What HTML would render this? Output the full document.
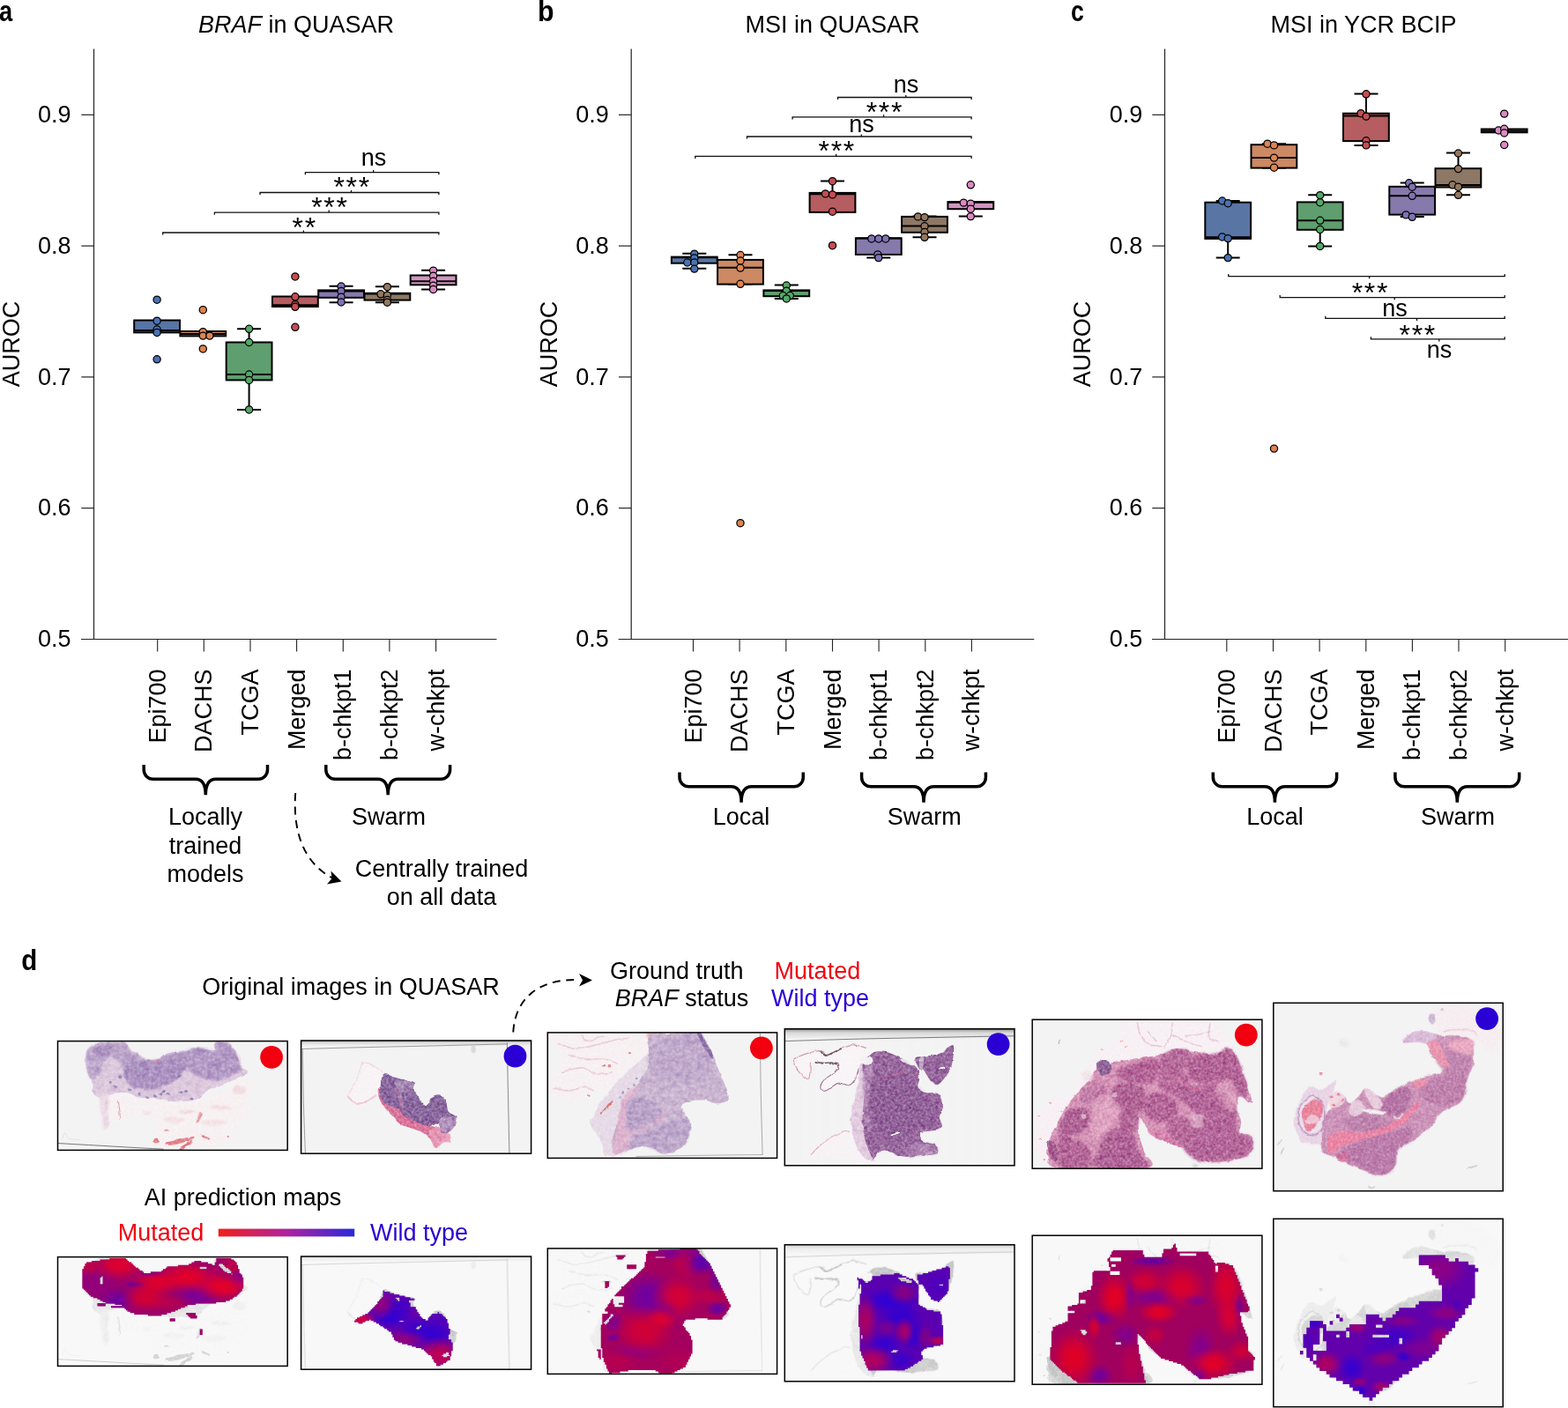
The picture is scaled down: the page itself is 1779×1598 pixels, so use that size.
<!DOCTYPE html>
<html lang="en"><head><meta charset="utf-8"><title>Figure</title>
<style>
html,body{margin:0;padding:0;background:#fff;}
body{width:1779px;height:1598px;overflow:hidden;font-family:"Liberation Sans", sans-serif;}
svg{display:block}
</style></head><body>
<svg width="1779" height="1598" viewBox="0 0 1779 1598" font-family='"Liberation Sans", sans-serif'>
<defs><linearGradient id="gbar" x1="0" x2="1" y1="0" y2="0"><stop offset="0" stop-color="#f2201a"/><stop offset="0.5" stop-color="#b022a0"/><stop offset="1" stop-color="#2a2ad8"/></linearGradient>
<filter id="b1" x="-30%" y="-30%" width="160%" height="160%"><feGaussianBlur stdDeviation="0.5"/></filter>
<filter id="b2" x="-30%" y="-30%" width="160%" height="160%"><feGaussianBlur stdDeviation="1.0"/></filter>
<filter id="b3" x="-30%" y="-30%" width="160%" height="160%"><feGaussianBlur stdDeviation="1.5"/></filter>
<filter id="b4" x="-30%" y="-30%" width="160%" height="160%"><feGaussianBlur stdDeviation="2.2"/></filter>
<filter id="b6" x="-30%" y="-30%" width="160%" height="160%"><feGaussianBlur stdDeviation="3.5"/></filter>
<filter id="b8" x="-30%" y="-30%" width="160%" height="160%"><feGaussianBlur stdDeviation="5"/></filter>
<filter id="b12" x="-30%" y="-30%" width="160%" height="160%"><feGaussianBlur stdDeviation="8"/></filter>
<filter id="rough" x="-5%" y="-5%" width="110%" height="110%" color-interpolation-filters="sRGB">
<feTurbulence type="fractalNoise" baseFrequency="0.09" numOctaves="3" seed="7" result="t"/>
<feDisplacementMap in="SourceGraphic" in2="t" scale="4" xChannelSelector="R" yChannelSelector="G" result="d"/>
<feTurbulence type="fractalNoise" baseFrequency="0.3" numOctaves="3" seed="11" result="n"/>
<feColorMatrix in="n" type="matrix" values="0 0 0 0 1  0 0 0 0 1  0 0 0 0 1  0.6 0 0 0 -0.2" result="w"/>
<feComposite in="w" in2="d" operator="in" result="wi"/>
<feTurbulence type="fractalNoise" baseFrequency="0.135" numOctaves="2" seed="16" result="n2"/>
<feColorMatrix in="n2" type="matrix" values="0 0 0 0 0.40  0 0 0 0 0.22  0 0 0 0 0.55  0 0.8 0 0 -0.3" result="k"/>
<feColorMatrix in="d" type="matrix" values="0 0 0 0 0  0 0 0 0 0  0 0 0 0 0  -3.2 -0.23 0 3.3 0" result="m"/>
<feComposite in="k" in2="m" operator="in" result="ki"/>
<feMerge><feMergeNode in="d"/><feMergeNode in="ki"/><feMergeNode in="wi"/></feMerge>
<feGaussianBlur stdDeviation="0.55"/>
</filter>
<filter id="rough2" x="-5%" y="-5%" width="110%" height="110%" color-interpolation-filters="sRGB">
<feTurbulence type="fractalNoise" baseFrequency="0.12" numOctaves="3" seed="3" result="t"/>
<feDisplacementMap in="SourceGraphic" in2="t" scale="3.5" xChannelSelector="R" yChannelSelector="G" result="d"/>
<feTurbulence type="fractalNoise" baseFrequency="0.35" numOctaves="3" seed="7" result="n"/>
<feColorMatrix in="n" type="matrix" values="0 0 0 0 1  0 0 0 0 1  0 0 0 0 1  0.7 0 0 0 -0.22" result="w"/>
<feComposite in="w" in2="d" operator="in" result="wi"/>
<feTurbulence type="fractalNoise" baseFrequency="0.158" numOctaves="2" seed="12" result="n2"/>
<feColorMatrix in="n2" type="matrix" values="0 0 0 0 0.36  0 0 0 0 0.12  0 0 0 0 0.42  0 1.1 0 0 -0.4" result="k"/>
<feColorMatrix in="d" type="matrix" values="0 0 0 0 0  0 0 0 0 0  0 0 0 0 0  -3.2 -0.23 0 3.3 0" result="m"/>
<feComposite in="k" in2="m" operator="in" result="ki"/>
<feMerge><feMergeNode in="d"/><feMergeNode in="ki"/><feMergeNode in="wi"/></feMerge>
<feGaussianBlur stdDeviation="0.55"/>
</filter>
<filter id="rough3" x="-5%" y="-5%" width="110%" height="110%" color-interpolation-filters="sRGB">
<feTurbulence type="fractalNoise" baseFrequency="0.12" numOctaves="3" seed="5" result="t"/>
<feDisplacementMap in="SourceGraphic" in2="t" scale="3.5" xChannelSelector="R" yChannelSelector="G" result="d"/>
<feTurbulence type="fractalNoise" baseFrequency="0.35" numOctaves="3" seed="9" result="n"/>
<feColorMatrix in="n" type="matrix" values="0 0 0 0 1  0 0 0 0 1  0 0 0 0 1  0.7 0 0 0 -0.22" result="w"/>
<feComposite in="w" in2="d" operator="in" result="wi"/>
<feTurbulence type="fractalNoise" baseFrequency="0.158" numOctaves="2" seed="14" result="n2"/>
<feColorMatrix in="n2" type="matrix" values="0 0 0 0 0.50  0 0 0 0 0.10  0 0 0 0 0.38  0 1.1 0 0 -0.4" result="k"/>
<feColorMatrix in="d" type="matrix" values="0 0 0 0 0  0 0 0 0 0  0 0 0 0 0  -3.2 -0.23 0 3.3 0" result="m"/>
<feComposite in="k" in2="m" operator="in" result="ki"/>
<feMerge><feMergeNode in="d"/><feMergeNode in="ki"/><feMergeNode in="wi"/></feMerge>
<feGaussianBlur stdDeviation="0.55"/>
</filter>
<filter id="rough4" x="-5%" y="-5%" width="110%" height="110%" color-interpolation-filters="sRGB">
<feTurbulence type="fractalNoise" baseFrequency="0.12" numOctaves="3" seed="9" result="t"/>
<feDisplacementMap in="SourceGraphic" in2="t" scale="3.5" xChannelSelector="R" yChannelSelector="G" result="d"/>
<feTurbulence type="fractalNoise" baseFrequency="0.35" numOctaves="3" seed="13" result="n"/>
<feColorMatrix in="n" type="matrix" values="0 0 0 0 1  0 0 0 0 1  0 0 0 0 1  0.6 0 0 0 -0.2" result="w"/>
<feComposite in="w" in2="d" operator="in" result="wi"/>
<feTurbulence type="fractalNoise" baseFrequency="0.158" numOctaves="2" seed="18" result="n2"/>
<feColorMatrix in="n2" type="matrix" values="0 0 0 0 0.55  0 0 0 0 0.20  0 0 0 0 0.45  0 0.8 0 0 -0.3" result="k"/>
<feColorMatrix in="d" type="matrix" values="0 0 0 0 0  0 0 0 0 0  0 0 0 0 0  -3.2 -0.23 0 3.3 0" result="m"/>
<feComposite in="k" in2="m" operator="in" result="ki"/>
<feMerge><feMergeNode in="d"/><feMergeNode in="ki"/><feMergeNode in="wi"/></feMerge>
<feGaussianBlur stdDeviation="0.55"/>
</filter>
<filter id="gray" x="0" y="0" width="100%" height="100%">
<feColorMatrix type="saturate" values="0"/>
<feComponentTransfer><feFuncR type="linear" slope="0.75" intercept="0.27"/><feFuncG type="linear" slope="0.75" intercept="0.27"/><feFuncB type="linear" slope="0.75" intercept="0.27"/></feComponentTransfer>
</filter>
<clipPath id="pm0"><path d="M58.90,1.35h18.60v1.95h-18.60zM179.80,1.35h17.05v1.95h-17.05zM48.05,2.90h31.00v1.95h-31.00zM179.80,2.90h20.15v1.95h-20.15zM38.75,4.45h41.85v1.95h-41.85zM155.00,4.45h7.75v1.95h-7.75zM179.80,4.45h21.70v1.95h-21.70zM32.55,6.00h51.15v1.95h-51.15zM151.90,6.00h18.60v1.95h-18.60zM178.25,6.00h24.80v1.95h-24.80zM31.00,7.55h54.25v1.95h-54.25zM148.80,7.55h26.35v1.95h-26.35zM178.25,7.55h4.65v1.95h-4.65zM187.55,7.55h15.50v1.95h-15.50zM31.00,9.10h55.80v1.95h-55.80zM136.40,9.10h46.50v1.95h-46.50zM189.10,9.10h15.50v1.95h-15.50zM29.45,10.65h58.90v1.95h-58.90zM124.00,10.65h37.20v1.95h-37.20zM168.95,10.65h15.50v1.95h-15.50zM190.65,10.65h13.95v1.95h-13.95zM29.45,12.20h62.00v1.95h-62.00zM122.45,12.20h38.75v1.95h-38.75zM168.95,12.20h17.05v1.95h-17.05zM193.75,12.20h10.85v1.95h-10.85zM27.90,13.75h65.10v1.95h-65.10zM119.35,13.75h68.20v1.95h-68.20zM195.30,13.75h10.85v1.95h-10.85zM27.90,15.30h68.20v1.95h-68.20zM117.80,15.30h71.30v1.95h-71.30zM196.85,15.30h9.30v1.95h-9.30zM27.90,16.85h69.75v1.95h-69.75zM105.40,16.85h86.80v1.95h-86.80zM196.85,16.85h9.30v1.95h-9.30zM27.90,18.40h168.95v1.95h-168.95zM198.40,18.40h9.30v1.95h-9.30zM27.90,19.95h181.35v1.95h-181.35zM27.90,21.50h21.70v1.95h-21.70zM51.15,21.50h158.10v1.95h-158.10zM27.90,23.05h20.15v1.95h-20.15zM51.15,23.05h159.65v1.95h-159.65zM27.90,24.60h20.15v1.95h-20.15zM51.15,24.60h159.65v1.95h-159.65zM27.90,26.15h20.15v1.95h-20.15zM51.15,26.15h159.65v1.95h-159.65zM27.90,27.70h20.15v1.95h-20.15zM51.15,27.70h159.65v1.95h-159.65zM27.90,29.25h20.15v1.95h-20.15zM51.15,29.25h159.65v1.95h-159.65zM27.90,30.80h182.90v1.95h-182.90zM27.90,32.35h182.90v1.95h-182.90zM27.90,33.90h182.90v1.95h-182.90zM29.45,35.45h179.80v1.95h-179.80zM31.00,37.00h178.25v1.95h-178.25zM32.55,38.55h175.15v1.95h-175.15zM34.10,40.10h172.05v1.95h-172.05zM35.65,41.65h168.95v1.95h-168.95zM37.20,43.20h165.85v1.95h-165.85zM40.30,44.75h159.65v1.95h-159.65zM44.95,46.30h153.45v1.95h-153.45zM48.05,47.85h147.25v1.95h-147.25zM51.15,49.40h139.50v1.95h-139.50zM54.25,50.95h125.55v1.95h-125.55zM44.95,52.50h9.30v1.95h-9.30zM65.10,52.50h91.45v1.95h-91.45zM44.95,54.05h9.30v1.95h-9.30zM72.85,54.05h74.40v1.95h-74.40zM60.45,55.60h83.70v1.95h-83.70zM75.95,57.15h63.55v1.95h-63.55zM77.50,58.70h58.90v1.95h-58.90zM79.05,60.25h54.25v1.95h-54.25zM82.15,61.80h46.50v1.95h-46.50zM86.80,63.35h37.20v1.95h-37.20zM145.70,63.35h10.85v1.95h-10.85zM102.30,64.90h15.50v1.95h-15.50zM147.25,64.90h9.30v1.95h-9.30zM148.80,66.45h9.30v1.95h-9.30zM150.35,68.00h7.75v1.95h-7.75zM127.10,69.55h6.20v1.95h-6.20zM127.10,71.10h6.20v1.95h-6.20zM161.20,81.95h3.10v1.95h-3.10zM161.20,83.50h3.10v1.95h-3.10zM161.20,85.05h3.10v1.95h-3.10zM161.20,86.60h3.10v1.95h-3.10z"/></clipPath>
<radialGradient id="rg6a00a4"><stop offset="0" stop-color="#6a00a4" stop-opacity="1"/><stop offset="0.35" stop-color="#6a00a4" stop-opacity="0.85"/><stop offset="0.7" stop-color="#6a00a4" stop-opacity="0.35"/><stop offset="1" stop-color="#6a00a4" stop-opacity="0"/></radialGradient>
<radialGradient id="rg5a00b0"><stop offset="0" stop-color="#5a00b0" stop-opacity="1"/><stop offset="0.35" stop-color="#5a00b0" stop-opacity="0.85"/><stop offset="0.7" stop-color="#5a00b0" stop-opacity="0.35"/><stop offset="1" stop-color="#5a00b0" stop-opacity="0"/></radialGradient>
<radialGradient id="rg7400a0"><stop offset="0" stop-color="#7400a0" stop-opacity="1"/><stop offset="0.35" stop-color="#7400a0" stop-opacity="0.85"/><stop offset="0.7" stop-color="#7400a0" stop-opacity="0.35"/><stop offset="1" stop-color="#7400a0" stop-opacity="0"/></radialGradient>
<radialGradient id="rg7a0098"><stop offset="0" stop-color="#7a0098" stop-opacity="1"/><stop offset="0.35" stop-color="#7a0098" stop-opacity="0.85"/><stop offset="0.7" stop-color="#7a0098" stop-opacity="0.35"/><stop offset="1" stop-color="#7a0098" stop-opacity="0"/></radialGradient>
<radialGradient id="rg8a0088"><stop offset="0" stop-color="#8a0088" stop-opacity="1"/><stop offset="0.35" stop-color="#8a0088" stop-opacity="0.85"/><stop offset="0.7" stop-color="#8a0088" stop-opacity="0.35"/><stop offset="1" stop-color="#8a0088" stop-opacity="0"/></radialGradient>
<radialGradient id="rg7a00a0"><stop offset="0" stop-color="#7a00a0" stop-opacity="1"/><stop offset="0.35" stop-color="#7a00a0" stop-opacity="0.85"/><stop offset="0.7" stop-color="#7a00a0" stop-opacity="0.35"/><stop offset="1" stop-color="#7a00a0" stop-opacity="0"/></radialGradient>
<radialGradient id="rg5a00a8"><stop offset="0" stop-color="#5a00a8" stop-opacity="1"/><stop offset="0.35" stop-color="#5a00a8" stop-opacity="0.85"/><stop offset="0.7" stop-color="#5a00a8" stop-opacity="0.35"/><stop offset="1" stop-color="#5a00a8" stop-opacity="0"/></radialGradient>
<radialGradient id="rgf2001c"><stop offset="0" stop-color="#f2001c" stop-opacity="1"/><stop offset="0.35" stop-color="#f2001c" stop-opacity="0.85"/><stop offset="0.7" stop-color="#f2001c" stop-opacity="0.35"/><stop offset="1" stop-color="#f2001c" stop-opacity="0"/></radialGradient>
<radialGradient id="rgf0001c"><stop offset="0" stop-color="#f0001c" stop-opacity="1"/><stop offset="0.35" stop-color="#f0001c" stop-opacity="0.85"/><stop offset="0.7" stop-color="#f0001c" stop-opacity="0.35"/><stop offset="1" stop-color="#f0001c" stop-opacity="0"/></radialGradient>
<radialGradient id="rgee001e"><stop offset="0" stop-color="#ee001e" stop-opacity="1"/><stop offset="0.35" stop-color="#ee001e" stop-opacity="0.85"/><stop offset="0.7" stop-color="#ee001e" stop-opacity="0.35"/><stop offset="1" stop-color="#ee001e" stop-opacity="0"/></radialGradient>
<radialGradient id="rge8001e"><stop offset="0" stop-color="#e8001e" stop-opacity="1"/><stop offset="0.35" stop-color="#e8001e" stop-opacity="0.85"/><stop offset="0.7" stop-color="#e8001e" stop-opacity="0.35"/><stop offset="1" stop-color="#e8001e" stop-opacity="0"/></radialGradient>
<radialGradient id="rge00028"><stop offset="0" stop-color="#e00028" stop-opacity="1"/><stop offset="0.35" stop-color="#e00028" stop-opacity="0.85"/><stop offset="0.7" stop-color="#e00028" stop-opacity="0.35"/><stop offset="1" stop-color="#e00028" stop-opacity="0"/></radialGradient>
<radialGradient id="rgd80030"><stop offset="0" stop-color="#d80030" stop-opacity="1"/><stop offset="0.35" stop-color="#d80030" stop-opacity="0.85"/><stop offset="0.7" stop-color="#d80030" stop-opacity="0.35"/><stop offset="1" stop-color="#d80030" stop-opacity="0"/></radialGradient>
<radialGradient id="rgd00038"><stop offset="0" stop-color="#d00038" stop-opacity="1"/><stop offset="0.35" stop-color="#d00038" stop-opacity="0.85"/><stop offset="0.7" stop-color="#d00038" stop-opacity="0.35"/><stop offset="1" stop-color="#d00038" stop-opacity="0"/></radialGradient>
<linearGradient id="slide2" x1="0" x2="0" y1="0" y2="1"><stop offset="0" stop-color="#4a4a4a"/><stop offset="0.2" stop-color="#b4b4b4"/><stop offset="0.5" stop-color="#dcdcdc"/><stop offset="1" stop-color="#f0f0f0"/></linearGradient>
<clipPath id="pm1"><path d="M93.00,38.55h1.55v1.95h-1.55zM93.00,40.10h7.75v1.95h-7.75zM93.00,41.65h12.40v1.95h-12.40zM93.00,43.20h18.60v1.95h-18.60zM93.00,44.75h24.80v1.95h-24.80zM91.45,46.30h15.50v1.95h-15.50zM111.60,46.30h12.40v1.95h-12.40zM89.90,47.85h18.60v1.95h-18.60zM111.60,47.85h17.05v1.95h-17.05zM88.35,49.40h21.70v1.95h-21.70zM111.60,49.40h10.85v1.95h-10.85zM86.80,50.95h35.65v1.95h-35.65zM86.80,52.50h37.20v1.95h-37.20zM85.25,54.05h38.75v1.95h-38.75zM83.70,55.60h40.30v1.95h-40.30zM82.15,57.15h48.05v1.95h-48.05zM80.60,58.70h49.60v1.95h-49.60zM79.05,60.25h52.70v1.95h-52.70zM77.50,61.80h54.25v1.95h-54.25zM75.95,63.35h57.35v1.95h-57.35zM155.00,63.35h1.55v1.95h-1.55zM72.85,64.90h62.00v1.95h-62.00zM148.80,64.90h10.85v1.95h-10.85zM69.75,66.45h65.10v1.95h-65.10zM147.25,66.45h13.95v1.95h-13.95zM66.65,68.00h69.75v1.95h-69.75zM145.70,68.00h17.05v1.95h-17.05zM63.55,69.55h74.40v1.95h-74.40zM144.15,69.55h20.15v1.95h-20.15zM62.00,71.10h15.50v1.95h-15.50zM79.05,71.10h62.00v1.95h-62.00zM144.15,71.10h21.70v1.95h-21.70zM60.45,72.65h12.40v1.95h-12.40zM82.15,72.65h29.45v1.95h-29.45zM116.25,72.65h49.60v1.95h-49.60zM65.10,74.20h4.65v1.95h-4.65zM85.25,74.20h80.60v1.95h-80.60zM88.35,75.75h79.05v1.95h-79.05zM89.90,77.30h44.95v1.95h-44.95zM136.40,77.30h31.00v1.95h-31.00zM93.00,78.85h38.75v1.95h-38.75zM136.40,78.85h31.00v1.95h-31.00zM94.55,80.40h35.65v1.95h-35.65zM134.85,80.40h32.55v1.95h-32.55zM97.65,81.95h34.10v1.95h-34.10zM133.30,81.95h35.65v1.95h-35.65zM99.20,83.50h69.75v1.95h-69.75zM102.30,85.05h66.65v1.95h-66.65zM102.30,86.60h66.65v1.95h-66.65zM103.85,88.15h63.55v1.95h-63.55zM103.85,89.70h63.55v1.95h-63.55zM105.40,91.25h62.00v1.95h-62.00zM105.40,92.80h62.00v1.95h-62.00zM106.95,94.35h63.55v1.95h-63.55zM110.05,95.90h60.45v1.95h-60.45zM114.70,97.45h57.35v1.95h-57.35zM120.90,99.00h51.15v1.95h-51.15zM125.55,100.55h46.50v1.95h-46.50zM130.20,102.10h41.85v1.95h-41.85zM136.40,103.65h35.65v1.95h-35.65zM139.50,105.20h32.55v1.95h-32.55zM141.05,106.75h29.45v1.95h-29.45zM142.60,108.30h21.70v1.95h-21.70zM167.40,108.30h3.10v1.95h-3.10zM144.15,109.85h17.05v1.95h-17.05zM167.40,109.85h3.10v1.95h-3.10zM147.25,111.40h12.40v1.95h-12.40zM168.95,111.40h1.55v1.95h-1.55zM148.80,112.95h12.40v1.95h-12.40zM165.85,112.95h3.10v1.95h-3.10zM148.80,114.50h20.15v1.95h-20.15zM150.35,116.05h18.60v1.95h-18.60zM150.35,117.60h15.50v1.95h-15.50zM151.90,119.15h12.40v1.95h-12.40zM153.45,120.70h7.75v1.95h-7.75zM153.45,122.25h4.65v1.95h-4.65z"/></clipPath>
<radialGradient id="rg2c00d8"><stop offset="0" stop-color="#2c00d8" stop-opacity="1"/><stop offset="0.35" stop-color="#2c00d8" stop-opacity="0.85"/><stop offset="0.7" stop-color="#2c00d8" stop-opacity="0.35"/><stop offset="1" stop-color="#2c00d8" stop-opacity="0"/></radialGradient>
<radialGradient id="rg3000d4"><stop offset="0" stop-color="#3000d4" stop-opacity="1"/><stop offset="0.35" stop-color="#3000d4" stop-opacity="0.85"/><stop offset="0.7" stop-color="#3000d4" stop-opacity="0.35"/><stop offset="1" stop-color="#3000d4" stop-opacity="0"/></radialGradient>
<radialGradient id="rg4000c8"><stop offset="0" stop-color="#4000c8" stop-opacity="1"/><stop offset="0.35" stop-color="#4000c8" stop-opacity="0.85"/><stop offset="0.7" stop-color="#4000c8" stop-opacity="0.35"/><stop offset="1" stop-color="#4000c8" stop-opacity="0"/></radialGradient>
<radialGradient id="rg4a00c0"><stop offset="0" stop-color="#4a00c0" stop-opacity="1"/><stop offset="0.35" stop-color="#4a00c0" stop-opacity="0.85"/><stop offset="0.7" stop-color="#4a00c0" stop-opacity="0.35"/><stop offset="1" stop-color="#4a00c0" stop-opacity="0"/></radialGradient>
<radialGradient id="rg3a00cc"><stop offset="0" stop-color="#3a00cc" stop-opacity="1"/><stop offset="0.35" stop-color="#3a00cc" stop-opacity="0.85"/><stop offset="0.7" stop-color="#3a00cc" stop-opacity="0.35"/><stop offset="1" stop-color="#3a00cc" stop-opacity="0"/></radialGradient>
<radialGradient id="rgd8003c"><stop offset="0" stop-color="#d8003c" stop-opacity="1"/><stop offset="0.35" stop-color="#d8003c" stop-opacity="0.85"/><stop offset="0.7" stop-color="#d8003c" stop-opacity="0.35"/><stop offset="1" stop-color="#d8003c" stop-opacity="0"/></radialGradient>
<radialGradient id="rgc8004a"><stop offset="0" stop-color="#c8004a" stop-opacity="1"/><stop offset="0.35" stop-color="#c8004a" stop-opacity="0.85"/><stop offset="0.7" stop-color="#c8004a" stop-opacity="0.35"/><stop offset="1" stop-color="#c8004a" stop-opacity="0"/></radialGradient>
<radialGradient id="rga8006a"><stop offset="0" stop-color="#a8006a" stop-opacity="1"/><stop offset="0.35" stop-color="#a8006a" stop-opacity="0.85"/><stop offset="0.7" stop-color="#a8006a" stop-opacity="0.35"/><stop offset="1" stop-color="#a8006a" stop-opacity="0"/></radialGradient>
<radialGradient id="rga00070"><stop offset="0" stop-color="#a00070" stop-opacity="1"/><stop offset="0.35" stop-color="#a00070" stop-opacity="0.85"/><stop offset="0.7" stop-color="#a00070" stop-opacity="0.35"/><stop offset="1" stop-color="#a00070" stop-opacity="0"/></radialGradient>
<clipPath id="pm2"><path d="M150.35,-0.20h18.60v1.95h-18.60zM125.55,1.35h44.95v1.95h-44.95zM113.15,2.90h58.90v1.95h-58.90zM113.15,4.45h58.90v1.95h-58.90zM111.60,6.00h62.00v1.95h-62.00zM77.50,7.55h10.85v1.95h-10.85zM111.60,7.55h63.55v1.95h-63.55zM79.05,9.10h7.75v1.95h-7.75zM111.60,9.10h10.85v1.95h-10.85zM133.30,9.10h43.40v1.95h-43.40zM79.05,10.65h6.20v1.95h-6.20zM111.60,10.65h66.65v1.95h-66.65zM111.60,12.20h68.20v1.95h-68.20zM111.60,13.75h69.75v1.95h-69.75zM110.05,15.30h72.85v1.95h-72.85zM110.05,16.85h74.40v1.95h-74.40zM89.90,18.40h10.85v1.95h-10.85zM110.05,18.40h74.40v1.95h-74.40zM89.90,19.95h10.85v1.95h-10.85zM110.05,19.95h75.95v1.95h-75.95zM89.90,21.50h10.85v1.95h-10.85zM108.50,21.50h77.50v1.95h-77.50zM106.95,23.05h80.60v1.95h-80.60zM105.40,24.60h82.15v1.95h-82.15zM103.85,26.15h85.25v1.95h-85.25zM102.30,27.70h86.80v1.95h-86.80zM100.75,29.25h89.90v1.95h-89.90zM99.20,30.80h91.45v1.95h-91.45zM97.65,32.35h94.55v1.95h-94.55zM94.55,33.90h97.65v1.95h-97.65zM93.00,35.45h100.75v1.95h-100.75zM65.10,37.00h4.65v1.95h-4.65zM91.45,37.00h102.30v1.95h-102.30zM65.10,38.55h4.65v1.95h-4.65zM89.90,38.55h105.40v1.95h-105.40zM65.10,40.10h4.65v1.95h-4.65zM88.35,40.10h106.95v1.95h-106.95zM65.10,41.65h4.65v1.95h-4.65zM86.80,41.65h110.05v1.95h-110.05zM65.10,43.20h3.10v1.95h-3.10zM83.70,43.20h113.15v1.95h-113.15zM83.70,44.75h114.70v1.95h-114.70zM82.15,46.30h116.25v1.95h-116.25zM80.60,47.85h119.35v1.95h-119.35zM79.05,49.40h120.90v1.95h-120.90zM77.50,50.95h124.00v1.95h-124.00zM75.95,52.50h125.55v1.95h-125.55zM86.80,54.05h116.25v1.95h-116.25zM86.80,55.60h116.25v1.95h-116.25zM72.85,57.15h1.55v1.95h-1.55zM86.80,57.15h117.80v1.95h-117.80zM71.30,58.70h3.10v1.95h-3.10zM86.80,58.70h117.80v1.95h-117.80zM71.30,60.25h3.10v1.95h-3.10zM86.80,60.25h119.35v1.95h-119.35zM69.75,61.80h4.65v1.95h-4.65zM80.60,61.80h125.55v1.95h-125.55zM68.20,63.35h7.75v1.95h-7.75zM85.25,63.35h122.45v1.95h-122.45zM68.20,64.90h7.75v1.95h-7.75zM85.25,64.90h122.45v1.95h-122.45zM66.65,66.45h139.50v1.95h-139.50zM65.10,68.00h141.05v1.95h-141.05zM65.10,69.55h139.50v1.95h-139.50zM68.20,71.10h134.85v1.95h-134.85zM68.20,72.65h134.85v1.95h-134.85zM62.00,74.20h9.30v1.95h-9.30zM74.40,74.20h127.10v1.95h-127.10zM62.00,75.75h9.30v1.95h-9.30zM74.40,75.75h125.55v1.95h-125.55zM62.00,77.30h7.75v1.95h-7.75zM72.85,77.30h125.55v1.95h-125.55zM62.00,78.85h6.20v1.95h-6.20zM71.30,78.85h96.10v1.95h-96.10zM181.35,78.85h17.05v1.95h-17.05zM62.00,80.40h4.65v1.95h-4.65zM69.75,80.40h86.80v1.95h-86.80zM62.00,81.95h3.10v1.95h-3.10zM69.75,81.95h85.25v1.95h-85.25zM62.00,83.50h1.55v1.95h-1.55zM68.20,83.50h86.80v1.95h-86.80zM62.00,85.05h3.10v1.95h-3.10zM66.65,85.05h86.80v1.95h-86.80zM60.45,86.60h93.00v1.95h-93.00zM60.45,88.15h94.55v1.95h-94.55zM60.45,89.70h96.10v1.95h-96.10zM60.45,91.25h96.10v1.95h-96.10zM60.45,92.80h97.65v1.95h-97.65zM60.45,94.35h99.20v1.95h-99.20zM60.45,95.90h100.75v1.95h-100.75zM60.45,97.45h100.75v1.95h-100.75zM60.45,99.00h102.30v1.95h-102.30zM60.45,100.55h102.30v1.95h-102.30zM60.45,102.10h102.30v1.95h-102.30zM60.45,103.65h103.85v1.95h-103.85zM60.45,105.20h103.85v1.95h-103.85zM60.45,106.75h103.85v1.95h-103.85zM60.45,108.30h103.85v1.95h-103.85zM60.45,109.85h103.85v1.95h-103.85zM60.45,111.40h103.85v1.95h-103.85zM62.00,112.95h102.30v1.95h-102.30zM55.80,114.50h4.65v1.95h-4.65zM62.00,114.50h102.30v1.95h-102.30zM57.35,116.05h3.10v1.95h-3.10zM62.00,116.05h102.30v1.95h-102.30zM57.35,117.60h3.10v1.95h-3.10zM62.00,117.60h102.30v1.95h-102.30zM57.35,119.15h3.10v1.95h-3.10zM62.00,119.15h100.75v1.95h-100.75zM57.35,120.70h3.10v1.95h-3.10zM62.00,120.70h100.75v1.95h-100.75zM57.35,122.25h3.10v1.95h-3.10zM62.00,122.25h99.20v1.95h-99.20zM58.90,123.80h1.55v1.95h-1.55zM63.55,123.80h97.65v1.95h-97.65zM63.55,125.35h96.10v1.95h-96.10zM63.55,126.90h96.10v1.95h-96.10zM65.10,128.45h93.00v1.95h-93.00zM65.10,130.00h93.00v1.95h-93.00zM66.65,131.55h89.90v1.95h-89.90zM66.65,133.10h89.90v1.95h-89.90zM66.65,134.65h86.80v1.95h-86.80zM68.20,136.20h82.15v1.95h-82.15zM68.20,137.75h23.25v1.95h-23.25zM122.45,137.75h24.80v1.95h-24.80zM69.75,139.30h12.40v1.95h-12.40zM125.55,139.30h18.60v1.95h-18.60zM69.75,140.85h3.10v1.95h-3.10zM127.10,140.85h13.95v1.95h-13.95z"/></clipPath>
<radialGradient id="rg6a00a8"><stop offset="0" stop-color="#6a00a8" stop-opacity="1"/><stop offset="0.35" stop-color="#6a00a8" stop-opacity="0.85"/><stop offset="0.7" stop-color="#6a00a8" stop-opacity="0.35"/><stop offset="1" stop-color="#6a00a8" stop-opacity="0"/></radialGradient>
<radialGradient id="rg5400b8"><stop offset="0" stop-color="#5400b8" stop-opacity="1"/><stop offset="0.35" stop-color="#5400b8" stop-opacity="0.85"/><stop offset="0.7" stop-color="#5400b8" stop-opacity="0.35"/><stop offset="1" stop-color="#5400b8" stop-opacity="0"/></radialGradient>
<radialGradient id="rg6000a8"><stop offset="0" stop-color="#6000a8" stop-opacity="1"/><stop offset="0.35" stop-color="#6000a8" stop-opacity="0.85"/><stop offset="0.7" stop-color="#6000a8" stop-opacity="0.35"/><stop offset="1" stop-color="#6000a8" stop-opacity="0"/></radialGradient>
<radialGradient id="rg800090"><stop offset="0" stop-color="#800090" stop-opacity="1"/><stop offset="0.35" stop-color="#800090" stop-opacity="0.85"/><stop offset="0.7" stop-color="#800090" stop-opacity="0.35"/><stop offset="1" stop-color="#800090" stop-opacity="0"/></radialGradient>
<radialGradient id="rge0002c"><stop offset="0" stop-color="#e0002c" stop-opacity="1"/><stop offset="0.35" stop-color="#e0002c" stop-opacity="0.85"/><stop offset="0.7" stop-color="#e0002c" stop-opacity="0.35"/><stop offset="1" stop-color="#e0002c" stop-opacity="0"/></radialGradient>
<radialGradient id="rgdc002c"><stop offset="0" stop-color="#dc002c" stop-opacity="1"/><stop offset="0.35" stop-color="#dc002c" stop-opacity="0.85"/><stop offset="0.7" stop-color="#dc002c" stop-opacity="0.35"/><stop offset="1" stop-color="#dc002c" stop-opacity="0"/></radialGradient>
<radialGradient id="rge4002a"><stop offset="0" stop-color="#e4002a" stop-opacity="1"/><stop offset="0.35" stop-color="#e4002a" stop-opacity="0.85"/><stop offset="0.7" stop-color="#e4002a" stop-opacity="0.35"/><stop offset="1" stop-color="#e4002a" stop-opacity="0"/></radialGradient>
<radialGradient id="rgc80040"><stop offset="0" stop-color="#c80040" stop-opacity="1"/><stop offset="0.35" stop-color="#c80040" stop-opacity="0.85"/><stop offset="0.7" stop-color="#c80040" stop-opacity="0.35"/><stop offset="1" stop-color="#c80040" stop-opacity="0"/></radialGradient>
<radialGradient id="rgcc003c"><stop offset="0" stop-color="#cc003c" stop-opacity="1"/><stop offset="0.35" stop-color="#cc003c" stop-opacity="0.85"/><stop offset="0.7" stop-color="#cc003c" stop-opacity="0.35"/><stop offset="1" stop-color="#cc003c" stop-opacity="0"/></radialGradient>
<radialGradient id="rgc00048"><stop offset="0" stop-color="#c00048" stop-opacity="1"/><stop offset="0.35" stop-color="#c00048" stop-opacity="0.85"/><stop offset="0.7" stop-color="#c00048" stop-opacity="0.35"/><stop offset="1" stop-color="#c00048" stop-opacity="0"/></radialGradient>
<linearGradient id="slide4" x1="0" x2="0" y1="0" y2="1"><stop offset="0" stop-color="#3a3a3a"/><stop offset="0.14" stop-color="#a4a4a4"/><stop offset="0.4" stop-color="#d6d6d6"/><stop offset="1" stop-color="#f0f0f0"/></linearGradient>
<clipPath id="pm3"><path d="M182.90,24.60h3.10v1.95h-3.10zM178.25,26.15h9.30v1.95h-9.30zM172.05,27.70h15.50v1.95h-15.50zM167.40,29.25h20.15v1.95h-20.15zM162.75,30.80h24.80v1.95h-24.80zM124.00,32.35h6.20v1.95h-6.20zM156.55,32.35h31.00v1.95h-31.00zM108.50,33.90h24.80v1.95h-24.80zM150.35,33.90h37.20v1.95h-37.20zM99.20,35.45h38.75v1.95h-38.75zM150.35,35.45h37.20v1.95h-37.20zM82.15,37.00h1.55v1.95h-1.55zM99.20,37.00h29.45v1.95h-29.45zM137.95,37.00h3.10v1.95h-3.10zM150.35,37.00h37.20v1.95h-37.20zM82.15,38.55h6.20v1.95h-6.20zM99.20,38.55h31.00v1.95h-31.00zM141.05,38.55h4.65v1.95h-4.65zM150.35,38.55h35.65v1.95h-35.65zM83.70,40.10h6.20v1.95h-6.20zM97.65,40.10h34.10v1.95h-34.10zM144.15,40.10h3.10v1.95h-3.10zM151.90,40.10h34.10v1.95h-34.10zM83.70,41.65h7.75v1.95h-7.75zM94.55,41.65h43.40v1.95h-43.40zM144.15,41.65h4.65v1.95h-4.65zM151.90,41.65h34.10v1.95h-34.10zM83.70,43.20h66.65v1.95h-66.65zM151.90,43.20h34.10v1.95h-34.10zM83.70,44.75h1.55v1.95h-1.55zM86.80,44.75h65.10v1.95h-65.10zM156.55,44.75h18.60v1.95h-18.60zM179.80,44.75h6.20v1.95h-6.20zM83.70,46.30h1.55v1.95h-1.55zM86.80,46.30h65.10v1.95h-65.10zM158.10,46.30h27.90v1.95h-27.90zM83.70,47.85h1.55v1.95h-1.55zM86.80,47.85h65.10v1.95h-65.10zM158.10,47.85h27.90v1.95h-27.90zM86.80,49.40h65.10v1.95h-65.10zM159.65,49.40h26.35v1.95h-26.35zM86.80,50.95h65.10v1.95h-65.10zM159.65,50.95h26.35v1.95h-26.35zM86.80,52.50h65.10v1.95h-65.10zM161.20,52.50h23.25v1.95h-23.25zM86.80,54.05h65.10v1.95h-65.10zM162.75,54.05h21.70v1.95h-21.70zM85.25,55.60h66.65v1.95h-66.65zM162.75,55.60h20.15v1.95h-20.15zM85.25,57.15h66.65v1.95h-66.65zM164.30,57.15h17.05v1.95h-17.05zM85.25,58.70h66.65v1.95h-66.65zM165.85,58.70h13.95v1.95h-13.95zM85.25,60.25h66.65v1.95h-66.65zM165.85,60.25h12.40v1.95h-12.40zM85.25,61.80h66.65v1.95h-66.65zM168.95,61.80h7.75v1.95h-7.75zM85.25,63.35h66.65v1.95h-66.65zM173.60,63.35h1.55v1.95h-1.55zM85.25,64.90h66.65v1.95h-66.65zM85.25,66.45h66.65v1.95h-66.65zM83.70,68.00h69.75v1.95h-69.75zM83.70,69.55h72.85v1.95h-72.85zM83.70,71.10h75.95v1.95h-75.95zM83.70,72.65h77.50v1.95h-77.50zM83.70,74.20h85.25v1.95h-85.25zM83.70,75.75h93.00v1.95h-93.00zM83.70,77.30h93.00v1.95h-93.00zM83.70,78.85h94.55v1.95h-94.55zM83.70,80.40h94.55v1.95h-94.55zM83.70,81.95h94.55v1.95h-94.55zM83.70,83.50h94.55v1.95h-94.55zM83.70,85.05h94.55v1.95h-94.55zM83.70,86.60h94.55v1.95h-94.55zM83.70,88.15h94.55v1.95h-94.55zM83.70,89.70h94.55v1.95h-94.55zM83.70,91.25h96.10v1.95h-96.10zM85.25,92.80h94.55v1.95h-94.55zM85.25,94.35h94.55v1.95h-94.55zM85.25,95.90h94.55v1.95h-94.55zM85.25,97.45h94.55v1.95h-94.55zM85.25,99.00h94.55v1.95h-94.55zM85.25,100.55h94.55v1.95h-94.55zM85.25,102.10h1.55v1.95h-1.55zM88.35,102.10h91.45v1.95h-91.45zM85.25,103.65h1.55v1.95h-1.55zM88.35,103.65h91.45v1.95h-91.45zM85.25,105.20h1.55v1.95h-1.55zM88.35,105.20h91.45v1.95h-91.45zM85.25,106.75h94.55v1.95h-94.55zM85.25,108.30h94.55v1.95h-94.55zM85.25,109.85h94.55v1.95h-94.55zM85.25,111.40h94.55v1.95h-94.55zM85.25,112.95h91.45v1.95h-91.45zM85.25,114.50h83.70v1.95h-83.70zM85.25,116.05h75.95v1.95h-75.95zM85.25,117.60h72.85v1.95h-72.85zM85.25,119.15h37.20v1.95h-37.20zM128.65,119.15h27.90v1.95h-27.90zM86.80,120.70h34.10v1.95h-34.10zM127.10,120.70h27.90v1.95h-27.90zM86.80,122.25h68.20v1.95h-68.20zM86.80,123.80h68.20v1.95h-68.20zM88.35,125.35h68.20v1.95h-68.20zM88.35,126.90h68.20v1.95h-68.20zM89.90,128.45h66.65v1.95h-66.65zM89.90,130.00h65.10v1.95h-65.10zM91.45,131.55h60.45v1.95h-60.45zM91.45,133.10h58.90v1.95h-58.90zM91.45,134.65h55.80v1.95h-55.80zM93.00,136.20h52.70v1.95h-52.70zM93.00,137.75h49.60v1.95h-49.60zM94.55,139.30h44.95v1.95h-44.95zM94.55,140.85h41.85v1.95h-41.85z"/></clipPath>
<radialGradient id="rg3400d0"><stop offset="0" stop-color="#3400d0" stop-opacity="1"/><stop offset="0.35" stop-color="#3400d0" stop-opacity="0.85"/><stop offset="0.7" stop-color="#3400d0" stop-opacity="0.35"/><stop offset="1" stop-color="#3400d0" stop-opacity="0"/></radialGradient>
<radialGradient id="rg4800c4"><stop offset="0" stop-color="#4800c4" stop-opacity="1"/><stop offset="0.35" stop-color="#4800c4" stop-opacity="0.85"/><stop offset="0.7" stop-color="#4800c4" stop-opacity="0.35"/><stop offset="1" stop-color="#4800c4" stop-opacity="0"/></radialGradient>
<radialGradient id="rgb4005a"><stop offset="0" stop-color="#b4005a" stop-opacity="1"/><stop offset="0.35" stop-color="#b4005a" stop-opacity="0.85"/><stop offset="0.7" stop-color="#b4005a" stop-opacity="0.35"/><stop offset="1" stop-color="#b4005a" stop-opacity="0"/></radialGradient>
<radialGradient id="rgbc0054"><stop offset="0" stop-color="#bc0054" stop-opacity="1"/><stop offset="0.35" stop-color="#bc0054" stop-opacity="0.85"/><stop offset="0.7" stop-color="#bc0054" stop-opacity="0.35"/><stop offset="1" stop-color="#bc0054" stop-opacity="0"/></radialGradient>
<radialGradient id="rgb80058"><stop offset="0" stop-color="#b80058" stop-opacity="1"/><stop offset="0.35" stop-color="#b80058" stop-opacity="0.85"/><stop offset="0.7" stop-color="#b80058" stop-opacity="0.35"/><stop offset="1" stop-color="#b80058" stop-opacity="0"/></radialGradient>
<radialGradient id="rgc4004c"><stop offset="0" stop-color="#c4004c" stop-opacity="1"/><stop offset="0.35" stop-color="#c4004c" stop-opacity="0.85"/><stop offset="0.7" stop-color="#c4004c" stop-opacity="0.35"/><stop offset="1" stop-color="#c4004c" stop-opacity="0"/></radialGradient>
<radialGradient id="rga00068"><stop offset="0" stop-color="#a00068" stop-opacity="1"/><stop offset="0.35" stop-color="#a00068" stop-opacity="0.85"/><stop offset="0.7" stop-color="#a00068" stop-opacity="0.35"/><stop offset="1" stop-color="#a00068" stop-opacity="0"/></radialGradient>
<radialGradient id="rg980070"><stop offset="0" stop-color="#980070" stop-opacity="1"/><stop offset="0.35" stop-color="#980070" stop-opacity="0.85"/><stop offset="0.7" stop-color="#980070" stop-opacity="0.35"/><stop offset="1" stop-color="#980070" stop-opacity="0"/></radialGradient>
<clipPath id="pm4"><path d="M161.20,9.10h1.55v1.95h-1.55zM159.65,10.65h3.10v1.95h-3.10zM159.65,12.20h3.10v1.95h-3.10zM158.10,13.75h6.20v1.95h-6.20zM148.80,15.30h15.50v1.95h-15.50zM91.45,16.85h34.10v1.95h-34.10zM148.80,16.85h15.50v1.95h-15.50zM89.90,18.40h35.65v1.95h-35.65zM148.80,18.40h51.15v1.95h-51.15zM89.90,19.95h35.65v1.95h-35.65zM147.25,19.95h20.15v1.95h-20.15zM186.00,19.95h13.95v1.95h-13.95zM88.35,21.50h38.75v1.95h-38.75zM147.25,21.50h20.15v1.95h-20.15zM186.00,21.50h15.50v1.95h-15.50zM88.35,23.05h38.75v1.95h-38.75zM147.25,23.05h55.80v1.95h-55.80zM86.80,24.60h1.55v1.95h-1.55zM100.75,24.60h102.30v1.95h-102.30zM85.25,26.15h3.10v1.95h-3.10zM100.75,26.15h103.85v1.95h-103.85zM85.25,27.70h3.10v1.95h-3.10zM100.75,27.70h105.40v1.95h-105.40zM86.80,29.25h119.35v1.95h-119.35zM86.80,30.80h120.90v1.95h-120.90zM209.25,30.80h9.30v1.95h-9.30zM86.80,32.35h3.10v1.95h-3.10zM94.55,32.35h128.65v1.95h-128.65zM86.80,33.90h3.10v1.95h-3.10zM94.55,33.90h113.15v1.95h-113.15zM210.80,33.90h17.05v1.95h-17.05zM88.35,35.45h119.35v1.95h-119.35zM210.80,35.45h17.05v1.95h-17.05zM88.35,37.00h119.35v1.95h-119.35zM210.80,37.00h18.60v1.95h-18.60zM88.35,38.55h119.35v1.95h-119.35zM210.80,38.55h18.60v1.95h-18.60zM69.75,40.10h18.60v1.95h-18.60zM99.20,40.10h108.50v1.95h-108.50zM210.80,40.10h18.60v1.95h-18.60zM68.20,41.65h20.15v1.95h-20.15zM99.20,41.65h131.75v1.95h-131.75zM68.20,43.20h20.15v1.95h-20.15zM99.20,43.20h131.75v1.95h-131.75zM68.20,44.75h164.30v1.95h-164.30zM68.20,46.30h164.30v1.95h-164.30zM68.20,47.85h164.30v1.95h-164.30zM68.20,49.40h165.85v1.95h-165.85zM68.20,50.95h165.85v1.95h-165.85zM68.20,52.50h167.40v1.95h-167.40zM68.20,54.05h167.40v1.95h-167.40zM68.20,55.60h167.40v1.95h-167.40zM66.65,57.15h170.50v1.95h-170.50zM66.65,58.70h170.50v1.95h-170.50zM66.65,60.25h170.50v1.95h-170.50zM62.00,61.80h176.70v1.95h-176.70zM57.35,63.35h181.35v1.95h-181.35zM52.70,64.90h187.55v1.95h-187.55zM52.70,66.45h187.55v1.95h-187.55zM52.70,68.00h187.55v1.95h-187.55zM52.70,69.55h189.10v1.95h-189.10zM52.70,71.10h189.10v1.95h-189.10zM52.70,72.65h1.55v1.95h-1.55zM60.45,72.65h182.90v1.95h-182.90zM52.70,74.20h1.55v1.95h-1.55zM60.45,74.20h182.90v1.95h-182.90zM52.70,75.75h1.55v1.95h-1.55zM60.45,75.75h182.90v1.95h-182.90zM51.15,77.30h193.75v1.95h-193.75zM44.95,78.85h199.95v1.95h-199.95zM40.30,80.40h206.15v1.95h-206.15zM40.30,81.95h206.15v1.95h-206.15zM40.30,83.50h206.15v1.95h-206.15zM48.05,85.05h196.85v1.95h-196.85zM48.05,86.60h187.55v1.95h-187.55zM40.30,88.15h195.30v1.95h-195.30zM40.30,89.70h195.30v1.95h-195.30zM40.30,91.25h196.85v1.95h-196.85zM40.30,92.80h196.85v1.95h-196.85zM40.30,94.35h196.85v1.95h-196.85zM40.30,95.90h196.85v1.95h-196.85zM37.20,97.45h199.95v1.95h-199.95zM34.10,99.00h204.60v1.95h-204.60zM29.45,100.55h209.25v1.95h-209.25zM26.35,102.10h212.35v1.95h-212.35zM23.25,103.65h217.00v1.95h-217.00zM23.25,105.20h217.00v1.95h-217.00zM23.25,106.75h31.00v1.95h-31.00zM60.45,106.75h181.35v1.95h-181.35zM21.70,108.30h34.10v1.95h-34.10zM62.00,108.30h179.80v1.95h-179.80zM21.70,109.85h34.10v1.95h-34.10zM62.00,109.85h179.80v1.95h-179.80zM21.70,111.40h35.65v1.95h-35.65zM60.45,111.40h58.90v1.95h-58.90zM120.90,111.40h122.45v1.95h-122.45zM21.70,112.95h97.65v1.95h-97.65zM122.45,112.95h120.90v1.95h-120.90zM21.70,114.50h97.65v1.95h-97.65zM124.00,114.50h120.90v1.95h-120.90zM21.70,116.05h97.65v1.95h-97.65zM125.55,116.05h119.35v1.95h-119.35zM21.70,117.60h97.65v1.95h-97.65zM127.10,117.60h117.80v1.95h-117.80zM21.70,119.15h97.65v1.95h-97.65zM128.65,119.15h116.25v1.95h-116.25zM21.70,120.70h72.85v1.95h-72.85zM100.75,120.70h18.60v1.95h-18.60zM128.65,120.70h116.25v1.95h-116.25zM21.70,122.25h72.85v1.95h-72.85zM100.75,122.25h18.60v1.95h-18.60zM130.20,122.25h114.70v1.95h-114.70zM21.70,123.80h99.20v1.95h-99.20zM131.75,123.80h113.15v1.95h-113.15zM21.70,125.35h99.20v1.95h-99.20zM133.30,125.35h111.60v1.95h-111.60zM20.15,126.90h100.75v1.95h-100.75zM134.85,126.90h110.05v1.95h-110.05zM20.15,128.45h100.75v1.95h-100.75zM136.40,128.45h108.50v1.95h-108.50zM20.15,130.00h100.75v1.95h-100.75zM137.95,130.00h106.95v1.95h-106.95zM20.15,131.55h100.75v1.95h-100.75zM139.50,131.55h106.95v1.95h-106.95zM20.15,133.10h100.75v1.95h-100.75zM141.05,133.10h106.95v1.95h-106.95zM20.15,134.65h102.30v1.95h-102.30zM142.60,134.65h106.95v1.95h-106.95zM20.15,136.20h102.30v1.95h-102.30zM144.15,136.20h106.95v1.95h-106.95zM20.15,137.75h102.30v1.95h-102.30zM145.70,137.75h106.95v1.95h-106.95zM20.15,139.30h102.30v1.95h-102.30zM150.35,139.30h102.30v1.95h-102.30zM21.70,140.85h100.75v1.95h-100.75zM155.00,140.85h96.10v1.95h-96.10zM23.25,142.40h100.75v1.95h-100.75zM159.65,142.40h91.45v1.95h-91.45zM24.80,143.95h99.20v1.95h-99.20zM164.30,143.95h86.80v1.95h-86.80zM26.35,145.50h97.65v1.95h-97.65zM168.95,145.50h82.15v1.95h-82.15zM27.90,147.05h96.10v1.95h-96.10zM172.05,147.05h79.05v1.95h-79.05zM29.45,148.60h96.10v1.95h-96.10zM173.60,148.60h77.50v1.95h-77.50zM31.00,150.15h94.55v1.95h-94.55zM175.15,150.15h75.95v1.95h-75.95zM32.55,151.70h93.00v1.95h-93.00zM176.70,151.70h74.40v1.95h-74.40zM34.10,153.25h91.45v1.95h-91.45zM179.80,153.25h62.00v1.95h-62.00zM37.20,154.80h88.35v1.95h-88.35zM181.35,154.80h51.15v1.95h-51.15zM38.75,156.35h88.35v1.95h-88.35zM182.90,156.35h40.30v1.95h-40.30zM40.30,157.90h86.80v1.95h-86.80zM186.00,157.90h31.00v1.95h-31.00zM43.40,159.45h83.70v1.95h-83.70zM187.55,159.45h23.25v1.95h-23.25zM44.95,161.00h82.15v1.95h-82.15zM189.10,161.00h13.95v1.95h-13.95zM46.50,162.55h80.60v1.95h-80.60zM49.60,164.10h79.05v1.95h-79.05zM51.15,165.65h77.50v1.95h-77.50z"/></clipPath>
<radialGradient id="rg7a009a"><stop offset="0" stop-color="#7a009a" stop-opacity="1"/><stop offset="0.35" stop-color="#7a009a" stop-opacity="0.85"/><stop offset="0.7" stop-color="#7a009a" stop-opacity="0.35"/><stop offset="1" stop-color="#7a009a" stop-opacity="0"/></radialGradient>
<radialGradient id="rgf00018"><stop offset="0" stop-color="#f00018" stop-opacity="1"/><stop offset="0.35" stop-color="#f00018" stop-opacity="0.85"/><stop offset="0.7" stop-color="#f00018" stop-opacity="0.35"/><stop offset="1" stop-color="#f00018" stop-opacity="0"/></radialGradient>
<radialGradient id="rgee001a"><stop offset="0" stop-color="#ee001a" stop-opacity="1"/><stop offset="0.35" stop-color="#ee001a" stop-opacity="0.85"/><stop offset="0.7" stop-color="#ee001a" stop-opacity="0.35"/><stop offset="1" stop-color="#ee001a" stop-opacity="0"/></radialGradient>
<radialGradient id="rge80020"><stop offset="0" stop-color="#e80020" stop-opacity="1"/><stop offset="0.35" stop-color="#e80020" stop-opacity="0.85"/><stop offset="0.7" stop-color="#e80020" stop-opacity="0.35"/><stop offset="1" stop-color="#e80020" stop-opacity="0"/></radialGradient>
<radialGradient id="rgf0001a"><stop offset="0" stop-color="#f0001a" stop-opacity="1"/><stop offset="0.35" stop-color="#f0001a" stop-opacity="0.85"/><stop offset="0.7" stop-color="#f0001a" stop-opacity="0.35"/><stop offset="1" stop-color="#f0001a" stop-opacity="0"/></radialGradient>
<clipPath id="pm5"><path d="M165.00,41.05h30.00v4.15h-30.00zM165.00,44.80h33.75v4.15h-33.75zM206.25,44.80h3.75v4.15h-3.75zM165.00,48.55h56.25v4.15h-56.25zM176.25,52.30h52.50v4.15h-52.50zM180.00,56.05h52.50v4.15h-52.50zM180.00,59.80h48.75v4.15h-48.75zM183.75,63.55h45.00v4.15h-45.00zM187.50,67.30h41.25v4.15h-41.25zM187.50,71.05h41.25v4.15h-41.25zM191.25,74.80h37.50v4.15h-37.50zM191.25,78.55h37.50v4.15h-37.50zM191.25,82.30h37.50v4.15h-37.50zM191.25,86.05h37.50v4.15h-37.50zM191.25,89.80h33.75v4.15h-33.75zM165.00,93.55h60.00v4.15h-60.00zM161.25,97.30h60.00v4.15h-60.00zM142.50,101.05h75.00v4.15h-75.00zM138.75,104.80h78.75v4.15h-78.75zM71.25,108.55h3.75v4.15h-3.75zM105.00,108.55h15.00v4.15h-15.00zM135.00,108.55h78.75v4.15h-78.75zM75.00,112.30h3.75v4.15h-3.75zM105.00,112.30h18.75v4.15h-18.75zM127.50,112.30h82.50v4.15h-82.50zM41.25,116.05h15.00v4.15h-15.00zM63.75,116.05h3.75v4.15h-3.75zM105.00,116.05h101.25v4.15h-101.25zM41.25,119.80h18.75v4.15h-18.75zM86.25,119.80h30.00v4.15h-30.00zM123.75,119.80h82.50v4.15h-82.50zM37.50,123.55h15.00v4.15h-15.00zM56.25,123.55h3.75v4.15h-3.75zM82.50,123.55h120.00v4.15h-120.00zM37.50,127.30h15.00v4.15h-15.00zM56.25,127.30h26.25v4.15h-26.25zM86.25,127.30h112.50v4.15h-112.50zM33.75,131.05h18.75v4.15h-18.75zM56.25,131.05h15.00v4.15h-15.00zM75.00,131.05h7.50v4.15h-7.50zM86.25,131.05h26.25v4.15h-26.25zM131.25,131.05h63.75v4.15h-63.75zM33.75,134.80h18.75v4.15h-18.75zM56.25,134.80h86.25v4.15h-86.25zM146.25,134.80h45.00v4.15h-45.00zM33.75,138.55h18.75v4.15h-18.75zM60.00,138.55h82.50v4.15h-82.50zM146.25,138.55h45.00v4.15h-45.00zM33.75,142.30h11.25v4.15h-11.25zM60.00,142.30h127.50v4.15h-127.50zM37.50,146.05h7.50v4.15h-7.50zM60.00,146.05h127.50v4.15h-127.50zM30.00,149.80h3.75v4.15h-3.75zM37.50,149.80h146.25v4.15h-146.25zM37.50,153.55h7.50v4.15h-7.50zM48.75,153.55h131.25v4.15h-131.25zM41.25,157.30h3.75v4.15h-3.75zM48.75,157.30h127.50v4.15h-127.50zM45.00,161.05h123.75v4.15h-123.75zM48.75,164.80h116.25v4.15h-116.25zM52.50,168.55h105.00v4.15h-105.00zM60.00,172.30h93.75v4.15h-93.75zM63.75,176.05h82.50v4.15h-82.50zM71.25,179.80h71.25v4.15h-71.25zM78.75,183.55h56.25v4.15h-56.25zM86.25,187.30h45.00v4.15h-45.00zM90.00,191.05h33.75v4.15h-33.75zM97.50,194.80h22.50v4.15h-22.50zM101.25,198.55h15.00v4.15h-15.00zM108.75,202.30h3.75v4.15h-3.75z"/></clipPath>
<radialGradient id="rg4400c4"><stop offset="0" stop-color="#4400c4" stop-opacity="1"/><stop offset="0.35" stop-color="#4400c4" stop-opacity="0.85"/><stop offset="0.7" stop-color="#4400c4" stop-opacity="0.35"/><stop offset="1" stop-color="#4400c4" stop-opacity="0"/></radialGradient>
<radialGradient id="rgb00060"><stop offset="0" stop-color="#b00060" stop-opacity="1"/><stop offset="0.35" stop-color="#b00060" stop-opacity="0.85"/><stop offset="0.7" stop-color="#b00060" stop-opacity="0.35"/><stop offset="1" stop-color="#b00060" stop-opacity="0"/></radialGradient>
<radialGradient id="rg98007a"><stop offset="0" stop-color="#98007a" stop-opacity="1"/><stop offset="0.35" stop-color="#98007a" stop-opacity="0.85"/><stop offset="0.7" stop-color="#98007a" stop-opacity="0.35"/><stop offset="1" stop-color="#98007a" stop-opacity="0"/></radialGradient>
<radialGradient id="rga0006c"><stop offset="0" stop-color="#a0006c" stop-opacity="1"/><stop offset="0.35" stop-color="#a0006c" stop-opacity="0.85"/><stop offset="0.7" stop-color="#a0006c" stop-opacity="0.35"/><stop offset="1" stop-color="#a0006c" stop-opacity="0"/></radialGradient>
<radialGradient id="rg980074"><stop offset="0" stop-color="#980074" stop-opacity="1"/><stop offset="0.35" stop-color="#980074" stop-opacity="0.85"/><stop offset="0.7" stop-color="#980074" stop-opacity="0.35"/><stop offset="1" stop-color="#980074" stop-opacity="0"/></radialGradient>
<radialGradient id="rga80064"><stop offset="0" stop-color="#a80064" stop-opacity="1"/><stop offset="0.35" stop-color="#a80064" stop-opacity="0.85"/><stop offset="0.7" stop-color="#a80064" stop-opacity="0.35"/><stop offset="1" stop-color="#a80064" stop-opacity="0"/></radialGradient></defs>
<rect width="1779" height="1598" fill="#fff"/>
<g>
<text transform="translate(-1.0,24.3) scale(0.88,1.06)" font-size="31" font-weight="bold">a</text>
<text x="336.0" y="37.3" font-size="27.0" text-anchor="middle"><tspan font-style="italic">BRAF</tspan> in QUASAR</text>
<path d="M106.5,55.5 V725.5 M92.0,725.5 H563.5" stroke="#222" stroke-width="1.2" fill="none"/>
<path d="M92.3,576.7 H106.5" stroke="#222" stroke-width="1.2"/>
<path d="M92.3,427.9 H106.5" stroke="#222" stroke-width="1.2"/>
<path d="M92.3,279.1 H106.5" stroke="#222" stroke-width="1.2"/>
<path d="M92.3,130.3 H106.5" stroke="#222" stroke-width="1.2"/>
<text x="80.5" y="734.1" font-size="27.0" text-anchor="end" fill="#000">0.5</text>
<text x="80.5" y="585.3" font-size="27.0" text-anchor="end" fill="#000">0.6</text>
<text x="80.5" y="436.5" font-size="27.0" text-anchor="end" fill="#000">0.7</text>
<text x="80.5" y="287.7" font-size="27.0" text-anchor="end" fill="#000">0.8</text>
<text x="80.5" y="138.9" font-size="27.0" text-anchor="end" fill="#000">0.9</text>
<text transform="translate(22.3,390.5) rotate(-90)" font-size="27.0" text-anchor="middle">AUROC</text>
<path d="M178.7,725.5 V739.5" stroke="#222" stroke-width="1.1"/>
<text transform="translate(187.7,759.5) rotate(-90)" font-size="27.0" text-anchor="end">Epi700</text>
<path d="M231.3,725.5 V739.5" stroke="#222" stroke-width="1.1"/>
<text transform="translate(240.3,759.5) rotate(-90)" font-size="27.0" text-anchor="end">DACHS</text>
<path d="M284.0,725.5 V739.5" stroke="#222" stroke-width="1.1"/>
<text transform="translate(293.0,759.5) rotate(-90)" font-size="27.0" text-anchor="end">TCGA</text>
<path d="M336.6,725.5 V739.5" stroke="#222" stroke-width="1.1"/>
<text transform="translate(345.6,759.5) rotate(-90)" font-size="27.0" text-anchor="end">Merged</text>
<path d="M389.3,725.5 V739.5" stroke="#222" stroke-width="1.1"/>
<text transform="translate(398.3,759.5) rotate(-90)" font-size="27.0" text-anchor="end">b-chkpt1</text>
<path d="M441.9,725.5 V739.5" stroke="#222" stroke-width="1.1"/>
<text transform="translate(450.9,759.5) rotate(-90)" font-size="27.0" text-anchor="end">b-chkpt2</text>
<path d="M494.6,725.5 V739.5" stroke="#222" stroke-width="1.1"/>
<text transform="translate(503.6,759.5) rotate(-90)" font-size="27.0" text-anchor="end">w-chkpt</text>
<rect x="152.2" y="363.5" width="51.8" height="13.9" fill="#5875a4" stroke="#000" stroke-width="2"/>
<path d="M152.2,375.0 h51.8" stroke="#000" stroke-width="2"/>
<circle cx="178.1" cy="340.2" r="4.1" fill="#4c72b0" stroke="#000" stroke-width="1.25"/>
<circle cx="178.1" cy="364.2" r="4.1" fill="#4c72b0" stroke="#000" stroke-width="1.25"/>
<circle cx="178.1" cy="374.0" r="4.1" fill="#4c72b0" stroke="#000" stroke-width="1.25"/>
<circle cx="178.1" cy="377.4" r="4.1" fill="#4c72b0" stroke="#000" stroke-width="1.25"/>
<circle cx="178.1" cy="407.8" r="4.1" fill="#4c72b0" stroke="#000" stroke-width="1.25"/>
<rect x="204.4" y="376.0" width="51.8" height="5.4" fill="#cc8963" stroke="#000" stroke-width="2"/>
<path d="M204.4,379.1 h51.8" stroke="#000" stroke-width="2"/>
<circle cx="230.3" cy="351.7" r="4.1" fill="#dd8452" stroke="#000" stroke-width="1.25"/>
<circle cx="230.3" cy="376.7" r="4.1" fill="#dd8452" stroke="#000" stroke-width="1.25"/>
<circle cx="230.3" cy="381.1" r="4.1" fill="#dd8452" stroke="#000" stroke-width="1.25"/>
<circle cx="237.9" cy="381.1" r="4.1" fill="#dd8452" stroke="#000" stroke-width="1.25"/>
<circle cx="230.3" cy="395.9" r="4.1" fill="#dd8452" stroke="#000" stroke-width="1.25"/>
<path d="M282.6,373.3 V388.5 M282.6,431.4 V464.9 M269.1,373.3 h27 M269.1,464.9 h27" stroke="#000" stroke-width="2" fill="none"/>
<rect x="256.7" y="388.5" width="51.8" height="42.9" fill="#5f9e6e" stroke="#000" stroke-width="2"/>
<path d="M256.7,425.0 h51.8" stroke="#000" stroke-width="2"/>
<circle cx="282.6" cy="373.3" r="4.1" fill="#55a868" stroke="#000" stroke-width="1.25"/>
<circle cx="282.6" cy="388.5" r="4.1" fill="#55a868" stroke="#000" stroke-width="1.25"/>
<circle cx="282.6" cy="425.0" r="4.1" fill="#55a868" stroke="#000" stroke-width="1.25"/>
<circle cx="282.6" cy="431.4" r="4.1" fill="#55a868" stroke="#000" stroke-width="1.25"/>
<circle cx="282.6" cy="464.9" r="4.1" fill="#55a868" stroke="#000" stroke-width="1.25"/>
<rect x="309.0" y="336.5" width="51.8" height="11.5" fill="#b55d60" stroke="#000" stroke-width="2"/>
<path d="M309.0,346.3 h51.8" stroke="#000" stroke-width="2"/>
<circle cx="334.9" cy="313.9" r="4.1" fill="#c44e52" stroke="#000" stroke-width="1.25"/>
<circle cx="334.9" cy="336.8" r="4.1" fill="#c44e52" stroke="#000" stroke-width="1.25"/>
<circle cx="334.9" cy="345.6" r="4.1" fill="#c44e52" stroke="#000" stroke-width="1.25"/>
<circle cx="334.9" cy="348.3" r="4.1" fill="#c44e52" stroke="#000" stroke-width="1.25"/>
<circle cx="334.9" cy="371.3" r="4.1" fill="#c44e52" stroke="#000" stroke-width="1.25"/>
<path d="M387.1,324.7 V329.4 M387.1,337.8 V343.2 M373.6,324.7 h27 M373.6,343.2 h27" stroke="#000" stroke-width="2" fill="none"/>
<rect x="361.2" y="329.4" width="51.8" height="8.4" fill="#857aab" stroke="#000" stroke-width="2"/>
<path d="M361.2,330.4 h51.8" stroke="#000" stroke-width="2"/>
<circle cx="387.1" cy="325.0" r="4.1" fill="#8172b3" stroke="#000" stroke-width="1.25"/>
<circle cx="387.1" cy="330.4" r="4.1" fill="#8172b3" stroke="#000" stroke-width="1.25"/>
<circle cx="387.1" cy="337.2" r="4.1" fill="#8172b3" stroke="#000" stroke-width="1.25"/>
<circle cx="387.1" cy="342.9" r="4.1" fill="#8172b3" stroke="#000" stroke-width="1.25"/>
<path d="M439.4,325.3 V332.8 M439.4,340.5 V343.2 M425.9,325.3 h27 M425.9,343.2 h27" stroke="#000" stroke-width="2" fill="none"/>
<rect x="413.5" y="332.8" width="51.8" height="7.8" fill="#8d7866" stroke="#000" stroke-width="2"/>
<path d="M413.5,333.4 h51.8" stroke="#000" stroke-width="2"/>
<circle cx="439.4" cy="325.7" r="4.1" fill="#937860" stroke="#000" stroke-width="1.25"/>
<circle cx="432.0" cy="333.8" r="4.1" fill="#937860" stroke="#000" stroke-width="1.25"/>
<circle cx="439.4" cy="335.1" r="4.1" fill="#937860" stroke="#000" stroke-width="1.25"/>
<circle cx="439.4" cy="340.5" r="4.1" fill="#937860" stroke="#000" stroke-width="1.25"/>
<circle cx="439.4" cy="343.2" r="4.1" fill="#937860" stroke="#000" stroke-width="1.25"/>
<path d="M491.6,306.8 V312.5 M491.6,323.3 V328.4 M478.1,306.8 h27 M478.1,328.4 h27" stroke="#000" stroke-width="2" fill="none"/>
<rect x="465.7" y="312.5" width="51.8" height="10.8" fill="#d095bf" stroke="#000" stroke-width="2"/>
<path d="M465.7,319.3 h51.8" stroke="#000" stroke-width="2"/>
<circle cx="491.6" cy="307.1" r="4.1" fill="#da8bc3" stroke="#000" stroke-width="1.25"/>
<circle cx="491.6" cy="313.2" r="4.1" fill="#da8bc3" stroke="#000" stroke-width="1.25"/>
<circle cx="491.6" cy="319.3" r="4.1" fill="#da8bc3" stroke="#000" stroke-width="1.25"/>
<circle cx="491.6" cy="324.3" r="4.1" fill="#da8bc3" stroke="#000" stroke-width="1.25"/>
<circle cx="491.6" cy="328.4" r="4.1" fill="#da8bc3" stroke="#000" stroke-width="1.25"/>
<path d="M184.7,266.6 V264.0 H497.9 V266.6 M344.4,264.0 v-2.6" stroke="#111" stroke-width="1.3" fill="none"/>
<text x="345.7" y="268.8" font-size="32" letter-spacing="1.7" text-anchor="middle">**</text>
<path d="M243.4,243.7 V241.1 H497.9 V243.7 M373.2,241.1 v-2.6" stroke="#111" stroke-width="1.3" fill="none"/>
<text x="374.4" y="245.9" font-size="32" letter-spacing="1.7" text-anchor="middle">***</text>
<path d="M295.0,221.1 V218.5 H497.9 V221.1 M398.5,218.5 v-2.6" stroke="#111" stroke-width="1.3" fill="none"/>
<text x="399.7" y="223.3" font-size="32" letter-spacing="1.7" text-anchor="middle">***</text>
<path d="M346.4,198.2 V195.6 H497.9 V198.2 M423.7,195.6 v-2.6" stroke="#111" stroke-width="1.3" fill="none"/>
<text x="424.0" y="187.9" font-size="27.0" text-anchor="middle" fill="#000">ns</text>
<path d="M163.2,868.0 V873.8 C163.2,879.6 167.9,884.3 173.7,884.3 H221.8 C229.6,884.3 233.3,890.3 233.3,902.3 C233.3,890.3 237.1,884.3 244.8,884.3 H293.0 C298.8,884.3 303.5,879.6 303.5,873.8 V868.0" fill="none" stroke="#000" stroke-width="3.5" stroke-linejoin="miter"/>
<path d="M369.8,868.0 V873.8 C369.8,879.6 374.5,884.3 380.3,884.3 H428.7 C436.5,884.3 440.2,890.3 440.2,902.3 C440.2,890.3 443.9,884.3 451.7,884.3 H500.1 C505.9,884.3 510.6,879.6 510.6,873.8 V868.0" fill="none" stroke="#000" stroke-width="3.5" stroke-linejoin="miter"/>
<text x="440.9" y="936.3" font-size="27.0" text-anchor="middle" fill="#000">Swarm</text>
</g>
<g>
<text transform="translate(610.0,24.3) scale(0.98,1.06)" font-size="31" font-weight="bold">b</text>
<text x="944.5" y="37.3" font-size="27.0" text-anchor="middle">MSI in QUASAR</text>
<path d="M716.2,55.5 V725.5 M701.7,725.5 H1173.3" stroke="#222" stroke-width="1.2" fill="none"/>
<path d="M702.0,576.7 H716.2" stroke="#222" stroke-width="1.2"/>
<path d="M702.0,427.9 H716.2" stroke="#222" stroke-width="1.2"/>
<path d="M702.0,279.1 H716.2" stroke="#222" stroke-width="1.2"/>
<path d="M702.0,130.3 H716.2" stroke="#222" stroke-width="1.2"/>
<text x="690.9" y="734.1" font-size="27.0" text-anchor="end" fill="#000">0.5</text>
<text x="690.9" y="585.3" font-size="27.0" text-anchor="end" fill="#000">0.6</text>
<text x="690.9" y="436.5" font-size="27.0" text-anchor="end" fill="#000">0.7</text>
<text x="690.9" y="287.7" font-size="27.0" text-anchor="end" fill="#000">0.8</text>
<text x="690.9" y="138.9" font-size="27.0" text-anchor="end" fill="#000">0.9</text>
<text transform="translate(632.3,390.5) rotate(-90)" font-size="27.0" text-anchor="middle">AUROC</text>
<path d="M786.5,725.5 V739.5" stroke="#222" stroke-width="1.1"/>
<text transform="translate(795.5,759.5) rotate(-90)" font-size="27.0" text-anchor="end">Epi700</text>
<path d="M839.1,725.5 V739.5" stroke="#222" stroke-width="1.1"/>
<text transform="translate(848.1,759.5) rotate(-90)" font-size="27.0" text-anchor="end">DACHS</text>
<path d="M891.8,725.5 V739.5" stroke="#222" stroke-width="1.1"/>
<text transform="translate(900.8,759.5) rotate(-90)" font-size="27.0" text-anchor="end">TCGA</text>
<path d="M944.5,725.5 V739.5" stroke="#222" stroke-width="1.1"/>
<text transform="translate(953.5,759.5) rotate(-90)" font-size="27.0" text-anchor="end">Merged</text>
<path d="M997.1,725.5 V739.5" stroke="#222" stroke-width="1.1"/>
<text transform="translate(1006.1,759.5) rotate(-90)" font-size="27.0" text-anchor="end">b-chkpt1</text>
<path d="M1049.8,725.5 V739.5" stroke="#222" stroke-width="1.1"/>
<text transform="translate(1058.8,759.5) rotate(-90)" font-size="27.0" text-anchor="end">b-chkpt2</text>
<path d="M1102.4,725.5 V739.5" stroke="#222" stroke-width="1.1"/>
<text transform="translate(1111.4,759.5) rotate(-90)" font-size="27.0" text-anchor="end">w-chkpt</text>
<path d="M787.8,287.8 V291.6 M787.8,298.6 V304.7 M774.3,287.8 h27 M774.3,304.7 h27" stroke="#000" stroke-width="2" fill="none"/>
<rect x="761.9" y="291.6" width="51.8" height="7.1" fill="#5875a4" stroke="#000" stroke-width="2"/>
<path d="M761.9,292.2 h51.8" stroke="#000" stroke-width="2"/>
<circle cx="787.8" cy="288.2" r="4.1" fill="#4c72b0" stroke="#000" stroke-width="1.25"/>
<circle cx="787.8" cy="292.9" r="4.1" fill="#4c72b0" stroke="#000" stroke-width="1.25"/>
<circle cx="779.8" cy="298.0" r="4.1" fill="#4c72b0" stroke="#000" stroke-width="1.25"/>
<circle cx="787.8" cy="298.0" r="4.1" fill="#4c72b0" stroke="#000" stroke-width="1.25"/>
<circle cx="787.8" cy="305.1" r="4.1" fill="#4c72b0" stroke="#000" stroke-width="1.25"/>
<path d="M840.0,289.2 V294.9 M840.0,322.6 V322.6 M826.5,289.2 h27 M826.5,322.6 h27" stroke="#000" stroke-width="2" fill="none"/>
<rect x="814.1" y="294.9" width="51.8" height="27.7" fill="#cc8963" stroke="#000" stroke-width="2"/>
<path d="M814.1,303.7 h51.8" stroke="#000" stroke-width="2"/>
<circle cx="840.0" cy="289.5" r="4.1" fill="#dd8452" stroke="#000" stroke-width="1.25"/>
<circle cx="840.0" cy="295.9" r="4.1" fill="#dd8452" stroke="#000" stroke-width="1.25"/>
<circle cx="840.0" cy="304.1" r="4.1" fill="#dd8452" stroke="#000" stroke-width="1.25"/>
<circle cx="840.0" cy="322.3" r="4.1" fill="#dd8452" stroke="#000" stroke-width="1.25"/>
<circle cx="840.0" cy="593.7" r="4.1" fill="#dd8452" stroke="#000" stroke-width="1.25"/>
<path d="M892.3,323.6 V329.4 M892.3,336.1 V338.9 M878.8,323.6 h27 M878.8,338.9 h27" stroke="#000" stroke-width="2" fill="none"/>
<rect x="866.4" y="329.4" width="51.8" height="6.8" fill="#5f9e6e" stroke="#000" stroke-width="2"/>
<path d="M866.4,330.1 h51.8" stroke="#000" stroke-width="2"/>
<circle cx="892.3" cy="324.0" r="4.1" fill="#55a868" stroke="#000" stroke-width="1.25"/>
<circle cx="892.3" cy="330.1" r="4.1" fill="#55a868" stroke="#000" stroke-width="1.25"/>
<circle cx="888.3" cy="335.5" r="4.1" fill="#55a868" stroke="#000" stroke-width="1.25"/>
<circle cx="896.3" cy="335.5" r="4.1" fill="#55a868" stroke="#000" stroke-width="1.25"/>
<circle cx="892.3" cy="338.9" r="4.1" fill="#55a868" stroke="#000" stroke-width="1.25"/>
<path d="M944.5,205.4 V218.9 M944.5,240.9 V240.9 M931.0,205.4 h27 M931.0,240.9 h27" stroke="#000" stroke-width="2" fill="none"/>
<rect x="918.6" y="218.9" width="51.8" height="22.0" fill="#b55d60" stroke="#000" stroke-width="2"/>
<path d="M918.6,220.3 h51.8" stroke="#000" stroke-width="2"/>
<circle cx="944.5" cy="205.7" r="4.1" fill="#c44e52" stroke="#000" stroke-width="1.25"/>
<circle cx="936.5" cy="219.9" r="4.1" fill="#c44e52" stroke="#000" stroke-width="1.25"/>
<circle cx="944.5" cy="220.9" r="4.1" fill="#c44e52" stroke="#000" stroke-width="1.25"/>
<circle cx="944.5" cy="240.2" r="4.1" fill="#c44e52" stroke="#000" stroke-width="1.25"/>
<circle cx="944.5" cy="278.7" r="4.1" fill="#c44e52" stroke="#000" stroke-width="1.25"/>
<path d="M996.8,270.3 V270.3 M996.8,288.9 V292.6 M983.3,270.3 h27 M983.3,292.6 h27" stroke="#000" stroke-width="2" fill="none"/>
<rect x="970.9" y="270.3" width="51.8" height="18.6" fill="#857aab" stroke="#000" stroke-width="2"/>
<path d="M970.9,270.6 h51.8" stroke="#000" stroke-width="2"/>
<circle cx="988.8" cy="270.9" r="4.1" fill="#8172b3" stroke="#000" stroke-width="1.25"/>
<circle cx="996.8" cy="270.9" r="4.1" fill="#8172b3" stroke="#000" stroke-width="1.25"/>
<circle cx="1004.8" cy="270.9" r="4.1" fill="#8172b3" stroke="#000" stroke-width="1.25"/>
<circle cx="995.8" cy="288.9" r="4.1" fill="#8172b3" stroke="#000" stroke-width="1.25"/>
<circle cx="996.8" cy="292.6" r="4.1" fill="#8172b3" stroke="#000" stroke-width="1.25"/>
<path d="M1049.0,245.6 V245.9 M1049.0,263.9 V269.3 M1035.5,245.6 h27 M1035.5,269.3 h27" stroke="#000" stroke-width="2" fill="none"/>
<rect x="1023.1" y="245.9" width="51.8" height="17.9" fill="#8d7866" stroke="#000" stroke-width="2"/>
<path d="M1023.1,256.4 h51.8" stroke="#000" stroke-width="2"/>
<circle cx="1041.5" cy="245.9" r="4.1" fill="#937860" stroke="#000" stroke-width="1.25"/>
<circle cx="1049.0" cy="246.6" r="4.1" fill="#937860" stroke="#000" stroke-width="1.25"/>
<circle cx="1049.0" cy="256.8" r="4.1" fill="#937860" stroke="#000" stroke-width="1.25"/>
<circle cx="1049.0" cy="263.5" r="4.1" fill="#937860" stroke="#000" stroke-width="1.25"/>
<circle cx="1049.0" cy="269.3" r="4.1" fill="#937860" stroke="#000" stroke-width="1.25"/>
<path d="M1101.3,229.1 V229.1 M1101.3,237.2 V245.6 M1087.8,229.1 h27 M1087.8,245.6 h27" stroke="#000" stroke-width="2" fill="none"/>
<rect x="1075.4" y="229.1" width="51.8" height="8.1" fill="#d095bf" stroke="#000" stroke-width="2"/>
<path d="M1075.4,229.7 h51.8" stroke="#000" stroke-width="2"/>
<circle cx="1101.3" cy="209.8" r="4.1" fill="#da8bc3" stroke="#000" stroke-width="1.25"/>
<circle cx="1093.3" cy="230.1" r="4.1" fill="#da8bc3" stroke="#000" stroke-width="1.25"/>
<circle cx="1101.3" cy="231.1" r="4.1" fill="#da8bc3" stroke="#000" stroke-width="1.25"/>
<circle cx="1101.3" cy="237.2" r="4.1" fill="#da8bc3" stroke="#000" stroke-width="1.25"/>
<circle cx="1101.3" cy="245.6" r="4.1" fill="#da8bc3" stroke="#000" stroke-width="1.25"/>
<path d="M788.8,180.0 V177.4 H1102.1 V180.0 M948.6,177.4 v-2.6" stroke="#111" stroke-width="1.3" fill="none"/>
<text x="949.8" y="182.2" font-size="32" letter-spacing="1.7" text-anchor="middle">***</text>
<path d="M847.5,157.6 V155.0 H1102.1 V157.6 M977.3,155.0 v-2.6" stroke="#111" stroke-width="1.3" fill="none"/>
<text x="977.6" y="149.9" font-size="27.0" text-anchor="middle" fill="#000">ns</text>
<path d="M899.1,135.5 V132.9 H1102.1 V135.5 M1002.6,132.9 v-2.6" stroke="#111" stroke-width="1.3" fill="none"/>
<text x="1003.9" y="137.7" font-size="32" letter-spacing="1.7" text-anchor="middle">***</text>
<path d="M950.5,113.1 V110.5 H1102.1 V113.1 M1027.8,110.5 v-2.6" stroke="#111" stroke-width="1.3" fill="none"/>
<text x="1028.1" y="105.4" font-size="27.0" text-anchor="middle" fill="#000">ns</text>
<path d="M771.0,876.5 V882.3 C771.0,888.1 775.7,892.8 781.5,892.8 H829.6 C837.4,892.8 841.1,898.8 841.1,910.8 C841.1,898.8 844.9,892.8 852.6,892.8 H900.8 C906.6,892.8 911.3,888.1 911.3,882.3 V876.5" fill="none" stroke="#000" stroke-width="3.5" stroke-linejoin="miter"/>
<path d="M977.6,876.5 V882.3 C977.6,888.1 982.3,892.8 988.1,892.8 H1036.5 C1044.3,892.8 1048.0,898.8 1048.0,910.8 C1048.0,898.8 1051.7,892.8 1059.5,892.8 H1107.9 C1113.7,892.8 1118.4,888.1 1118.4,882.3 V876.5" fill="none" stroke="#000" stroke-width="3.5" stroke-linejoin="miter"/>
<text x="841.1" y="936.3" font-size="27.0" text-anchor="middle" fill="#000">Local</text>
<text x="1048.8" y="936.3" font-size="27.0" text-anchor="middle" fill="#000">Swarm</text>
</g>
<g>
<text transform="translate(1215.0,24.3) scale(0.86,1.06)" font-size="31" font-weight="bold">c</text>
<text x="1547.0" y="37.3" font-size="27.0" text-anchor="middle">MSI in YCR BCIP</text>
<path d="M1321.5,55.5 V725.5 M1307.0,725.5 H1779.0" stroke="#222" stroke-width="1.2" fill="none"/>
<path d="M1307.3,576.7 H1321.5" stroke="#222" stroke-width="1.2"/>
<path d="M1307.3,427.9 H1321.5" stroke="#222" stroke-width="1.2"/>
<path d="M1307.3,279.1 H1321.5" stroke="#222" stroke-width="1.2"/>
<path d="M1307.3,130.3 H1321.5" stroke="#222" stroke-width="1.2"/>
<text x="1296.4" y="734.1" font-size="27.0" text-anchor="end" fill="#000">0.5</text>
<text x="1296.4" y="585.3" font-size="27.0" text-anchor="end" fill="#000">0.6</text>
<text x="1296.4" y="436.5" font-size="27.0" text-anchor="end" fill="#000">0.7</text>
<text x="1296.4" y="287.7" font-size="27.0" text-anchor="end" fill="#000">0.8</text>
<text x="1296.4" y="138.9" font-size="27.0" text-anchor="end" fill="#000">0.9</text>
<text transform="translate(1237.3,390.5) rotate(-90)" font-size="27.0" text-anchor="middle">AUROC</text>
<path d="M1391.8,725.5 V739.5" stroke="#222" stroke-width="1.1"/>
<text transform="translate(1400.8,759.5) rotate(-90)" font-size="27.0" text-anchor="end">Epi700</text>
<path d="M1444.5,725.5 V739.5" stroke="#222" stroke-width="1.1"/>
<text transform="translate(1453.5,759.5) rotate(-90)" font-size="27.0" text-anchor="end">DACHS</text>
<path d="M1497.1,725.5 V739.5" stroke="#222" stroke-width="1.1"/>
<text transform="translate(1506.1,759.5) rotate(-90)" font-size="27.0" text-anchor="end">TCGA</text>
<path d="M1549.8,725.5 V739.5" stroke="#222" stroke-width="1.1"/>
<text transform="translate(1558.8,759.5) rotate(-90)" font-size="27.0" text-anchor="end">Merged</text>
<path d="M1602.4,725.5 V739.5" stroke="#222" stroke-width="1.1"/>
<text transform="translate(1611.4,759.5) rotate(-90)" font-size="27.0" text-anchor="end">b-chkpt1</text>
<path d="M1655.0,725.5 V739.5" stroke="#222" stroke-width="1.1"/>
<text transform="translate(1664.0,759.5) rotate(-90)" font-size="27.0" text-anchor="end">b-chkpt2</text>
<path d="M1707.7,725.5 V739.5" stroke="#222" stroke-width="1.1"/>
<text transform="translate(1716.7,759.5) rotate(-90)" font-size="27.0" text-anchor="end">w-chkpt</text>
<path d="M1393.2,228.0 V229.7 M1393.2,270.9 V292.6 M1379.7,228.0 h27 M1379.7,292.6 h27" stroke="#000" stroke-width="2" fill="none"/>
<rect x="1367.3" y="229.7" width="51.8" height="41.2" fill="#5875a4" stroke="#000" stroke-width="2"/>
<path d="M1367.3,269.3 h51.8" stroke="#000" stroke-width="2"/>
<circle cx="1386.7" cy="228.0" r="4.1" fill="#4c72b0" stroke="#000" stroke-width="1.25"/>
<circle cx="1393.2" cy="230.7" r="4.1" fill="#4c72b0" stroke="#000" stroke-width="1.25"/>
<circle cx="1386.7" cy="268.9" r="4.1" fill="#4c72b0" stroke="#000" stroke-width="1.25"/>
<circle cx="1393.2" cy="270.6" r="4.1" fill="#4c72b0" stroke="#000" stroke-width="1.25"/>
<circle cx="1393.2" cy="292.6" r="4.1" fill="#4c72b0" stroke="#000" stroke-width="1.25"/>
<path d="M1445.5,163.2 V164.2 M1445.5,190.5 V190.5 M1432.0,163.2 h27 M1432.0,190.5 h27" stroke="#000" stroke-width="2" fill="none"/>
<rect x="1419.5" y="164.2" width="51.8" height="26.4" fill="#cc8963" stroke="#000" stroke-width="2"/>
<path d="M1419.5,179.1 h51.8" stroke="#000" stroke-width="2"/>
<circle cx="1438.0" cy="163.2" r="4.1" fill="#dd8452" stroke="#000" stroke-width="1.25"/>
<circle cx="1445.5" cy="164.9" r="4.1" fill="#dd8452" stroke="#000" stroke-width="1.25"/>
<circle cx="1445.5" cy="179.1" r="4.1" fill="#dd8452" stroke="#000" stroke-width="1.25"/>
<circle cx="1445.5" cy="190.2" r="4.1" fill="#dd8452" stroke="#000" stroke-width="1.25"/>
<circle cx="1445.5" cy="509.1" r="4.1" fill="#dd8452" stroke="#000" stroke-width="1.25"/>
<path d="M1497.7,221.3 V229.4 M1497.7,260.8 V279.4 M1484.2,221.3 h27 M1484.2,279.4 h27" stroke="#000" stroke-width="2" fill="none"/>
<rect x="1471.8" y="229.4" width="51.8" height="31.4" fill="#5f9e6e" stroke="#000" stroke-width="2"/>
<path d="M1471.8,250.3 h51.8" stroke="#000" stroke-width="2"/>
<circle cx="1497.7" cy="221.6" r="4.1" fill="#55a868" stroke="#000" stroke-width="1.25"/>
<circle cx="1497.7" cy="229.7" r="4.1" fill="#55a868" stroke="#000" stroke-width="1.25"/>
<circle cx="1497.7" cy="250.3" r="4.1" fill="#55a868" stroke="#000" stroke-width="1.25"/>
<circle cx="1497.7" cy="260.5" r="4.1" fill="#55a868" stroke="#000" stroke-width="1.25"/>
<circle cx="1497.7" cy="279.4" r="4.1" fill="#55a868" stroke="#000" stroke-width="1.25"/>
<path d="M1550.0,106.4 V128.7 M1550.0,160.1 V164.9 M1536.5,106.4 h27 M1536.5,164.9 h27" stroke="#000" stroke-width="2" fill="none"/>
<rect x="1524.0" y="128.7" width="51.8" height="31.4" fill="#b55d60" stroke="#000" stroke-width="2"/>
<path d="M1524.0,131.4 h51.8" stroke="#000" stroke-width="2"/>
<circle cx="1550.0" cy="106.8" r="4.1" fill="#c44e52" stroke="#000" stroke-width="1.25"/>
<circle cx="1544.0" cy="128.7" r="4.1" fill="#c44e52" stroke="#000" stroke-width="1.25"/>
<circle cx="1550.0" cy="132.1" r="4.1" fill="#c44e52" stroke="#000" stroke-width="1.25"/>
<circle cx="1550.0" cy="159.8" r="4.1" fill="#c44e52" stroke="#000" stroke-width="1.25"/>
<circle cx="1550.0" cy="164.9" r="4.1" fill="#c44e52" stroke="#000" stroke-width="1.25"/>
<path d="M1602.2,207.4 V211.8 M1602.2,243.6 V245.9 M1588.7,207.4 h27 M1588.7,245.9 h27" stroke="#000" stroke-width="2" fill="none"/>
<rect x="1576.3" y="211.8" width="51.8" height="31.8" fill="#857aab" stroke="#000" stroke-width="2"/>
<path d="M1576.3,222.3 h51.8" stroke="#000" stroke-width="2"/>
<circle cx="1598.7" cy="207.8" r="4.1" fill="#8172b3" stroke="#000" stroke-width="1.25"/>
<circle cx="1602.2" cy="212.2" r="4.1" fill="#8172b3" stroke="#000" stroke-width="1.25"/>
<circle cx="1602.2" cy="222.3" r="4.1" fill="#8172b3" stroke="#000" stroke-width="1.25"/>
<circle cx="1595.2" cy="243.9" r="4.1" fill="#8172b3" stroke="#000" stroke-width="1.25"/>
<circle cx="1602.2" cy="246.3" r="4.1" fill="#8172b3" stroke="#000" stroke-width="1.25"/>
<path d="M1654.5,173.6 V191.2 M1654.5,212.5 V221.3 M1641.0,173.6 h27 M1641.0,221.3 h27" stroke="#000" stroke-width="2" fill="none"/>
<rect x="1628.5" y="191.2" width="51.8" height="21.3" fill="#8d7866" stroke="#000" stroke-width="2"/>
<path d="M1628.5,210.1 h51.8" stroke="#000" stroke-width="2"/>
<circle cx="1654.5" cy="174.0" r="4.1" fill="#937860" stroke="#000" stroke-width="1.25"/>
<circle cx="1654.5" cy="191.6" r="4.1" fill="#937860" stroke="#000" stroke-width="1.25"/>
<circle cx="1648.0" cy="209.8" r="4.1" fill="#937860" stroke="#000" stroke-width="1.25"/>
<circle cx="1654.5" cy="212.2" r="4.1" fill="#937860" stroke="#000" stroke-width="1.25"/>
<circle cx="1654.5" cy="221.3" r="4.1" fill="#937860" stroke="#000" stroke-width="1.25"/>
<rect x="1680.8" y="146.5" width="51.8" height="3.8" fill="#d095bf" stroke="#000" stroke-width="2"/>
<path d="M1680.8,148.4 h51.8" stroke="#000" stroke-width="2"/>
<circle cx="1706.7" cy="129.1" r="4.1" fill="#da8bc3" stroke="#000" stroke-width="1.25"/>
<circle cx="1700.2" cy="148.0" r="4.1" fill="#da8bc3" stroke="#000" stroke-width="1.25"/>
<circle cx="1706.7" cy="146.3" r="4.1" fill="#da8bc3" stroke="#000" stroke-width="1.25"/>
<circle cx="1706.7" cy="151.0" r="4.1" fill="#da8bc3" stroke="#000" stroke-width="1.25"/>
<circle cx="1706.7" cy="164.5" r="4.1" fill="#da8bc3" stroke="#000" stroke-width="1.25"/>
<path d="M1393.8,311.1 V313.7 H1707.2 V311.1 M1553.6,313.7 v2.6" stroke="#111" stroke-width="1.3" fill="none"/>
<text x="1554.9" y="342.8" font-size="32" letter-spacing="1.7" text-anchor="middle">***</text>
<path d="M1452.2,335.0 V337.6 H1707.2 V335.0 M1582.2,337.6 v2.6" stroke="#111" stroke-width="1.3" fill="none"/>
<text x="1582.5" y="358.8" font-size="27.0" text-anchor="middle" fill="#000">ns</text>
<path d="M1503.8,358.8 V361.4 H1707.2 V358.8 M1607.5,361.4 v2.6" stroke="#111" stroke-width="1.3" fill="none"/>
<text x="1608.8" y="390.5" font-size="32" letter-spacing="1.7" text-anchor="middle">***</text>
<path d="M1555.4,382.3 V384.9 H1707.2 V382.3 M1632.8,384.9 v2.6" stroke="#111" stroke-width="1.3" fill="none"/>
<text x="1633.1" y="406.1" font-size="27.0" text-anchor="middle" fill="#000">ns</text>
<path d="M1376.3,876.5 V882.3 C1376.3,888.1 1381.0,892.8 1386.8,892.8 H1434.9 C1442.7,892.8 1446.4,898.8 1446.4,910.8 C1446.4,898.8 1450.2,892.8 1457.9,892.8 H1506.1 C1511.9,892.8 1516.6,888.1 1516.6,882.3 V876.5" fill="none" stroke="#000" stroke-width="3.5" stroke-linejoin="miter"/>
<path d="M1582.9,876.5 V882.3 C1582.9,888.1 1587.6,892.8 1593.4,892.8 H1641.8 C1649.6,892.8 1653.3,898.8 1653.3,910.8 C1653.3,898.8 1657.0,892.8 1664.8,892.8 H1713.2 C1719.0,892.8 1723.7,888.1 1723.7,882.3 V876.5" fill="none" stroke="#000" stroke-width="3.5" stroke-linejoin="miter"/>
<text x="1446.4" y="936.3" font-size="27.0" text-anchor="middle" fill="#000">Local</text>
<text x="1654.0" y="936.3" font-size="27.0" text-anchor="middle" fill="#000">Swarm</text>
</g>
<text x="233.0" y="936.3" font-size="27.0" text-anchor="middle" fill="#000">Locally</text>
<text x="233.0" y="968.8" font-size="27.0" text-anchor="middle" fill="#000">trained</text>
<text x="233.0" y="1001.3" font-size="27.0" text-anchor="middle" fill="#000">models</text>
<text x="501.0" y="994.6" font-size="27.0" text-anchor="middle" fill="#000">Centrally trained</text>
<text x="501.0" y="1026.8" font-size="27.0" text-anchor="middle" fill="#000">on all data</text>
<path d="M335.2,900 C332,945 345,980 378,997" fill="none" stroke="#000" stroke-width="1.9" stroke-dasharray="9,6.5"/>
<path d="M387.5,1000.5 L371,1003.5 L376.5,997 L375.5,988.5 Z" fill="#000"/>
<text transform="translate(24.3,1100.8) scale(0.95,1.06)" font-size="31" font-weight="bold">d</text>
<text x="398.0" y="1128.5" font-size="27.0" text-anchor="middle" fill="#000">Original images in QUASAR</text>
<text x="767.7" y="1110.5" font-size="27.0" text-anchor="middle" fill="#000">Ground truth</text>
<text x="773.5" y="1142" font-size="27.0" text-anchor="middle"><tspan font-style="italic">BRAF</tspan> status</text>
<text x="927.4" y="1110.5" font-size="27.0" text-anchor="middle" fill="#f2000f">Mutated</text>
<text x="930.5" y="1142.0" font-size="27.0" text-anchor="middle" fill="#2a00d5">Wild type</text>
<path d="M582.3,1171.5 C584,1135 610,1110 657,1112.2" fill="none" stroke="#000" stroke-width="1.9" stroke-dasharray="9,6.5"/>
<path d="M672,1112.5 L657,1119.5 L661,1112.5 L657,1105 Z" fill="#000"/>
<text x="275.5" y="1367.5" font-size="27.0" text-anchor="middle" fill="#000">AI prediction maps</text>
<text x="182.6" y="1408.2" font-size="27.0" text-anchor="middle" fill="#f2000f">Mutated</text>
<text x="475.5" y="1408.2" font-size="27.0" text-anchor="middle" fill="#2a00d5">Wild type</text>
<rect x="247.8" y="1394.6" width="154.4" height="8.8" fill="url(#gbar)"/>
<svg x="65.5" y="1181.6" width="260.7" height="123.8" viewBox="0 0 260.7 123.8" overflow="hidden">
<rect width="260.7" height="123.8" fill="#f3f3f3"/>
<path d="M0.6,116.0 C7.2,116.3 27.1,117.5 40.4,118.2 C53.6,119.0 66.9,119.8 80.1,120.5 C93.4,121.3 113.2,122.2 119.9,122.5" fill="none" stroke="#444" stroke-width="0.8" stroke-linecap="round" opacity="0.9"/>
<path d="M5.2,110.6 C5.7,109.6 7.0,104.5 8.3,104.5 C9.5,104.5 10.0,109.3 12.8,110.6 C15.7,111.9 23.0,111.9 25.1,112.1" fill="none" stroke="#ddd" stroke-width="0.8" stroke-linecap="round"/><g filter="url(#rough)"><path d="M45.0,60.1 C49.5,57.3 65.6,58.9 80.1,60.1 C94.6,61.4 118.3,66.8 132.1,67.8 C145.9,68.8 152.5,68.3 162.7,66.3 C172.9,64.2 183.6,59.4 193.3,55.6 C202.9,51.7 217.2,42.6 220.8,43.3 C224.4,44.1 214.9,54.0 214.7,60.1 C214.4,66.3 220.3,74.4 219.3,80.0 C218.2,85.6 212.6,90.5 208.6,93.8 C204.5,97.1 197.6,96.3 194.8,99.9 C192.0,103.5 195.8,112.1 191.7,115.2 C187.7,118.2 177.7,117.2 170.3,118.2 C162.9,119.3 155.8,120.8 147.4,121.3 C139.0,121.8 126.2,123.1 119.9,121.3 C113.5,119.5 110.7,115.2 109.2,110.6 C107.6,106.0 113.5,98.4 110.7,93.8 C107.9,89.2 99.0,83.8 92.4,83.1 C85.7,82.3 76.8,86.4 70.9,89.2 C65.1,92.0 60.8,99.1 57.2,99.9 C53.6,100.7 50.3,97.6 49.5,93.8 C48.8,90.0 53.4,82.6 52.6,77.0 C51.8,71.4 40.4,62.9 45.0,60.1Z" fill="#f6eff1" opacity="0.95" filter="url(#b2)"/>
<ellipse cx="147.4" cy="80.0" rx="9.2" ry="1.8" fill="#e0808a" opacity="0.25" filter="url(#b2)"/>
<ellipse cx="185.6" cy="75.4" rx="12.2" ry="2.1" fill="#e0808a" opacity="0.22" filter="url(#b2)"/>
<ellipse cx="205.5" cy="55.6" rx="7.6" ry="4.6" fill="#e0808a" opacity="0.2" filter="url(#b2)"/>
<ellipse cx="132.1" cy="89.2" rx="12.2" ry="3.1" fill="#e0808a" opacity="0.15" filter="url(#b2)"/>
<ellipse cx="178.0" cy="92.3" rx="13.8" ry="3.1" fill="#e0808a" opacity="0.15" filter="url(#b2)"/>
<ellipse cx="101.5" cy="81.6" rx="6.1" ry="1.5" fill="#e0808a" opacity="0.2" filter="url(#b2)"/>
<path d="M32.0,14.3 C32.5,10.1 33.6,9.4 35.8,7.4 C37.9,5.4 38.6,3.3 45.0,2.4 C51.3,1.4 67.4,0.4 74.0,1.7 C80.6,3.1 80.4,7.2 84.7,10.5 C89.0,13.7 94.6,19.6 100.0,21.2 C105.3,22.7 112.7,20.8 116.8,19.6 C120.9,18.4 120.4,15.3 124.5,14.0 C128.5,12.6 135.9,12.6 141.3,11.5 C146.6,10.4 152.0,7.7 156.6,7.4 C161.2,7.1 165.2,9.2 168.8,9.7 C172.4,10.2 176.1,11.7 178.0,10.5 C179.8,9.2 177.3,3.4 179.8,2.0 C182.4,0.6 189.7,0.8 193.3,2.0 C196.8,3.3 198.7,6.1 200.9,9.7 C203.1,13.3 204.6,19.9 206.3,23.5 C207.9,27.0 209.4,29.2 210.8,31.1 C212.2,33.0 215.1,33.3 214.7,34.9 C214.3,36.6 212.4,39.0 208.6,41.0 C204.7,43.1 197.9,44.7 191.7,47.1 C185.6,49.6 177.7,52.4 171.9,55.6 C166.0,58.7 163.2,64.1 156.6,66.3 C149.9,68.4 139.2,68.8 132.1,68.6 C125.0,68.3 120.4,65.5 113.8,64.7 C107.1,64.0 98.2,65.0 92.4,64.0 C86.5,62.9 82.7,59.5 78.6,58.6 C74.5,57.7 70.9,58.1 67.9,58.6 C64.8,59.1 64.6,61.3 60.2,61.7 C55.9,62.1 45.6,63.7 41.9,60.9 C38.2,58.1 39.6,49.6 38.1,44.9 C36.5,40.1 33.7,37.7 32.7,32.6 C31.7,27.5 31.4,18.5 32.0,14.3Z" fill="#ddc8dc"/>
<path d="M32.7,14.3 C34.3,8.2 38.1,5.6 45.0,3.6 C51.8,1.6 67.1,0.8 74.0,2.4 C80.9,3.9 81.9,9.5 86.2,12.7 C90.6,16.0 98.0,17.3 100.0,21.9 C102.0,26.5 100.8,36.4 98.5,40.3 C96.2,44.1 89.8,44.9 86.2,44.9 C82.7,44.9 79.6,43.6 77.1,40.3 C74.5,37.0 74.0,28.8 70.9,25.0 C67.9,21.2 61.8,17.3 58.7,17.3 C55.7,17.3 54.9,21.2 52.6,25.0 C50.3,28.8 47.8,37.7 45.0,40.3 C42.2,42.8 37.8,44.6 35.8,40.3 C33.7,35.9 31.2,20.4 32.7,14.3Z" fill="#b9a3ca" opacity="0.9" filter="url(#b2)"/>
<path d="M77.1,25.0 C80.9,21.4 93.4,22.7 100.0,21.9 C106.6,21.2 112.5,21.5 116.8,20.4 C121.1,19.2 121.9,16.3 126.0,15.0 C130.1,13.8 137.5,11.1 141.3,12.7 C145.1,14.4 149.4,20.4 148.9,25.0 C148.4,29.6 142.0,36.4 138.2,40.3 C134.4,44.1 130.6,45.6 126.0,47.9 C121.4,50.2 116.8,53.0 110.7,54.0 C104.6,55.0 94.9,55.8 89.3,54.0 C83.7,52.2 79.1,48.2 77.1,43.3 C75.0,38.5 73.2,28.5 77.1,25.0Z" fill="#a98fbf" opacity="0.95" filter="url(#b2)"/>
<path d="M144.3,12.7 C145.9,9.1 151.0,8.2 156.6,7.9 C162.2,7.5 174.0,11.8 178.0,10.9 C181.9,10.1 177.7,4.2 180.3,2.8 C182.8,1.5 189.8,1.4 193.3,2.8 C196.7,4.2 198.6,7.5 200.9,11.2 C203.2,14.9 205.7,21.4 207.0,25.0 C208.3,28.5 210.3,30.1 208.6,32.6 C206.8,35.2 201.9,38.2 196.3,40.3 C190.7,42.3 181.5,45.1 174.9,44.9 C168.3,44.6 161.2,41.3 156.6,38.7 C152.0,36.2 149.4,33.9 147.4,29.6 C145.4,25.2 142.8,16.4 144.3,12.7Z" fill="#b097c4" opacity="0.95" filter="url(#b2)"/>
<path d="M40.4,6.6 C42.9,4.8 54.4,4.6 58.7,5.1 C63.0,5.6 67.4,7.7 66.4,9.7 C65.3,11.7 56.4,16.3 52.6,17.3 C48.8,18.4 45.5,17.6 43.4,15.8 C41.4,14.0 37.8,8.4 40.4,6.6Z" fill="#a58ab9" opacity="0.8" filter="url(#b2)"/>
<ellipse cx="60.2" cy="47.9" rx="2.1" ry="1.4" fill="#7a74b0" opacity="0.75" filter="url(#b1)"/>
<ellipse cx="64.8" cy="51.7" rx="2.1" ry="1.4" fill="#7a74b0" opacity="0.75" filter="url(#b1)"/>
<ellipse cx="70.9" cy="40.3" rx="2.1" ry="1.4" fill="#7a74b0" opacity="0.75" filter="url(#b1)"/>
<ellipse cx="81.7" cy="55.6" rx="2.1" ry="1.4" fill="#7a74b0" opacity="0.75" filter="url(#b1)"/>
<ellipse cx="92.4" cy="60.9" rx="2.1" ry="1.4" fill="#7a74b0" opacity="0.75" filter="url(#b1)"/>
<ellipse cx="101.5" cy="63.2" rx="2.1" ry="1.4" fill="#7a74b0" opacity="0.75" filter="url(#b1)"/>
<ellipse cx="110.7" cy="61.7" rx="2.1" ry="1.4" fill="#7a74b0" opacity="0.75" filter="url(#b1)"/>
<ellipse cx="116.8" cy="59.4" rx="2.1" ry="1.4" fill="#7a74b0" opacity="0.75" filter="url(#b1)"/>
<ellipse cx="119.9" cy="57.1" rx="2.1" ry="1.4" fill="#7a74b0" opacity="0.75" filter="url(#b1)"/>
<ellipse cx="126.0" cy="60.1" rx="2.1" ry="1.4" fill="#7a74b0" opacity="0.75" filter="url(#b1)"/>
<ellipse cx="139.8" cy="57.9" rx="2.1" ry="1.4" fill="#7a74b0" opacity="0.75" filter="url(#b1)"/>
<ellipse cx="145.9" cy="57.1" rx="2.1" ry="1.4" fill="#7a74b0" opacity="0.75" filter="url(#b1)"/>
<ellipse cx="138.2" cy="40.3" rx="2.1" ry="1.4" fill="#7a74b0" opacity="0.75" filter="url(#b1)"/>
<ellipse cx="152.0" cy="65.5" rx="2.1" ry="1.4" fill="#7a74b0" opacity="0.75" filter="url(#b1)"/>
<ellipse cx="54.1" cy="69.3" rx="2.1" ry="1.4" fill="#7a74b0" opacity="0.75" filter="url(#b1)"/>
<path d="M48.0,61.7 C49.5,57.6 57.2,58.6 58.7,61.7 C60.2,64.7 57.2,74.7 57.2,80.0 C57.2,85.4 59.5,90.5 58.7,93.8 C58.0,97.1 54.1,101.2 52.6,99.9 C51.1,98.6 50.3,92.5 49.5,86.1 C48.8,79.8 46.5,65.8 48.0,61.7Z" fill="#ead6e2" opacity="0.9" filter="url(#b2)"/>
<path d="M67.9,67.8 C68.1,69.8 69.0,76.7 69.4,80.0 C69.8,83.3 70.1,86.4 70.2,87.7" fill="none" stroke="#e08a98" stroke-width="1.2" stroke-linecap="round" opacity="0.7" filter="url(#b1)"/>
<ellipse cx="112.2" cy="112.9" rx="3.4" ry="2.8" fill="#e2666a" opacity="0.9" filter="url(#b1)"/>
<path d="M121.4,115.2 C122.7,114.3 127.0,114.0 132.1,112.9 C137.2,111.7 148.4,108.7 152.0,108.3 C155.5,107.9 156.1,109.2 153.5,110.6 C151.0,112.0 141.5,115.4 136.7,116.7 C131.9,118.0 127.0,118.5 124.5,118.2 C121.9,118.0 120.1,116.1 121.4,115.2Z" fill="#e2666a" opacity="0.85" filter="url(#b1)"/>
<path d="M138.2,121.3 C139.2,120.0 145.0,116.8 147.4,115.2 C149.8,113.5 152.0,111.4 152.7,111.4 C153.5,111.4 153.9,113.3 152.0,115.2 C150.1,117.1 143.6,121.8 141.3,122.8 C139.0,123.9 137.2,122.6 138.2,121.3Z" fill="#de5a60" opacity="0.85" filter="url(#b1)"/>
<ellipse cx="167.3" cy="108.8" rx="5.4" ry="1.5" fill="#e2666a" opacity="0.85" filter="url(#b1)" transform="rotate(15 167.3 108.8)"/>
<ellipse cx="160.4" cy="86.1" rx="2.1" ry="6.1" fill="#e27a7a" opacity="0.8" filter="url(#b1)" transform="rotate(20 160.4 86.1)"/>
<ellipse cx="123.7" cy="101.4" rx="2.8" ry="1.5" fill="#e27a7a" opacity="0.7" filter="url(#b1)"/>
<ellipse cx="193.3" cy="108.3" rx="1.2" ry="1.2" fill="#e27a7a" opacity="0.8" filter="url(#b1)"/>
<ellipse cx="112.2" cy="22.7" rx="6.1" ry="1.2" fill="#e07a90" opacity="0.6" filter="url(#b1)"/></g>
</svg>
<rect x="65.5" y="1181.6" width="260.7" height="123.8" fill="none" stroke="#000" stroke-width="1.5"/>
<circle cx="308.1" cy="1199.8" r="12.9" fill="#f2000f"/>
<svg x="65.5" y="1426.6" width="260.7" height="123.8" viewBox="0 0 260.7 123.8" overflow="hidden">
<rect width="260.7" height="123.8" fill="#f8f8f8"/>
<g filter="url(#gray)" opacity="0.62"><path d="M0.6,116.0 C7.2,116.3 27.1,117.5 40.4,118.2 C53.6,119.0 66.9,119.8 80.1,120.5 C93.4,121.3 113.2,122.2 119.9,122.5" fill="none" stroke="#444" stroke-width="0.8" stroke-linecap="round" opacity="0.9"/>
<path d="M5.2,110.6 C5.7,109.6 7.0,104.5 8.3,104.5 C9.5,104.5 10.0,109.3 12.8,110.6 C15.7,111.9 23.0,111.9 25.1,112.1" fill="none" stroke="#ddd" stroke-width="0.8" stroke-linecap="round"/><g filter="url(#rough)"><path d="M45.0,60.1 C49.5,57.3 65.6,58.9 80.1,60.1 C94.6,61.4 118.3,66.8 132.1,67.8 C145.9,68.8 152.5,68.3 162.7,66.3 C172.9,64.2 183.6,59.4 193.3,55.6 C202.9,51.7 217.2,42.6 220.8,43.3 C224.4,44.1 214.9,54.0 214.7,60.1 C214.4,66.3 220.3,74.4 219.3,80.0 C218.2,85.6 212.6,90.5 208.6,93.8 C204.5,97.1 197.6,96.3 194.8,99.9 C192.0,103.5 195.8,112.1 191.7,115.2 C187.7,118.2 177.7,117.2 170.3,118.2 C162.9,119.3 155.8,120.8 147.4,121.3 C139.0,121.8 126.2,123.1 119.9,121.3 C113.5,119.5 110.7,115.2 109.2,110.6 C107.6,106.0 113.5,98.4 110.7,93.8 C107.9,89.2 99.0,83.8 92.4,83.1 C85.7,82.3 76.8,86.4 70.9,89.2 C65.1,92.0 60.8,99.1 57.2,99.9 C53.6,100.7 50.3,97.6 49.5,93.8 C48.8,90.0 53.4,82.6 52.6,77.0 C51.8,71.4 40.4,62.9 45.0,60.1Z" fill="#f6eff1" opacity="0.95" filter="url(#b2)"/>
<ellipse cx="147.4" cy="80.0" rx="9.2" ry="1.8" fill="#e0808a" opacity="0.25" filter="url(#b2)"/>
<ellipse cx="185.6" cy="75.4" rx="12.2" ry="2.1" fill="#e0808a" opacity="0.22" filter="url(#b2)"/>
<ellipse cx="205.5" cy="55.6" rx="7.6" ry="4.6" fill="#e0808a" opacity="0.2" filter="url(#b2)"/>
<ellipse cx="132.1" cy="89.2" rx="12.2" ry="3.1" fill="#e0808a" opacity="0.15" filter="url(#b2)"/>
<ellipse cx="178.0" cy="92.3" rx="13.8" ry="3.1" fill="#e0808a" opacity="0.15" filter="url(#b2)"/>
<ellipse cx="101.5" cy="81.6" rx="6.1" ry="1.5" fill="#e0808a" opacity="0.2" filter="url(#b2)"/>
<path d="M32.0,14.3 C32.5,10.1 33.6,9.4 35.8,7.4 C37.9,5.4 38.6,3.3 45.0,2.4 C51.3,1.4 67.4,0.4 74.0,1.7 C80.6,3.1 80.4,7.2 84.7,10.5 C89.0,13.7 94.6,19.6 100.0,21.2 C105.3,22.7 112.7,20.8 116.8,19.6 C120.9,18.4 120.4,15.3 124.5,14.0 C128.5,12.6 135.9,12.6 141.3,11.5 C146.6,10.4 152.0,7.7 156.6,7.4 C161.2,7.1 165.2,9.2 168.8,9.7 C172.4,10.2 176.1,11.7 178.0,10.5 C179.8,9.2 177.3,3.4 179.8,2.0 C182.4,0.6 189.7,0.8 193.3,2.0 C196.8,3.3 198.7,6.1 200.9,9.7 C203.1,13.3 204.6,19.9 206.3,23.5 C207.9,27.0 209.4,29.2 210.8,31.1 C212.2,33.0 215.1,33.3 214.7,34.9 C214.3,36.6 212.4,39.0 208.6,41.0 C204.7,43.1 197.9,44.7 191.7,47.1 C185.6,49.6 177.7,52.4 171.9,55.6 C166.0,58.7 163.2,64.1 156.6,66.3 C149.9,68.4 139.2,68.8 132.1,68.6 C125.0,68.3 120.4,65.5 113.8,64.7 C107.1,64.0 98.2,65.0 92.4,64.0 C86.5,62.9 82.7,59.5 78.6,58.6 C74.5,57.7 70.9,58.1 67.9,58.6 C64.8,59.1 64.6,61.3 60.2,61.7 C55.9,62.1 45.6,63.7 41.9,60.9 C38.2,58.1 39.6,49.6 38.1,44.9 C36.5,40.1 33.7,37.7 32.7,32.6 C31.7,27.5 31.4,18.5 32.0,14.3Z" fill="#ddc8dc"/>
<path d="M32.7,14.3 C34.3,8.2 38.1,5.6 45.0,3.6 C51.8,1.6 67.1,0.8 74.0,2.4 C80.9,3.9 81.9,9.5 86.2,12.7 C90.6,16.0 98.0,17.3 100.0,21.9 C102.0,26.5 100.8,36.4 98.5,40.3 C96.2,44.1 89.8,44.9 86.2,44.9 C82.7,44.9 79.6,43.6 77.1,40.3 C74.5,37.0 74.0,28.8 70.9,25.0 C67.9,21.2 61.8,17.3 58.7,17.3 C55.7,17.3 54.9,21.2 52.6,25.0 C50.3,28.8 47.8,37.7 45.0,40.3 C42.2,42.8 37.8,44.6 35.8,40.3 C33.7,35.9 31.2,20.4 32.7,14.3Z" fill="#b9a3ca" opacity="0.9" filter="url(#b2)"/>
<path d="M77.1,25.0 C80.9,21.4 93.4,22.7 100.0,21.9 C106.6,21.2 112.5,21.5 116.8,20.4 C121.1,19.2 121.9,16.3 126.0,15.0 C130.1,13.8 137.5,11.1 141.3,12.7 C145.1,14.4 149.4,20.4 148.9,25.0 C148.4,29.6 142.0,36.4 138.2,40.3 C134.4,44.1 130.6,45.6 126.0,47.9 C121.4,50.2 116.8,53.0 110.7,54.0 C104.6,55.0 94.9,55.8 89.3,54.0 C83.7,52.2 79.1,48.2 77.1,43.3 C75.0,38.5 73.2,28.5 77.1,25.0Z" fill="#a98fbf" opacity="0.95" filter="url(#b2)"/>
<path d="M144.3,12.7 C145.9,9.1 151.0,8.2 156.6,7.9 C162.2,7.5 174.0,11.8 178.0,10.9 C181.9,10.1 177.7,4.2 180.3,2.8 C182.8,1.5 189.8,1.4 193.3,2.8 C196.7,4.2 198.6,7.5 200.9,11.2 C203.2,14.9 205.7,21.4 207.0,25.0 C208.3,28.5 210.3,30.1 208.6,32.6 C206.8,35.2 201.9,38.2 196.3,40.3 C190.7,42.3 181.5,45.1 174.9,44.9 C168.3,44.6 161.2,41.3 156.6,38.7 C152.0,36.2 149.4,33.9 147.4,29.6 C145.4,25.2 142.8,16.4 144.3,12.7Z" fill="#b097c4" opacity="0.95" filter="url(#b2)"/>
<path d="M40.4,6.6 C42.9,4.8 54.4,4.6 58.7,5.1 C63.0,5.6 67.4,7.7 66.4,9.7 C65.3,11.7 56.4,16.3 52.6,17.3 C48.8,18.4 45.5,17.6 43.4,15.8 C41.4,14.0 37.8,8.4 40.4,6.6Z" fill="#a58ab9" opacity="0.8" filter="url(#b2)"/>
<ellipse cx="60.2" cy="47.9" rx="2.1" ry="1.4" fill="#7a74b0" opacity="0.75" filter="url(#b1)"/>
<ellipse cx="64.8" cy="51.7" rx="2.1" ry="1.4" fill="#7a74b0" opacity="0.75" filter="url(#b1)"/>
<ellipse cx="70.9" cy="40.3" rx="2.1" ry="1.4" fill="#7a74b0" opacity="0.75" filter="url(#b1)"/>
<ellipse cx="81.7" cy="55.6" rx="2.1" ry="1.4" fill="#7a74b0" opacity="0.75" filter="url(#b1)"/>
<ellipse cx="92.4" cy="60.9" rx="2.1" ry="1.4" fill="#7a74b0" opacity="0.75" filter="url(#b1)"/>
<ellipse cx="101.5" cy="63.2" rx="2.1" ry="1.4" fill="#7a74b0" opacity="0.75" filter="url(#b1)"/>
<ellipse cx="110.7" cy="61.7" rx="2.1" ry="1.4" fill="#7a74b0" opacity="0.75" filter="url(#b1)"/>
<ellipse cx="116.8" cy="59.4" rx="2.1" ry="1.4" fill="#7a74b0" opacity="0.75" filter="url(#b1)"/>
<ellipse cx="119.9" cy="57.1" rx="2.1" ry="1.4" fill="#7a74b0" opacity="0.75" filter="url(#b1)"/>
<ellipse cx="126.0" cy="60.1" rx="2.1" ry="1.4" fill="#7a74b0" opacity="0.75" filter="url(#b1)"/>
<ellipse cx="139.8" cy="57.9" rx="2.1" ry="1.4" fill="#7a74b0" opacity="0.75" filter="url(#b1)"/>
<ellipse cx="145.9" cy="57.1" rx="2.1" ry="1.4" fill="#7a74b0" opacity="0.75" filter="url(#b1)"/>
<ellipse cx="138.2" cy="40.3" rx="2.1" ry="1.4" fill="#7a74b0" opacity="0.75" filter="url(#b1)"/>
<ellipse cx="152.0" cy="65.5" rx="2.1" ry="1.4" fill="#7a74b0" opacity="0.75" filter="url(#b1)"/>
<ellipse cx="54.1" cy="69.3" rx="2.1" ry="1.4" fill="#7a74b0" opacity="0.75" filter="url(#b1)"/>
<path d="M48.0,61.7 C49.5,57.6 57.2,58.6 58.7,61.7 C60.2,64.7 57.2,74.7 57.2,80.0 C57.2,85.4 59.5,90.5 58.7,93.8 C58.0,97.1 54.1,101.2 52.6,99.9 C51.1,98.6 50.3,92.5 49.5,86.1 C48.8,79.8 46.5,65.8 48.0,61.7Z" fill="#ead6e2" opacity="0.9" filter="url(#b2)"/>
<path d="M67.9,67.8 C68.1,69.8 69.0,76.7 69.4,80.0 C69.8,83.3 70.1,86.4 70.2,87.7" fill="none" stroke="#e08a98" stroke-width="1.2" stroke-linecap="round" opacity="0.7" filter="url(#b1)"/>
<ellipse cx="112.2" cy="112.9" rx="3.4" ry="2.8" fill="#e2666a" opacity="0.9" filter="url(#b1)"/>
<path d="M121.4,115.2 C122.7,114.3 127.0,114.0 132.1,112.9 C137.2,111.7 148.4,108.7 152.0,108.3 C155.5,107.9 156.1,109.2 153.5,110.6 C151.0,112.0 141.5,115.4 136.7,116.7 C131.9,118.0 127.0,118.5 124.5,118.2 C121.9,118.0 120.1,116.1 121.4,115.2Z" fill="#e2666a" opacity="0.85" filter="url(#b1)"/>
<path d="M138.2,121.3 C139.2,120.0 145.0,116.8 147.4,115.2 C149.8,113.5 152.0,111.4 152.7,111.4 C153.5,111.4 153.9,113.3 152.0,115.2 C150.1,117.1 143.6,121.8 141.3,122.8 C139.0,123.9 137.2,122.6 138.2,121.3Z" fill="#de5a60" opacity="0.85" filter="url(#b1)"/>
<ellipse cx="167.3" cy="108.8" rx="5.4" ry="1.5" fill="#e2666a" opacity="0.85" filter="url(#b1)" transform="rotate(15 167.3 108.8)"/>
<ellipse cx="160.4" cy="86.1" rx="2.1" ry="6.1" fill="#e27a7a" opacity="0.8" filter="url(#b1)" transform="rotate(20 160.4 86.1)"/>
<ellipse cx="123.7" cy="101.4" rx="2.8" ry="1.5" fill="#e27a7a" opacity="0.7" filter="url(#b1)"/>
<ellipse cx="193.3" cy="108.3" rx="1.2" ry="1.2" fill="#e27a7a" opacity="0.8" filter="url(#b1)"/>
<ellipse cx="112.2" cy="22.7" rx="6.1" ry="1.2" fill="#e07a90" opacity="0.6" filter="url(#b1)"/></g></g>
<g clip-path="url(#pm0)">
<rect width="260.7" height="123.8" fill="#9c0068"/>
<ellipse cx="67.9" cy="48.7" rx="24.1" ry="16.1" fill="url(#rg6a00a4)" opacity="0.9"/>
<ellipse cx="109.2" cy="18.6" rx="18.7" ry="5.4" fill="url(#rg5a00b0)" opacity="0.9"/>
<ellipse cx="158.9" cy="42.6" rx="29.4" ry="18.7" fill="url(#rg7400a0)" opacity="0.85"/>
<ellipse cx="168.0" cy="25.0" rx="13.4" ry="21.4" fill="url(#rg7a0098)" opacity="0.7"/>
<ellipse cx="89.3" cy="31.4" rx="16.1" ry="4.8" fill="url(#rg5a00b0)" opacity="0.8"/>
<ellipse cx="45.0" cy="29.6" rx="29.4" ry="29.4" fill="url(#rg8a0088)" opacity="0.6"/>
<ellipse cx="204.0" cy="26.5" rx="13.4" ry="13.4" fill="url(#rg7a00a0)" opacity="0.7"/>
<ellipse cx="132.1" cy="21.2" rx="10.7" ry="3.7" fill="url(#rg5a00a8)" opacity="0.7"/>
<ellipse cx="69.4" cy="8.9" rx="32.1" ry="18.7" fill="url(#rgf2001c)" opacity="0.77"/>
<ellipse cx="147.4" cy="22.7" rx="45.5" ry="18.7" fill="url(#rgf0001c)" opacity="0.85"/>
<ellipse cx="187.1" cy="34.2" rx="34.8" ry="16.1" fill="url(#rgf2001c)" opacity="0.85"/>
<ellipse cx="110.7" cy="29.6" rx="29.4" ry="16.1" fill="url(#rgee001e)" opacity="0.77"/>
<ellipse cx="100.0" cy="46.4" rx="29.4" ry="16.1" fill="url(#rge8001e)" opacity="0.72"/>
<ellipse cx="35.8" cy="11.2" rx="13.4" ry="10.7" fill="url(#rge00028)" opacity="0.54"/>
<ellipse cx="197.9" cy="9.7" rx="13.4" ry="13.4" fill="url(#rgd80030)" opacity="0.54"/>
<ellipse cx="126.0" cy="52.5" rx="26.8" ry="10.7" fill="url(#rgd00038)" opacity="0.45"/>
</g>
</svg>
<rect x="65.5" y="1426.6" width="260.7" height="123.8" fill="none" stroke="#000" stroke-width="1.5"/>
<svg x="341.6" y="1181.0" width="261.0" height="128.2" viewBox="0 0 261.0 128.2" overflow="hidden">
<rect width="261.0" height="128.2" fill="#f3f3f3"/>
<rect x="0" y="0" width="261" height="6" fill="url(#slide2)" opacity="0.8"/>
<path d="M1.3,9.5 C10.3,9.3 31.2,8.6 55.6,8.0 C79.9,7.4 117.7,6.7 147.3,6.0 C176.9,5.3 218.6,4.2 232.9,3.9" fill="none" stroke="#777" stroke-width="0.9" stroke-linecap="round" opacity="0.8"/>
<path d="M233.8,2.6 C234.0,11.6 234.3,35.4 234.8,56.2 C235.2,77.0 236.0,115.5 236.3,127.4" fill="none" stroke="#666" stroke-width="0.9" stroke-linecap="round" opacity="0.85"/>
<path d="M1.7,9.5 C1.9,19.8 2.3,51.8 2.8,71.4 C3.3,91.1 4.5,118.1 4.8,127.4" fill="none" stroke="#777" stroke-width="1.0" stroke-linecap="round" opacity="0.7"/>
<ellipse cx="195.5" cy="10.0" rx="2.8" ry="4.3" fill="#d8d8d8" opacity="0.9" filter="url(#b1)"/><g filter="url(#rough2)"><path d="M69.3,24.8 C70.8,23.5 76.2,25.3 80.0,27.1 C83.8,28.9 90.0,32.5 92.3,35.5 C94.5,38.6 94.3,42.0 93.8,45.5 C93.3,48.9 91.5,52.6 89.2,56.2 C86.9,59.7 83.3,63.7 80.0,66.9 C76.7,70.0 72.9,74.5 69.3,75.3 C65.8,76.0 61.4,73.6 58.6,71.4 C55.8,69.3 53.0,65.1 52.5,62.3 C52.0,59.5 53.8,57.4 55.6,54.6 C57.3,51.8 60.7,48.8 63.2,45.5 C65.8,42.1 69.8,38.2 70.8,34.8 C71.9,31.3 67.8,26.1 69.3,24.8Z" fill="#f7f1f4" opacity="0.95" filter="url(#b1)"/>
<path d="M53.3,63.8 C54.7,65.1 58.7,70.2 61.7,71.4 C64.6,72.7 67.0,73.0 70.8,71.4 C74.7,69.9 82.3,63.8 84.6,62.3" fill="none" stroke="#e9a8bf" stroke-width="2.0" stroke-linecap="round" opacity="0.7" filter="url(#b1)"/>
<path d="M69.3,24.8 C68.0,28.5 64.5,40.7 61.7,47.0 C58.9,53.2 54.0,59.7 52.5,62.3" fill="none" stroke="#eec8d6" stroke-width="1.2" stroke-linecap="round" opacity="0.7" filter="url(#b1)"/>
<path d="M69.3,24.8 C71.1,25.2 76.2,25.2 80.0,27.1 C83.8,29.0 90.2,34.5 92.3,36.0" fill="none" stroke="#eec8d6" stroke-width="1.2" stroke-linecap="round" opacity="0.7" filter="url(#b1)"/>
<path d="M90.7,51.6 C88.9,50.8 87.2,58.5 87.7,62.3 C88.2,66.1 91.0,70.4 93.8,74.5 C96.6,78.6 101.4,83.4 104.5,86.7 C107.5,90.0 108.6,92.2 112.1,94.4 C115.7,96.5 121.3,97.9 125.9,99.7 C130.5,101.5 136.1,102.9 139.7,105.1 C143.2,107.3 145.1,110.0 147.3,112.7 C149.5,115.5 150.6,121.1 152.6,121.6 C154.7,122.1 157.4,118.3 159.5,115.8 C161.7,113.3 165.6,109.2 165.6,106.6 C165.6,104.1 163.6,102.5 159.5,100.5 C155.4,98.5 147.0,96.7 141.2,94.4 C135.3,92.1 129.5,89.5 124.4,86.7 C119.3,83.9 114.9,80.9 110.6,77.6 C106.3,74.3 101.7,71.2 98.4,66.9 C95.1,62.5 92.5,52.3 90.7,51.6Z" fill="#d95f8b" opacity="0.95" filter="url(#b1)"/>
<path d="M145.8,102.0 C147.3,99.7 152.9,98.5 156.5,99.0 C160.0,99.5 164.9,102.5 167.2,105.1 C169.5,107.6 171.2,112.5 170.2,114.3 C169.2,116.0 163.9,114.5 161.1,115.8 C158.3,117.1 155.7,122.4 153.4,121.9 C151.1,121.4 148.6,116.0 147.3,112.7 C146.0,109.4 144.2,104.3 145.8,102.0Z" fill="#e88fad" opacity="0.9" filter="url(#b1)"/>
<path d="M93.8,37.8 C96.3,35.3 100.7,40.1 104.5,41.2 C108.3,42.2 112.6,43.1 116.7,44.2 C120.8,45.3 127.0,45.8 128.9,47.7 C130.9,49.7 127.5,53.5 128.2,56.2 C128.8,58.8 130.6,60.9 132.8,63.8 C134.9,66.7 138.8,73.0 141.2,73.3 C143.6,73.6 144.7,67.5 147.3,65.6 C149.8,63.8 153.7,61.8 156.5,62.3 C159.3,62.7 162.3,65.3 164.1,68.4 C165.9,71.4 165.3,77.6 167.2,80.6 C169.1,83.7 174.6,83.9 175.6,86.7 C176.6,89.5 174.7,94.6 173.3,97.4 C171.9,100.3 169.5,102.8 167.2,103.9 C164.9,104.9 161.6,105.3 159.5,103.9 C157.5,102.4 158.0,96.4 154.9,95.1 C151.9,93.9 145.5,96.9 141.2,96.2 C136.8,95.6 133.0,93.2 128.9,91.3 C124.9,89.5 119.8,87.5 116.7,85.2 C113.7,82.9 113.1,79.3 110.6,77.6 C108.1,75.8 104.5,76.0 101.4,74.5 C98.4,73.0 94.2,71.4 92.3,68.4 C90.3,65.3 89.2,61.3 89.5,56.2 C89.8,51.1 91.3,40.3 93.8,37.8Z" fill="#7f5c98"/>
<path d="M107.5,45.5 C110.9,44.2 124.4,46.7 127.4,48.5 C130.5,50.3 127.7,54.4 125.9,56.2 C124.1,57.9 118.8,56.2 116.7,59.2 C114.7,62.3 115.2,75.0 113.7,74.5 C112.1,74.0 108.6,61.0 107.5,56.2 C106.5,51.3 104.2,46.7 107.5,45.5Z" fill="#d8c4dc" opacity="0.4" filter="url(#b1)"/>
<path d="M158.0,88.3 C160.5,86.0 170.6,85.2 173.3,86.7 C176.0,88.3 175.3,94.5 174.1,97.4 C172.8,100.4 168.3,103.8 165.6,104.3 C163.0,104.8 159.3,103.2 158.0,100.5 C156.7,97.8 155.4,90.6 158.0,88.3Z" fill="#c7a6cc" opacity="0.7" filter="url(#b1)"/>
<path d="M107.5,53.1 C108.3,55.1 110.6,60.7 112.1,65.3 C113.7,69.9 114.4,76.0 116.7,80.6 C119.0,85.2 124.4,90.8 125.9,92.9" fill="none" stroke="#c8507e" stroke-width="1.4" stroke-linecap="round" opacity="0.7" filter="url(#b1)"/></g>
</svg>
<rect x="341.6" y="1181.0" width="261.0" height="128.2" fill="none" stroke="#000" stroke-width="1.5"/>
<circle cx="584.5" cy="1198.7" r="12.9" fill="#2a00d5"/>
<svg x="341.6" y="1426.0" width="261.0" height="128.2" viewBox="0 0 261.0 128.2" overflow="hidden">
<rect width="261.0" height="128.2" fill="#f8f8f8"/>
<g filter="url(#gray)" opacity="0.62"><rect x="0" y="0" width="261" height="6" fill="url(#slide2)" opacity="0.8"/>
<path d="M1.3,9.5 C10.3,9.3 31.2,8.6 55.6,8.0 C79.9,7.4 117.7,6.7 147.3,6.0 C176.9,5.3 218.6,4.2 232.9,3.9" fill="none" stroke="#777" stroke-width="0.9" stroke-linecap="round" opacity="0.8"/>
<path d="M233.8,2.6 C234.0,11.6 234.3,35.4 234.8,56.2 C235.2,77.0 236.0,115.5 236.3,127.4" fill="none" stroke="#666" stroke-width="0.9" stroke-linecap="round" opacity="0.85"/>
<path d="M1.7,9.5 C1.9,19.8 2.3,51.8 2.8,71.4 C3.3,91.1 4.5,118.1 4.8,127.4" fill="none" stroke="#777" stroke-width="1.0" stroke-linecap="round" opacity="0.7"/>
<ellipse cx="195.5" cy="10.0" rx="2.8" ry="4.3" fill="#d8d8d8" opacity="0.9" filter="url(#b1)"/><g filter="url(#rough2)"><path d="M69.3,24.8 C70.8,23.5 76.2,25.3 80.0,27.1 C83.8,28.9 90.0,32.5 92.3,35.5 C94.5,38.6 94.3,42.0 93.8,45.5 C93.3,48.9 91.5,52.6 89.2,56.2 C86.9,59.7 83.3,63.7 80.0,66.9 C76.7,70.0 72.9,74.5 69.3,75.3 C65.8,76.0 61.4,73.6 58.6,71.4 C55.8,69.3 53.0,65.1 52.5,62.3 C52.0,59.5 53.8,57.4 55.6,54.6 C57.3,51.8 60.7,48.8 63.2,45.5 C65.8,42.1 69.8,38.2 70.8,34.8 C71.9,31.3 67.8,26.1 69.3,24.8Z" fill="#f7f1f4" opacity="0.95" filter="url(#b1)"/>
<path d="M53.3,63.8 C54.7,65.1 58.7,70.2 61.7,71.4 C64.6,72.7 67.0,73.0 70.8,71.4 C74.7,69.9 82.3,63.8 84.6,62.3" fill="none" stroke="#e9a8bf" stroke-width="2.0" stroke-linecap="round" opacity="0.7" filter="url(#b1)"/>
<path d="M69.3,24.8 C68.0,28.5 64.5,40.7 61.7,47.0 C58.9,53.2 54.0,59.7 52.5,62.3" fill="none" stroke="#eec8d6" stroke-width="1.2" stroke-linecap="round" opacity="0.7" filter="url(#b1)"/>
<path d="M69.3,24.8 C71.1,25.2 76.2,25.2 80.0,27.1 C83.8,29.0 90.2,34.5 92.3,36.0" fill="none" stroke="#eec8d6" stroke-width="1.2" stroke-linecap="round" opacity="0.7" filter="url(#b1)"/>
<path d="M90.7,51.6 C88.9,50.8 87.2,58.5 87.7,62.3 C88.2,66.1 91.0,70.4 93.8,74.5 C96.6,78.6 101.4,83.4 104.5,86.7 C107.5,90.0 108.6,92.2 112.1,94.4 C115.7,96.5 121.3,97.9 125.9,99.7 C130.5,101.5 136.1,102.9 139.7,105.1 C143.2,107.3 145.1,110.0 147.3,112.7 C149.5,115.5 150.6,121.1 152.6,121.6 C154.7,122.1 157.4,118.3 159.5,115.8 C161.7,113.3 165.6,109.2 165.6,106.6 C165.6,104.1 163.6,102.5 159.5,100.5 C155.4,98.5 147.0,96.7 141.2,94.4 C135.3,92.1 129.5,89.5 124.4,86.7 C119.3,83.9 114.9,80.9 110.6,77.6 C106.3,74.3 101.7,71.2 98.4,66.9 C95.1,62.5 92.5,52.3 90.7,51.6Z" fill="#d95f8b" opacity="0.95" filter="url(#b1)"/>
<path d="M145.8,102.0 C147.3,99.7 152.9,98.5 156.5,99.0 C160.0,99.5 164.9,102.5 167.2,105.1 C169.5,107.6 171.2,112.5 170.2,114.3 C169.2,116.0 163.9,114.5 161.1,115.8 C158.3,117.1 155.7,122.4 153.4,121.9 C151.1,121.4 148.6,116.0 147.3,112.7 C146.0,109.4 144.2,104.3 145.8,102.0Z" fill="#e88fad" opacity="0.9" filter="url(#b1)"/>
<path d="M93.8,37.8 C96.3,35.3 100.7,40.1 104.5,41.2 C108.3,42.2 112.6,43.1 116.7,44.2 C120.8,45.3 127.0,45.8 128.9,47.7 C130.9,49.7 127.5,53.5 128.2,56.2 C128.8,58.8 130.6,60.9 132.8,63.8 C134.9,66.7 138.8,73.0 141.2,73.3 C143.6,73.6 144.7,67.5 147.3,65.6 C149.8,63.8 153.7,61.8 156.5,62.3 C159.3,62.7 162.3,65.3 164.1,68.4 C165.9,71.4 165.3,77.6 167.2,80.6 C169.1,83.7 174.6,83.9 175.6,86.7 C176.6,89.5 174.7,94.6 173.3,97.4 C171.9,100.3 169.5,102.8 167.2,103.9 C164.9,104.9 161.6,105.3 159.5,103.9 C157.5,102.4 158.0,96.4 154.9,95.1 C151.9,93.9 145.5,96.9 141.2,96.2 C136.8,95.6 133.0,93.2 128.9,91.3 C124.9,89.5 119.8,87.5 116.7,85.2 C113.7,82.9 113.1,79.3 110.6,77.6 C108.1,75.8 104.5,76.0 101.4,74.5 C98.4,73.0 94.2,71.4 92.3,68.4 C90.3,65.3 89.2,61.3 89.5,56.2 C89.8,51.1 91.3,40.3 93.8,37.8Z" fill="#7f5c98"/>
<path d="M107.5,45.5 C110.9,44.2 124.4,46.7 127.4,48.5 C130.5,50.3 127.7,54.4 125.9,56.2 C124.1,57.9 118.8,56.2 116.7,59.2 C114.7,62.3 115.2,75.0 113.7,74.5 C112.1,74.0 108.6,61.0 107.5,56.2 C106.5,51.3 104.2,46.7 107.5,45.5Z" fill="#d8c4dc" opacity="0.4" filter="url(#b1)"/>
<path d="M158.0,88.3 C160.5,86.0 170.6,85.2 173.3,86.7 C176.0,88.3 175.3,94.5 174.1,97.4 C172.8,100.4 168.3,103.8 165.6,104.3 C163.0,104.8 159.3,103.2 158.0,100.5 C156.7,97.8 155.4,90.6 158.0,88.3Z" fill="#c7a6cc" opacity="0.7" filter="url(#b1)"/>
<path d="M107.5,53.1 C108.3,55.1 110.6,60.7 112.1,65.3 C113.7,69.9 114.4,76.0 116.7,80.6 C119.0,85.2 124.4,90.8 125.9,92.9" fill="none" stroke="#c8507e" stroke-width="1.4" stroke-linecap="round" opacity="0.7" filter="url(#b1)"/></g></g>
<g clip-path="url(#pm1)">
<rect width="261.0" height="128.2" fill="#6a00a8"/>
<ellipse cx="101.4" cy="66.9" rx="26.8" ry="18.7" fill="url(#rg2c00d8)" opacity="0.95"/>
<ellipse cx="147.3" cy="86.7" rx="34.8" ry="18.7" fill="url(#rg3000d4)" opacity="0.95"/>
<ellipse cx="113.7" cy="56.2" rx="18.7" ry="16.1" fill="url(#rg4000c8)" opacity="0.8"/>
<ellipse cx="156.5" cy="71.4" rx="18.7" ry="13.4" fill="url(#rg4a00c0)" opacity="0.8"/>
<ellipse cx="128.9" cy="80.6" rx="21.4" ry="16.1" fill="url(#rg3a00cc)" opacity="0.7"/>
<ellipse cx="67.8" cy="71.4" rx="18.7" ry="9.4" fill="url(#rgd8003c)" opacity="0.95"/>
<ellipse cx="156.5" cy="112.7" rx="29.4" ry="21.4" fill="url(#rgc8004a)" opacity="0.9"/>
<ellipse cx="90.7" cy="56.2" rx="16.1" ry="16.1" fill="url(#rga8006a)" opacity="0.7"/>
<ellipse cx="116.7" cy="94.4" rx="29.4" ry="10.7" fill="url(#rga00070)" opacity="0.7"/>
</g>
</svg>
<rect x="341.6" y="1426.0" width="261.0" height="128.2" fill="none" stroke="#000" stroke-width="1.5"/>
<svg x="621.3" y="1171.9" width="260.3" height="142.5" viewBox="0 0 260.3 142.5" overflow="hidden">
<rect width="260.3" height="142.5" fill="#f3f3f3"/>
<path d="M241.1,1.0 C241.2,12.6 241.5,47.6 242.0,70.5 C242.5,93.5 243.5,127.2 243.8,138.6" fill="none" stroke="#888" stroke-width="0.9" stroke-linecap="round" opacity="0.8"/>
<path d="M100.7,140.6 C113.5,140.4 153.3,139.7 177.2,139.4 C201.0,139.0 232.7,138.7 243.8,138.6" fill="none" stroke="#888" stroke-width="0.9" stroke-linecap="round" opacity="0.7"/><g filter="url(#rough)"><path d="M2.9,3.3 C10.3,0.7 36.3,1.8 54.9,1.4 C73.5,1.1 104.3,-2.9 114.5,1.0 C124.7,4.9 118.3,18.9 116.0,24.7 C113.7,30.4 106.8,30.5 100.7,35.4 C94.6,40.2 84.9,48.6 79.3,53.7 C73.7,58.8 71.7,63.9 67.1,66.0 C62.5,68.0 56.4,64.2 51.8,66.0 C47.2,67.7 43.1,74.2 39.6,76.7 C36.0,79.1 33.5,81.0 30.4,80.5 C27.3,80.0 25.8,75.1 21.2,73.6 C16.6,72.1 6.1,74.4 2.9,71.3 C-0.3,68.3 0.3,60.5 2.1,55.3 C3.9,50.0 12.2,46.3 13.6,40.0 C15.0,33.6 12.3,23.2 10.5,17.0 C8.7,10.9 -4.5,5.9 2.9,3.3Z" fill="#f6eff1" opacity="0.95" filter="url(#b2)"/>
<path d="M12.0,12.4 C15.4,13.5 24.8,18.3 31.9,18.6 C39.1,18.8 47.0,15.8 54.9,14.0 C62.8,12.2 73.0,9.1 79.3,7.9 C85.7,6.6 90.8,6.6 93.1,6.3" fill="none" stroke="#dfa6b8" stroke-width="1.6" stroke-linecap="round" opacity="0.5" filter="url(#b1)"/>
<path d="M16.6,44.6 C20.5,43.8 32.7,39.5 39.6,40.0 C46.4,40.5 52.3,46.8 57.9,47.6 C63.5,48.4 70.7,45.1 73.2,44.6" fill="none" stroke="#dfa6b8" stroke-width="1.6" stroke-linecap="round" opacity="0.5" filter="url(#b1)"/>
<path d="M5.9,62.9 C9.0,63.4 17.9,66.2 24.3,66.0 C30.6,65.7 39.6,61.4 44.2,61.4 C48.7,61.4 50.5,65.2 51.8,66.0" fill="none" stroke="#dfa6b8" stroke-width="1.6" stroke-linecap="round" opacity="0.5" filter="url(#b1)"/>
<path d="M24.3,24.7 C27.6,25.7 37.8,30.0 44.2,30.8 C50.5,31.6 56.6,28.5 62.5,29.3 C68.4,30.0 76.5,34.4 79.3,35.4" fill="none" stroke="#dfa6b8" stroke-width="1.6" stroke-linecap="round" opacity="0.5" filter="url(#b1)"/>
<path d="M39.6,3.3 C40.3,4.3 40.3,9.1 44.2,9.4 C48.0,9.6 59.4,5.6 62.5,4.8" fill="none" stroke="#dfa6b8" stroke-width="1.6" stroke-linecap="round" opacity="0.5" filter="url(#b1)"/>
<path d="M113.0,1.0 C114.7,-0.4 124.7,0.1 126.7,1.0 C128.8,1.9 127.0,4.9 125.2,6.3 C123.4,7.7 118.1,10.3 116.0,9.4 C114.0,8.5 111.2,2.4 113.0,1.0Z" fill="#e58a90" opacity="0.7" filter="url(#b2)"/>
<ellipse cx="93.1" cy="23.2" rx="1.8" ry="1.2" fill="#e06a6a" opacity="0.8" filter="url(#b1)"/>
<ellipse cx="70.1" cy="38.4" rx="1.8" ry="1.2" fill="#e06a6a" opacity="0.8" filter="url(#b1)"/>
<ellipse cx="46.4" cy="71.8" rx="1.8" ry="1.2" fill="#e06a6a" opacity="0.8" filter="url(#b1)"/>
<ellipse cx="64.0" cy="38.4" rx="1.8" ry="1.2" fill="#e06a6a" opacity="0.8" filter="url(#b1)"/>
<path d="M100.7,35.4 C106.8,30.3 113.5,23.4 116.0,24.7 C118.6,26.0 118.1,37.2 116.0,43.0 C114.0,48.9 107.9,54.7 103.8,59.8 C99.7,64.9 94.6,68.3 91.6,73.6 C88.5,79.0 87.0,84.8 85.4,92.0 C83.9,99.1 83.4,108.8 82.4,116.4 C81.4,124.1 82.1,134.0 79.3,137.8 C76.5,141.6 68.6,141.6 65.6,139.4 C62.5,137.1 63.8,129.9 61.0,124.1 C58.2,118.2 49.8,110.0 48.7,104.2 C47.7,98.3 51.8,94.5 54.9,88.9 C57.9,83.3 63.0,76.2 67.1,70.5 C71.2,64.9 73.7,61.1 79.3,55.3 C84.9,49.4 94.6,40.5 100.7,35.4Z" fill="#e4d6e4" opacity="0.95" filter="url(#b1)"/>
<path d="M116.0,3.3 C120.6,-0.7 133.9,1.4 143.5,1.0 C153.2,0.6 167.0,-3.0 174.1,1.0 C181.3,4.9 182.8,17.2 186.3,24.7 C189.9,32.2 192.3,37.9 195.5,46.1 C198.7,54.2 206.0,67.9 205.5,73.6 C204.9,79.3 197.2,80.0 192.5,80.5 C187.7,81.0 183.0,76.9 177.2,76.7 C171.3,76.4 161.4,77.4 157.3,79.0 C153.2,80.5 151.9,82.4 152.7,85.8 C153.5,89.3 160.4,95.5 161.9,99.6 C163.4,103.7 162.9,106.0 161.9,110.3 C160.9,114.6 158.3,121.5 155.8,125.6 C153.2,129.7 150.7,132.9 146.6,134.8 C142.5,136.7 135.6,137.6 131.3,137.1 C127.0,136.5 124.4,133.0 120.6,131.7 C116.8,130.4 113.0,129.3 108.4,129.4 C103.8,129.5 98.4,131.1 93.1,132.5 C87.7,133.9 79.6,139.2 76.3,137.8 C73.0,136.4 72.7,130.2 73.2,124.1 C73.7,117.9 77.3,108.5 79.3,101.1 C81.4,93.7 81.9,86.3 85.4,79.7 C89.0,73.1 96.1,68.0 100.7,61.4 C105.3,54.7 110.4,46.1 113.0,40.0 C115.5,33.9 115.5,30.8 116.0,24.7 C116.5,18.6 111.4,7.2 116.0,3.3Z" fill="#cbb5d0"/>
<path d="M119.1,17.0 C124.4,10.9 137.7,5.6 146.6,3.3 C155.5,1.0 166.5,-0.8 172.6,3.3 C178.7,7.4 180.5,20.6 183.3,27.7 C186.1,34.9 190.4,41.5 189.4,46.1 C188.4,50.7 184.3,53.2 177.2,55.3 C170.0,57.3 155.3,58.8 146.6,58.3 C137.9,57.8 130.5,55.3 125.2,52.2 C119.8,49.1 115.5,45.8 114.5,40.0 C113.5,34.1 113.7,23.2 119.1,17.0Z" fill="#bfa8ca" opacity="0.8" filter="url(#b3)"/>
<path d="M169.5,1.7 C168.1,-2.5 172.0,-2.3 174.9,1.7 C177.7,5.8 185.3,22.0 186.7,26.2 C188.1,30.4 186.1,31.0 183.3,27.0 C180.4,22.9 170.9,5.9 169.5,1.7Z" fill="#7c5c9c" opacity="0.85" filter="url(#b1)"/>
<path d="M91.6,66.0 C94.9,63.2 103.8,60.6 103.8,62.9 C103.8,65.2 94.1,73.4 91.6,79.7 C89.0,86.1 88.2,95.0 88.5,101.1 C88.7,107.2 92.6,111.3 93.1,116.4 C93.6,121.5 94.4,128.1 91.6,131.7 C88.7,135.3 79.1,139.1 76.3,137.8 C73.5,136.5 74.2,130.2 74.7,124.1 C75.2,117.9 77.8,108.5 79.3,101.1 C80.9,93.7 81.9,85.6 83.9,79.7 C85.9,73.9 88.2,68.8 91.6,66.0Z" fill="#e2aecb" opacity="0.8" filter="url(#b2)"/>
<path d="M91.6,111.8 C93.6,110.3 103.8,110.6 109.9,107.2 C116.0,103.9 124.2,95.5 128.2,92.0 C132.3,88.4 133.9,84.8 134.4,85.8 C134.9,86.9 134.9,94.0 131.3,98.1 C127.7,102.1 118.6,107.2 113.0,110.3 C107.4,113.4 101.2,116.2 97.7,116.4 C94.1,116.7 89.5,113.4 91.6,111.8Z" fill="#dfaccb" opacity="0.6" filter="url(#b2)"/>
<path d="M91.6,76.7 C94.9,73.4 104.3,72.6 109.9,73.6 C115.5,74.6 122.1,79.5 125.2,82.8 C128.2,86.1 130.8,89.7 128.2,93.5 C125.7,97.3 115.8,102.9 109.9,105.7 C104.0,108.5 96.4,112.3 93.1,110.3 C89.8,108.3 90.3,99.1 90.0,93.5 C89.8,87.9 88.2,80.0 91.6,76.7Z" fill="#b9a2c8" opacity="0.9" filter="url(#b2)"/>
<path d="M97.7,116.4 C101.2,113.4 109.4,114.4 116.0,111.8 C122.6,109.3 130.3,103.4 137.4,101.1 C144.6,98.8 155.0,96.0 158.8,98.1 C162.6,100.1 161.4,108.3 160.4,113.4 C159.3,118.5 157.6,125.0 152.7,128.6 C147.9,132.3 138.4,135.5 131.3,135.5 C124.2,135.5 116.0,129.5 109.9,128.6 C103.8,127.8 96.6,132.2 94.6,130.2 C92.6,128.1 94.1,119.5 97.7,116.4Z" fill="#bca6ca" opacity="0.9" filter="url(#b2)"/>
<path d="M61.0,92.0 C62.0,90.7 65.1,86.7 67.1,84.3 C69.1,81.9 72.2,78.6 73.2,77.4" fill="none" stroke="#d85a4a" stroke-width="1.6" stroke-linecap="round" opacity="0.8" filter="url(#b1)"/>
<ellipse cx="85.4" cy="67.5" rx="1.5" ry="1.1" fill="#8e86b8" opacity="0.7" filter="url(#b1)"/>
<ellipse cx="91.6" cy="63.7" rx="1.5" ry="1.1" fill="#8e86b8" opacity="0.7" filter="url(#b1)"/>
<ellipse cx="99.2" cy="59.8" rx="1.5" ry="1.1" fill="#8e86b8" opacity="0.7" filter="url(#b1)"/>
<ellipse cx="82.4" cy="73.6" rx="1.5" ry="1.1" fill="#8e86b8" opacity="0.7" filter="url(#b1)"/>
<ellipse cx="100.7" cy="52.2" rx="1.5" ry="1.1" fill="#8e86b8" opacity="0.7" filter="url(#b1)"/></g>
</svg>
<rect x="621.3" y="1171.9" width="260.3" height="142.5" fill="none" stroke="#000" stroke-width="1.5"/>
<circle cx="863.9" cy="1189.3" r="12.9" fill="#f2000f"/>
<svg x="621.3" y="1416.9" width="260.3" height="142.5" viewBox="0 0 260.3 142.5" overflow="hidden">
<rect width="260.3" height="142.5" fill="#f8f8f8"/>
<g filter="url(#gray)" opacity="0.62"><path d="M241.1,1.0 C241.2,12.6 241.5,47.6 242.0,70.5 C242.5,93.5 243.5,127.2 243.8,138.6" fill="none" stroke="#888" stroke-width="0.9" stroke-linecap="round" opacity="0.8"/>
<path d="M100.7,140.6 C113.5,140.4 153.3,139.7 177.2,139.4 C201.0,139.0 232.7,138.7 243.8,138.6" fill="none" stroke="#888" stroke-width="0.9" stroke-linecap="round" opacity="0.7"/><g filter="url(#rough)"><path d="M2.9,3.3 C10.3,0.7 36.3,1.8 54.9,1.4 C73.5,1.1 104.3,-2.9 114.5,1.0 C124.7,4.9 118.3,18.9 116.0,24.7 C113.7,30.4 106.8,30.5 100.7,35.4 C94.6,40.2 84.9,48.6 79.3,53.7 C73.7,58.8 71.7,63.9 67.1,66.0 C62.5,68.0 56.4,64.2 51.8,66.0 C47.2,67.7 43.1,74.2 39.6,76.7 C36.0,79.1 33.5,81.0 30.4,80.5 C27.3,80.0 25.8,75.1 21.2,73.6 C16.6,72.1 6.1,74.4 2.9,71.3 C-0.3,68.3 0.3,60.5 2.1,55.3 C3.9,50.0 12.2,46.3 13.6,40.0 C15.0,33.6 12.3,23.2 10.5,17.0 C8.7,10.9 -4.5,5.9 2.9,3.3Z" fill="#f6eff1" opacity="0.95" filter="url(#b2)"/>
<path d="M12.0,12.4 C15.4,13.5 24.8,18.3 31.9,18.6 C39.1,18.8 47.0,15.8 54.9,14.0 C62.8,12.2 73.0,9.1 79.3,7.9 C85.7,6.6 90.8,6.6 93.1,6.3" fill="none" stroke="#dfa6b8" stroke-width="1.6" stroke-linecap="round" opacity="0.5" filter="url(#b1)"/>
<path d="M16.6,44.6 C20.5,43.8 32.7,39.5 39.6,40.0 C46.4,40.5 52.3,46.8 57.9,47.6 C63.5,48.4 70.7,45.1 73.2,44.6" fill="none" stroke="#dfa6b8" stroke-width="1.6" stroke-linecap="round" opacity="0.5" filter="url(#b1)"/>
<path d="M5.9,62.9 C9.0,63.4 17.9,66.2 24.3,66.0 C30.6,65.7 39.6,61.4 44.2,61.4 C48.7,61.4 50.5,65.2 51.8,66.0" fill="none" stroke="#dfa6b8" stroke-width="1.6" stroke-linecap="round" opacity="0.5" filter="url(#b1)"/>
<path d="M24.3,24.7 C27.6,25.7 37.8,30.0 44.2,30.8 C50.5,31.6 56.6,28.5 62.5,29.3 C68.4,30.0 76.5,34.4 79.3,35.4" fill="none" stroke="#dfa6b8" stroke-width="1.6" stroke-linecap="round" opacity="0.5" filter="url(#b1)"/>
<path d="M39.6,3.3 C40.3,4.3 40.3,9.1 44.2,9.4 C48.0,9.6 59.4,5.6 62.5,4.8" fill="none" stroke="#dfa6b8" stroke-width="1.6" stroke-linecap="round" opacity="0.5" filter="url(#b1)"/>
<path d="M113.0,1.0 C114.7,-0.4 124.7,0.1 126.7,1.0 C128.8,1.9 127.0,4.9 125.2,6.3 C123.4,7.7 118.1,10.3 116.0,9.4 C114.0,8.5 111.2,2.4 113.0,1.0Z" fill="#e58a90" opacity="0.7" filter="url(#b2)"/>
<ellipse cx="93.1" cy="23.2" rx="1.8" ry="1.2" fill="#e06a6a" opacity="0.8" filter="url(#b1)"/>
<ellipse cx="70.1" cy="38.4" rx="1.8" ry="1.2" fill="#e06a6a" opacity="0.8" filter="url(#b1)"/>
<ellipse cx="46.4" cy="71.8" rx="1.8" ry="1.2" fill="#e06a6a" opacity="0.8" filter="url(#b1)"/>
<ellipse cx="64.0" cy="38.4" rx="1.8" ry="1.2" fill="#e06a6a" opacity="0.8" filter="url(#b1)"/>
<path d="M100.7,35.4 C106.8,30.3 113.5,23.4 116.0,24.7 C118.6,26.0 118.1,37.2 116.0,43.0 C114.0,48.9 107.9,54.7 103.8,59.8 C99.7,64.9 94.6,68.3 91.6,73.6 C88.5,79.0 87.0,84.8 85.4,92.0 C83.9,99.1 83.4,108.8 82.4,116.4 C81.4,124.1 82.1,134.0 79.3,137.8 C76.5,141.6 68.6,141.6 65.6,139.4 C62.5,137.1 63.8,129.9 61.0,124.1 C58.2,118.2 49.8,110.0 48.7,104.2 C47.7,98.3 51.8,94.5 54.9,88.9 C57.9,83.3 63.0,76.2 67.1,70.5 C71.2,64.9 73.7,61.1 79.3,55.3 C84.9,49.4 94.6,40.5 100.7,35.4Z" fill="#e4d6e4" opacity="0.95" filter="url(#b1)"/>
<path d="M116.0,3.3 C120.6,-0.7 133.9,1.4 143.5,1.0 C153.2,0.6 167.0,-3.0 174.1,1.0 C181.3,4.9 182.8,17.2 186.3,24.7 C189.9,32.2 192.3,37.9 195.5,46.1 C198.7,54.2 206.0,67.9 205.5,73.6 C204.9,79.3 197.2,80.0 192.5,80.5 C187.7,81.0 183.0,76.9 177.2,76.7 C171.3,76.4 161.4,77.4 157.3,79.0 C153.2,80.5 151.9,82.4 152.7,85.8 C153.5,89.3 160.4,95.5 161.9,99.6 C163.4,103.7 162.9,106.0 161.9,110.3 C160.9,114.6 158.3,121.5 155.8,125.6 C153.2,129.7 150.7,132.9 146.6,134.8 C142.5,136.7 135.6,137.6 131.3,137.1 C127.0,136.5 124.4,133.0 120.6,131.7 C116.8,130.4 113.0,129.3 108.4,129.4 C103.8,129.5 98.4,131.1 93.1,132.5 C87.7,133.9 79.6,139.2 76.3,137.8 C73.0,136.4 72.7,130.2 73.2,124.1 C73.7,117.9 77.3,108.5 79.3,101.1 C81.4,93.7 81.9,86.3 85.4,79.7 C89.0,73.1 96.1,68.0 100.7,61.4 C105.3,54.7 110.4,46.1 113.0,40.0 C115.5,33.9 115.5,30.8 116.0,24.7 C116.5,18.6 111.4,7.2 116.0,3.3Z" fill="#cbb5d0"/>
<path d="M119.1,17.0 C124.4,10.9 137.7,5.6 146.6,3.3 C155.5,1.0 166.5,-0.8 172.6,3.3 C178.7,7.4 180.5,20.6 183.3,27.7 C186.1,34.9 190.4,41.5 189.4,46.1 C188.4,50.7 184.3,53.2 177.2,55.3 C170.0,57.3 155.3,58.8 146.6,58.3 C137.9,57.8 130.5,55.3 125.2,52.2 C119.8,49.1 115.5,45.8 114.5,40.0 C113.5,34.1 113.7,23.2 119.1,17.0Z" fill="#bfa8ca" opacity="0.8" filter="url(#b3)"/>
<path d="M169.5,1.7 C168.1,-2.5 172.0,-2.3 174.9,1.7 C177.7,5.8 185.3,22.0 186.7,26.2 C188.1,30.4 186.1,31.0 183.3,27.0 C180.4,22.9 170.9,5.9 169.5,1.7Z" fill="#7c5c9c" opacity="0.85" filter="url(#b1)"/>
<path d="M91.6,66.0 C94.9,63.2 103.8,60.6 103.8,62.9 C103.8,65.2 94.1,73.4 91.6,79.7 C89.0,86.1 88.2,95.0 88.5,101.1 C88.7,107.2 92.6,111.3 93.1,116.4 C93.6,121.5 94.4,128.1 91.6,131.7 C88.7,135.3 79.1,139.1 76.3,137.8 C73.5,136.5 74.2,130.2 74.7,124.1 C75.2,117.9 77.8,108.5 79.3,101.1 C80.9,93.7 81.9,85.6 83.9,79.7 C85.9,73.9 88.2,68.8 91.6,66.0Z" fill="#e2aecb" opacity="0.8" filter="url(#b2)"/>
<path d="M91.6,111.8 C93.6,110.3 103.8,110.6 109.9,107.2 C116.0,103.9 124.2,95.5 128.2,92.0 C132.3,88.4 133.9,84.8 134.4,85.8 C134.9,86.9 134.9,94.0 131.3,98.1 C127.7,102.1 118.6,107.2 113.0,110.3 C107.4,113.4 101.2,116.2 97.7,116.4 C94.1,116.7 89.5,113.4 91.6,111.8Z" fill="#dfaccb" opacity="0.6" filter="url(#b2)"/>
<path d="M91.6,76.7 C94.9,73.4 104.3,72.6 109.9,73.6 C115.5,74.6 122.1,79.5 125.2,82.8 C128.2,86.1 130.8,89.7 128.2,93.5 C125.7,97.3 115.8,102.9 109.9,105.7 C104.0,108.5 96.4,112.3 93.1,110.3 C89.8,108.3 90.3,99.1 90.0,93.5 C89.8,87.9 88.2,80.0 91.6,76.7Z" fill="#b9a2c8" opacity="0.9" filter="url(#b2)"/>
<path d="M97.7,116.4 C101.2,113.4 109.4,114.4 116.0,111.8 C122.6,109.3 130.3,103.4 137.4,101.1 C144.6,98.8 155.0,96.0 158.8,98.1 C162.6,100.1 161.4,108.3 160.4,113.4 C159.3,118.5 157.6,125.0 152.7,128.6 C147.9,132.3 138.4,135.5 131.3,135.5 C124.2,135.5 116.0,129.5 109.9,128.6 C103.8,127.8 96.6,132.2 94.6,130.2 C92.6,128.1 94.1,119.5 97.7,116.4Z" fill="#bca6ca" opacity="0.9" filter="url(#b2)"/>
<path d="M61.0,92.0 C62.0,90.7 65.1,86.7 67.1,84.3 C69.1,81.9 72.2,78.6 73.2,77.4" fill="none" stroke="#d85a4a" stroke-width="1.6" stroke-linecap="round" opacity="0.8" filter="url(#b1)"/>
<ellipse cx="85.4" cy="67.5" rx="1.5" ry="1.1" fill="#8e86b8" opacity="0.7" filter="url(#b1)"/>
<ellipse cx="91.6" cy="63.7" rx="1.5" ry="1.1" fill="#8e86b8" opacity="0.7" filter="url(#b1)"/>
<ellipse cx="99.2" cy="59.8" rx="1.5" ry="1.1" fill="#8e86b8" opacity="0.7" filter="url(#b1)"/>
<ellipse cx="82.4" cy="73.6" rx="1.5" ry="1.1" fill="#8e86b8" opacity="0.7" filter="url(#b1)"/>
<ellipse cx="100.7" cy="52.2" rx="1.5" ry="1.1" fill="#8e86b8" opacity="0.7" filter="url(#b1)"/></g></g>
<g clip-path="url(#pm2)">
<rect width="260.3" height="142.5" fill="#a4005e"/>
<ellipse cx="113.0" cy="55.3" rx="34.8" ry="32.1" fill="url(#rg6a00a8)" opacity="0.9"/>
<ellipse cx="174.1" cy="15.5" rx="26.8" ry="16.1" fill="url(#rg5400b8)" opacity="0.9"/>
<ellipse cx="192.5" cy="68.3" rx="13.4" ry="9.4" fill="url(#rg5a00b0)" opacity="0.8"/>
<ellipse cx="74.7" cy="84.3" rx="13.4" ry="13.4" fill="url(#rg7400a0)" opacity="0.7"/>
<ellipse cx="135.9" cy="66.0" rx="13.4" ry="18.7" fill="url(#rg6000a8)" opacity="0.8"/>
<ellipse cx="148.1" cy="4.8" rx="32.1" ry="10.7" fill="url(#rg6a00a8)" opacity="0.8"/>
<ellipse cx="74.7" cy="101.1" rx="10.7" ry="5.4" fill="url(#rg6a00a8)" opacity="0.8"/>
<ellipse cx="100.7" cy="116.4" rx="32.1" ry="10.7" fill="url(#rg800090)" opacity="0.6"/>
<ellipse cx="190.9" cy="36.9" rx="10.7" ry="24.1" fill="url(#rg5a00b0)" opacity="0.6"/>
<ellipse cx="146.6" cy="55.3" rx="29.4" ry="24.1" fill="url(#rge0002c)" opacity="0.85"/>
<ellipse cx="109.9" cy="93.5" rx="34.8" ry="29.4" fill="url(#rgdc002c)" opacity="0.81"/>
<ellipse cx="129.8" cy="79.7" rx="18.7" ry="13.4" fill="url(#rge4002a)" opacity="0.81"/>
<ellipse cx="154.2" cy="15.5" rx="16.1" ry="24.1" fill="url(#rgc80040)" opacity="0.63"/>
<ellipse cx="184.8" cy="53.7" rx="26.8" ry="10.7" fill="url(#rgcc003c)" opacity="0.63"/>
<ellipse cx="79.3" cy="128.6" rx="26.8" ry="16.1" fill="url(#rgc80040)" opacity="0.54"/>
<ellipse cx="146.6" cy="128.6" rx="26.8" ry="18.7" fill="url(#rgc00048)" opacity="0.45"/>
</g>
</svg>
<rect x="621.3" y="1416.9" width="260.3" height="142.5" fill="none" stroke="#000" stroke-width="1.5"/>
<svg x="890.3" y="1167.7" width="260.7" height="155.1" viewBox="0 0 260.7 155.1" overflow="hidden">
<rect width="260.7" height="155.1" fill="#f3f3f3"/>
<rect x="0" y="0" width="261" height="11" fill="url(#slide4)" opacity="0.9"/>
<path d="M0.6,13.9 C14.7,13.5 56.0,12.1 85.4,11.4 C114.9,10.7 148.1,10.2 177.2,9.6 C206.2,9.0 246.0,8.3 259.7,8.1" fill="none" stroke="#555" stroke-width="0.9" stroke-linecap="round" opacity="0.85"/>
<rect x="20" y="14" width="7" height="142" fill="#fff" opacity="0.12" filter="url(#b1)"/>
<rect x="36" y="14" width="7" height="142" fill="#fff" opacity="0.12" filter="url(#b1)"/>
<rect x="52" y="14" width="7" height="142" fill="#fff" opacity="0.12" filter="url(#b1)"/>
<rect x="68" y="14" width="7" height="142" fill="#fff" opacity="0.12" filter="url(#b1)"/>
<rect x="84" y="14" width="7" height="142" fill="#fff" opacity="0.12" filter="url(#b1)"/>
<rect x="100" y="14" width="7" height="142" fill="#fff" opacity="0.12" filter="url(#b1)"/>
<rect x="116" y="14" width="7" height="142" fill="#fff" opacity="0.12" filter="url(#b1)"/>
<rect x="132" y="14" width="7" height="142" fill="#fff" opacity="0.12" filter="url(#b1)"/>
<rect x="148" y="14" width="7" height="142" fill="#fff" opacity="0.12" filter="url(#b1)"/>
<rect x="164" y="14" width="7" height="142" fill="#fff" opacity="0.12" filter="url(#b1)"/>
<rect x="180" y="14" width="7" height="142" fill="#fff" opacity="0.12" filter="url(#b1)"/>
<rect x="196" y="14" width="7" height="142" fill="#fff" opacity="0.12" filter="url(#b1)"/>
<rect x="212" y="14" width="7" height="142" fill="#fff" opacity="0.12" filter="url(#b1)"/>
<rect x="228" y="14" width="7" height="142" fill="#fff" opacity="0.12" filter="url(#b1)"/>
<rect x="244" y="14" width="7" height="142" fill="#fff" opacity="0.12" filter="url(#b1)"/><g filter="url(#rough2)"><path d="M10.5,34.1 C12.6,31.6 19.2,29.8 24.3,28.2 C29.4,26.7 37.0,24.5 41.1,24.9 C45.2,25.2 44.9,30.7 48.7,30.2 C52.6,29.8 59.4,24.2 64.0,22.1 C68.6,20.1 71.7,18.0 76.3,18.0 C80.9,17.9 87.5,20.3 91.6,21.8 C95.6,23.4 101.2,24.1 100.7,27.2 C100.2,30.2 91.4,35.5 88.5,40.2 C85.6,44.9 85.2,51.4 83.1,55.5 C81.1,59.5 80.0,63.6 76.3,64.6 C72.6,65.7 65.8,60.7 61.0,61.6 C56.1,62.5 50.5,69.0 47.2,70.0 C43.9,71.0 41.6,69.6 41.1,67.7 C40.6,65.8 41.1,62.0 44.2,58.5 C47.2,55.1 56.8,50.1 59.4,47.0 C62.0,44.0 63.1,41.6 59.8,40.2 C56.4,38.8 44.7,39.1 39.6,38.6 C34.5,38.2 31.2,34.6 29.2,37.4 C27.2,40.2 29.0,52.7 27.6,55.5 C26.3,58.2 23.8,56.0 21.2,53.9 C18.6,51.9 13.8,46.5 12.0,43.2 C10.3,39.9 8.5,36.5 10.5,34.1Z" fill="#f8f3f5"/>
<path d="M10.5,34.1 C12.8,33.1 19.2,29.8 24.3,28.2 C29.4,26.7 37.0,24.5 41.1,24.9 C45.2,25.2 44.9,30.7 48.7,30.2 C52.6,29.8 59.4,24.2 64.0,22.1 C68.6,20.1 71.7,18.0 76.3,18.0 C80.9,17.9 89.0,21.2 91.6,21.8" fill="none" stroke="#c0708e" stroke-width="1.3" stroke-linecap="round" opacity="0.7" filter="url(#b1)"/>
<path d="M41.1,25.6 C42.0,26.4 44.2,30.0 46.4,30.2 C48.7,30.5 51.9,28.4 54.9,27.2 C57.8,25.9 62.5,23.4 64.0,22.6" fill="none" stroke="#3a2a2a" stroke-width="1.6" stroke-linecap="round" opacity="0.85" filter="url(#b1)"/>
<path d="M35.0,37.1 C36.3,37.4 39.8,38.7 42.6,38.9 C45.4,39.1 49.1,38.2 51.8,38.3 C54.5,38.5 57.5,39.6 58.7,39.9" fill="none" stroke="#3a2a2a" stroke-width="1.6" stroke-linecap="round" opacity="0.85" filter="url(#b1)"/>
<path d="M59.8,40.2 C59.7,41.3 62.0,44.0 59.4,47.0 C56.8,50.1 47.3,54.9 44.2,58.5 C41.0,62.1 40.3,66.5 40.8,68.5 C41.3,70.4 43.8,71.1 47.2,70.0 C50.6,68.8 56.6,62.6 61.0,61.6 C65.3,60.6 69.9,64.9 73.2,63.9 C76.5,62.8 79.1,58.6 80.9,55.5 C82.6,52.3 83.4,46.5 83.9,44.8" fill="none" stroke="#7a3a5a" stroke-width="1.1" stroke-linecap="round" opacity="0.75" filter="url(#b1)"/>
<path d="M29.2,37.4 C28.9,40.4 29.0,52.7 27.6,55.5 C26.3,58.2 23.8,56.0 21.2,53.9 C18.6,51.9 13.9,46.3 12.0,43.2 C10.2,40.2 10.5,36.9 10.2,35.6" fill="none" stroke="#d26a8a" stroke-width="1.1" stroke-linecap="round" opacity="0.7" filter="url(#b1)"/>
<path d="M30.4,142.6 C29.9,139.8 38.3,133.2 44.2,128.8 C50.0,124.5 60.2,118.7 65.6,116.6 C70.9,114.6 73.7,114.1 76.3,116.6 C78.8,119.2 78.3,126.8 80.9,131.9 C83.4,137.0 93.3,144.5 91.6,147.2 C89.8,149.9 77.5,148.2 70.1,148.0 C62.8,147.7 53.8,146.6 47.2,145.7 C40.6,144.8 30.9,145.4 30.4,142.6Z" fill="#f6f1f3" opacity="0.95" filter="url(#b1)"/>
<path d="M30.1,142.6 C32.4,140.3 38.2,133.2 44.2,128.8 C50.1,124.5 60.7,118.7 65.6,116.6 C70.4,114.6 71.9,116.6 73.2,116.6" fill="none" stroke="#dc8aa8" stroke-width="1.1" stroke-linecap="round" opacity="0.7" filter="url(#b1)"/>
<path d="M85.4,40.2 C87.2,37.6 93.6,39.1 94.6,43.2 C95.6,47.3 92.6,57.5 91.6,64.6 C90.5,71.8 88.5,77.4 88.5,86.0 C88.5,94.7 90.0,107.4 91.6,116.6 C93.1,125.8 95.6,135.6 97.7,141.1 C99.7,146.6 104.8,148.5 103.8,149.5 C102.8,150.5 95.4,150.1 91.6,147.2 C87.7,144.3 83.7,139.0 80.9,131.9 C78.0,124.8 75.1,113.0 74.7,104.4 C74.4,95.7 77.0,87.6 78.6,79.9 C80.1,72.3 82.8,65.1 83.9,58.5 C85.1,51.9 83.7,42.7 85.4,40.2Z" fill="#e4cbe0" filter="url(#b1)"/>
<path d="M88.5,40.2 C90.0,34.1 95.6,28.9 100.7,26.7 C105.8,24.5 114.0,26.2 119.1,27.2 C124.2,28.1 127.2,30.6 131.3,32.5 C135.4,34.4 140.2,36.3 143.5,38.6 C146.8,40.9 149.7,43.0 151.2,46.3 C152.7,49.6 152.7,55.2 152.7,58.5 C152.7,61.8 150.2,63.9 151.2,66.2 C152.2,68.5 155.0,71.0 158.8,72.3 C162.6,73.6 170.8,71.5 174.1,73.8 C177.4,76.1 178.4,81.5 178.7,86.0 C179.0,90.6 175.6,97.2 175.6,101.3 C175.6,105.4 179.7,108.2 178.7,110.5 C177.7,112.8 173.6,113.8 169.5,115.1 C165.5,116.4 156.3,116.1 154.2,118.1 C152.2,120.2 154.5,125.0 157.3,127.3 C160.1,129.6 168.5,129.6 171.1,131.9 C173.6,134.2 175.4,139.0 172.6,141.1 C169.8,143.2 160.6,143.7 154.2,144.4 C147.9,145.2 140.7,146.7 134.4,145.7 C128.0,144.6 120.9,138.8 116.0,138.0 C111.2,137.3 107.9,139.6 105.3,141.1 C102.8,142.6 102.8,148.7 100.7,147.2 C98.7,145.7 95.1,138.0 93.1,131.9 C91.0,125.8 89.1,118.1 88.5,110.5 C87.9,102.9 88.7,93.9 89.3,86.0 C89.8,78.1 91.7,70.7 91.6,63.1 C91.4,55.5 87.0,46.2 88.5,40.2Z" fill="#935d97"/>
<path d="M100.7,58.5 C106.3,52.9 123.2,50.9 131.3,52.4 C139.5,53.9 143.3,62.1 149.7,67.7 C156.0,73.3 166.2,79.4 169.5,86.0 C172.8,92.7 173.4,102.3 169.5,107.4 C165.7,112.5 154.2,113.0 146.6,116.6 C139.0,120.2 130.8,128.8 123.7,128.8 C116.5,128.8 108.1,123.8 103.8,116.6 C99.5,109.5 98.2,95.7 97.7,86.0 C97.2,76.4 95.1,64.1 100.7,58.5Z" fill="#854f8e" opacity="0.7" filter="url(#b4)"/>
<path d="M90.0,43.2 C91.9,35.6 99.5,36.9 100.7,40.2 C102.0,43.5 98.7,55.5 97.7,63.1 C96.6,70.7 94.6,77.1 94.6,86.0 C94.6,95.0 98.2,112.5 97.7,116.6 C97.2,120.7 93.0,115.6 91.6,110.5 C90.2,105.4 89.5,97.2 89.3,86.0 C89.0,74.8 88.1,50.9 90.0,43.2Z" fill="#b98dba" opacity="0.8" filter="url(#b2)"/>
<path d="M140.5,135.0 C142.8,132.3 149.1,129.2 154.2,128.8 C159.3,128.5 168.1,130.6 171.1,132.7 C174.1,134.7 175.1,139.1 172.3,141.1 C169.5,143.0 159.5,143.8 154.2,144.4 C148.9,145.1 142.8,146.5 140.5,144.9 C138.2,143.3 138.2,137.6 140.5,135.0Z" fill="#b58ab8" opacity="0.8" filter="url(#b2)"/>
<path d="M109.9,55.5 C112.4,54.9 121.1,53.7 125.2,52.4 C129.3,51.1 132.8,48.6 134.4,47.8" fill="none" stroke="#cf5a86" stroke-width="1.6" stroke-linecap="round" opacity="0.6" filter="url(#b1)"/>
<ellipse cx="93.1" cy="35.6" rx="6.9" ry="5.4" fill="#f1f1f1" filter="url(#b1)"/>
<ellipse cx="125.2" cy="119.7" rx="5.4" ry="1.4" fill="#f6f6f6" transform="rotate(-20 125.2 119.7)"/>
<path d="M131.3,34.1 C132.6,33.3 140.5,33.3 143.5,34.4 C146.6,35.4 149.4,38.9 149.7,40.2 C149.9,41.4 147.4,42.0 145.1,41.7 C142.8,41.4 138.2,39.9 135.9,38.6 C133.6,37.4 130.0,34.8 131.3,34.1Z" fill="#f1f1f1" opacity="0.9" filter="url(#b1)"/>
<path d="M148.1,33.3 C149.1,30.9 154.0,31.8 158.8,31.0 C163.7,30.2 172.6,30.2 177.2,28.2 C181.8,26.3 183.9,20.7 186.3,19.5 C188.8,18.3 191.1,17.6 191.7,21.1 C192.3,24.5 191.1,34.7 189.7,40.2 C188.3,45.6 185.8,50.1 183.3,53.9 C180.8,57.8 177.7,62.1 174.9,63.1 C172.1,64.1 169.4,62.8 166.5,60.0 C163.5,57.2 159.6,48.7 157.3,46.3 C155.0,43.9 154.2,47.7 152.7,45.5 C151.2,43.4 147.1,35.7 148.1,33.3Z" fill="#8f5a96"/>
<ellipse cx="177.9" cy="44.4" rx="3.4" ry="1.1" fill="#f4f4f4" transform="rotate(-20 177.9 44.4)"/>
<path d="M152.7,32.5 C153.5,30.2 157.4,29.7 158.1,31.8 C158.7,33.8 157.3,42.5 156.5,44.8 C155.8,47.0 154.1,47.6 153.5,45.5 C152.8,43.5 151.9,34.8 152.7,32.5Z" fill="#f1f1f1" opacity="0.6" filter="url(#b1)"/></g>
</svg>
<rect x="890.3" y="1167.7" width="260.7" height="155.1" fill="none" stroke="#000" stroke-width="1.5"/>
<circle cx="1132.6" cy="1185.1" r="12.9" fill="#2a00d5"/>
<svg x="890.3" y="1412.7" width="260.7" height="155.1" viewBox="0 0 260.7 155.1" overflow="hidden">
<rect width="260.7" height="155.1" fill="#f8f8f8"/>
<g filter="url(#gray)" opacity="0.62"><rect x="0" y="0" width="261" height="11" fill="url(#slide4)" opacity="0.9"/>
<path d="M0.6,13.9 C14.7,13.5 56.0,12.1 85.4,11.4 C114.9,10.7 148.1,10.2 177.2,9.6 C206.2,9.0 246.0,8.3 259.7,8.1" fill="none" stroke="#555" stroke-width="0.9" stroke-linecap="round" opacity="0.85"/>
<rect x="20" y="14" width="7" height="142" fill="#fff" opacity="0.12" filter="url(#b1)"/>
<rect x="36" y="14" width="7" height="142" fill="#fff" opacity="0.12" filter="url(#b1)"/>
<rect x="52" y="14" width="7" height="142" fill="#fff" opacity="0.12" filter="url(#b1)"/>
<rect x="68" y="14" width="7" height="142" fill="#fff" opacity="0.12" filter="url(#b1)"/>
<rect x="84" y="14" width="7" height="142" fill="#fff" opacity="0.12" filter="url(#b1)"/>
<rect x="100" y="14" width="7" height="142" fill="#fff" opacity="0.12" filter="url(#b1)"/>
<rect x="116" y="14" width="7" height="142" fill="#fff" opacity="0.12" filter="url(#b1)"/>
<rect x="132" y="14" width="7" height="142" fill="#fff" opacity="0.12" filter="url(#b1)"/>
<rect x="148" y="14" width="7" height="142" fill="#fff" opacity="0.12" filter="url(#b1)"/>
<rect x="164" y="14" width="7" height="142" fill="#fff" opacity="0.12" filter="url(#b1)"/>
<rect x="180" y="14" width="7" height="142" fill="#fff" opacity="0.12" filter="url(#b1)"/>
<rect x="196" y="14" width="7" height="142" fill="#fff" opacity="0.12" filter="url(#b1)"/>
<rect x="212" y="14" width="7" height="142" fill="#fff" opacity="0.12" filter="url(#b1)"/>
<rect x="228" y="14" width="7" height="142" fill="#fff" opacity="0.12" filter="url(#b1)"/>
<rect x="244" y="14" width="7" height="142" fill="#fff" opacity="0.12" filter="url(#b1)"/><g filter="url(#rough2)"><path d="M10.5,34.1 C12.6,31.6 19.2,29.8 24.3,28.2 C29.4,26.7 37.0,24.5 41.1,24.9 C45.2,25.2 44.9,30.7 48.7,30.2 C52.6,29.8 59.4,24.2 64.0,22.1 C68.6,20.1 71.7,18.0 76.3,18.0 C80.9,17.9 87.5,20.3 91.6,21.8 C95.6,23.4 101.2,24.1 100.7,27.2 C100.2,30.2 91.4,35.5 88.5,40.2 C85.6,44.9 85.2,51.4 83.1,55.5 C81.1,59.5 80.0,63.6 76.3,64.6 C72.6,65.7 65.8,60.7 61.0,61.6 C56.1,62.5 50.5,69.0 47.2,70.0 C43.9,71.0 41.6,69.6 41.1,67.7 C40.6,65.8 41.1,62.0 44.2,58.5 C47.2,55.1 56.8,50.1 59.4,47.0 C62.0,44.0 63.1,41.6 59.8,40.2 C56.4,38.8 44.7,39.1 39.6,38.6 C34.5,38.2 31.2,34.6 29.2,37.4 C27.2,40.2 29.0,52.7 27.6,55.5 C26.3,58.2 23.8,56.0 21.2,53.9 C18.6,51.9 13.8,46.5 12.0,43.2 C10.3,39.9 8.5,36.5 10.5,34.1Z" fill="#f8f3f5"/>
<path d="M10.5,34.1 C12.8,33.1 19.2,29.8 24.3,28.2 C29.4,26.7 37.0,24.5 41.1,24.9 C45.2,25.2 44.9,30.7 48.7,30.2 C52.6,29.8 59.4,24.2 64.0,22.1 C68.6,20.1 71.7,18.0 76.3,18.0 C80.9,17.9 89.0,21.2 91.6,21.8" fill="none" stroke="#c0708e" stroke-width="1.3" stroke-linecap="round" opacity="0.7" filter="url(#b1)"/>
<path d="M41.1,25.6 C42.0,26.4 44.2,30.0 46.4,30.2 C48.7,30.5 51.9,28.4 54.9,27.2 C57.8,25.9 62.5,23.4 64.0,22.6" fill="none" stroke="#3a2a2a" stroke-width="1.6" stroke-linecap="round" opacity="0.85" filter="url(#b1)"/>
<path d="M35.0,37.1 C36.3,37.4 39.8,38.7 42.6,38.9 C45.4,39.1 49.1,38.2 51.8,38.3 C54.5,38.5 57.5,39.6 58.7,39.9" fill="none" stroke="#3a2a2a" stroke-width="1.6" stroke-linecap="round" opacity="0.85" filter="url(#b1)"/>
<path d="M59.8,40.2 C59.7,41.3 62.0,44.0 59.4,47.0 C56.8,50.1 47.3,54.9 44.2,58.5 C41.0,62.1 40.3,66.5 40.8,68.5 C41.3,70.4 43.8,71.1 47.2,70.0 C50.6,68.8 56.6,62.6 61.0,61.6 C65.3,60.6 69.9,64.9 73.2,63.9 C76.5,62.8 79.1,58.6 80.9,55.5 C82.6,52.3 83.4,46.5 83.9,44.8" fill="none" stroke="#7a3a5a" stroke-width="1.1" stroke-linecap="round" opacity="0.75" filter="url(#b1)"/>
<path d="M29.2,37.4 C28.9,40.4 29.0,52.7 27.6,55.5 C26.3,58.2 23.8,56.0 21.2,53.9 C18.6,51.9 13.9,46.3 12.0,43.2 C10.2,40.2 10.5,36.9 10.2,35.6" fill="none" stroke="#d26a8a" stroke-width="1.1" stroke-linecap="round" opacity="0.7" filter="url(#b1)"/>
<path d="M30.4,142.6 C29.9,139.8 38.3,133.2 44.2,128.8 C50.0,124.5 60.2,118.7 65.6,116.6 C70.9,114.6 73.7,114.1 76.3,116.6 C78.8,119.2 78.3,126.8 80.9,131.9 C83.4,137.0 93.3,144.5 91.6,147.2 C89.8,149.9 77.5,148.2 70.1,148.0 C62.8,147.7 53.8,146.6 47.2,145.7 C40.6,144.8 30.9,145.4 30.4,142.6Z" fill="#f6f1f3" opacity="0.95" filter="url(#b1)"/>
<path d="M30.1,142.6 C32.4,140.3 38.2,133.2 44.2,128.8 C50.1,124.5 60.7,118.7 65.6,116.6 C70.4,114.6 71.9,116.6 73.2,116.6" fill="none" stroke="#dc8aa8" stroke-width="1.1" stroke-linecap="round" opacity="0.7" filter="url(#b1)"/>
<path d="M85.4,40.2 C87.2,37.6 93.6,39.1 94.6,43.2 C95.6,47.3 92.6,57.5 91.6,64.6 C90.5,71.8 88.5,77.4 88.5,86.0 C88.5,94.7 90.0,107.4 91.6,116.6 C93.1,125.8 95.6,135.6 97.7,141.1 C99.7,146.6 104.8,148.5 103.8,149.5 C102.8,150.5 95.4,150.1 91.6,147.2 C87.7,144.3 83.7,139.0 80.9,131.9 C78.0,124.8 75.1,113.0 74.7,104.4 C74.4,95.7 77.0,87.6 78.6,79.9 C80.1,72.3 82.8,65.1 83.9,58.5 C85.1,51.9 83.7,42.7 85.4,40.2Z" fill="#e4cbe0" filter="url(#b1)"/>
<path d="M88.5,40.2 C90.0,34.1 95.6,28.9 100.7,26.7 C105.8,24.5 114.0,26.2 119.1,27.2 C124.2,28.1 127.2,30.6 131.3,32.5 C135.4,34.4 140.2,36.3 143.5,38.6 C146.8,40.9 149.7,43.0 151.2,46.3 C152.7,49.6 152.7,55.2 152.7,58.5 C152.7,61.8 150.2,63.9 151.2,66.2 C152.2,68.5 155.0,71.0 158.8,72.3 C162.6,73.6 170.8,71.5 174.1,73.8 C177.4,76.1 178.4,81.5 178.7,86.0 C179.0,90.6 175.6,97.2 175.6,101.3 C175.6,105.4 179.7,108.2 178.7,110.5 C177.7,112.8 173.6,113.8 169.5,115.1 C165.5,116.4 156.3,116.1 154.2,118.1 C152.2,120.2 154.5,125.0 157.3,127.3 C160.1,129.6 168.5,129.6 171.1,131.9 C173.6,134.2 175.4,139.0 172.6,141.1 C169.8,143.2 160.6,143.7 154.2,144.4 C147.9,145.2 140.7,146.7 134.4,145.7 C128.0,144.6 120.9,138.8 116.0,138.0 C111.2,137.3 107.9,139.6 105.3,141.1 C102.8,142.6 102.8,148.7 100.7,147.2 C98.7,145.7 95.1,138.0 93.1,131.9 C91.0,125.8 89.1,118.1 88.5,110.5 C87.9,102.9 88.7,93.9 89.3,86.0 C89.8,78.1 91.7,70.7 91.6,63.1 C91.4,55.5 87.0,46.2 88.5,40.2Z" fill="#935d97"/>
<path d="M100.7,58.5 C106.3,52.9 123.2,50.9 131.3,52.4 C139.5,53.9 143.3,62.1 149.7,67.7 C156.0,73.3 166.2,79.4 169.5,86.0 C172.8,92.7 173.4,102.3 169.5,107.4 C165.7,112.5 154.2,113.0 146.6,116.6 C139.0,120.2 130.8,128.8 123.7,128.8 C116.5,128.8 108.1,123.8 103.8,116.6 C99.5,109.5 98.2,95.7 97.7,86.0 C97.2,76.4 95.1,64.1 100.7,58.5Z" fill="#854f8e" opacity="0.7" filter="url(#b4)"/>
<path d="M90.0,43.2 C91.9,35.6 99.5,36.9 100.7,40.2 C102.0,43.5 98.7,55.5 97.7,63.1 C96.6,70.7 94.6,77.1 94.6,86.0 C94.6,95.0 98.2,112.5 97.7,116.6 C97.2,120.7 93.0,115.6 91.6,110.5 C90.2,105.4 89.5,97.2 89.3,86.0 C89.0,74.8 88.1,50.9 90.0,43.2Z" fill="#b98dba" opacity="0.8" filter="url(#b2)"/>
<path d="M140.5,135.0 C142.8,132.3 149.1,129.2 154.2,128.8 C159.3,128.5 168.1,130.6 171.1,132.7 C174.1,134.7 175.1,139.1 172.3,141.1 C169.5,143.0 159.5,143.8 154.2,144.4 C148.9,145.1 142.8,146.5 140.5,144.9 C138.2,143.3 138.2,137.6 140.5,135.0Z" fill="#b58ab8" opacity="0.8" filter="url(#b2)"/>
<path d="M109.9,55.5 C112.4,54.9 121.1,53.7 125.2,52.4 C129.3,51.1 132.8,48.6 134.4,47.8" fill="none" stroke="#cf5a86" stroke-width="1.6" stroke-linecap="round" opacity="0.6" filter="url(#b1)"/>
<ellipse cx="93.1" cy="35.6" rx="6.9" ry="5.4" fill="#f1f1f1" filter="url(#b1)"/>
<ellipse cx="125.2" cy="119.7" rx="5.4" ry="1.4" fill="#f6f6f6" transform="rotate(-20 125.2 119.7)"/>
<path d="M131.3,34.1 C132.6,33.3 140.5,33.3 143.5,34.4 C146.6,35.4 149.4,38.9 149.7,40.2 C149.9,41.4 147.4,42.0 145.1,41.7 C142.8,41.4 138.2,39.9 135.9,38.6 C133.6,37.4 130.0,34.8 131.3,34.1Z" fill="#f1f1f1" opacity="0.9" filter="url(#b1)"/>
<path d="M148.1,33.3 C149.1,30.9 154.0,31.8 158.8,31.0 C163.7,30.2 172.6,30.2 177.2,28.2 C181.8,26.3 183.9,20.7 186.3,19.5 C188.8,18.3 191.1,17.6 191.7,21.1 C192.3,24.5 191.1,34.7 189.7,40.2 C188.3,45.6 185.8,50.1 183.3,53.9 C180.8,57.8 177.7,62.1 174.9,63.1 C172.1,64.1 169.4,62.8 166.5,60.0 C163.5,57.2 159.6,48.7 157.3,46.3 C155.0,43.9 154.2,47.7 152.7,45.5 C151.2,43.4 147.1,35.7 148.1,33.3Z" fill="#8f5a96"/>
<ellipse cx="177.9" cy="44.4" rx="3.4" ry="1.1" fill="#f4f4f4" transform="rotate(-20 177.9 44.4)"/>
<path d="M152.7,32.5 C153.5,30.2 157.4,29.7 158.1,31.8 C158.7,33.8 157.3,42.5 156.5,44.8 C155.8,47.0 154.1,47.6 153.5,45.5 C152.8,43.5 151.9,34.8 152.7,32.5Z" fill="#f1f1f1" opacity="0.6" filter="url(#b1)"/></g></g>
<g clip-path="url(#pm3)">
<rect width="260.7" height="155.1" fill="#5a00b0"/>
<ellipse cx="120.6" cy="63.1" rx="34.8" ry="16.1" fill="url(#rg2c00d8)" opacity="0.95"/>
<ellipse cx="131.3" cy="81.5" rx="26.8" ry="18.7" fill="url(#rg3000d4)" opacity="0.9"/>
<ellipse cx="146.6" cy="102.9" rx="18.7" ry="18.7" fill="url(#rg2c00d8)" opacity="0.85"/>
<ellipse cx="113.0" cy="113.6" rx="21.4" ry="13.4" fill="url(#rg3000d4)" opacity="0.85"/>
<ellipse cx="131.3" cy="130.4" rx="21.4" ry="13.4" fill="url(#rg3400d0)" opacity="0.8"/>
<ellipse cx="174.1" cy="46.3" rx="21.4" ry="21.4" fill="url(#rg4800c4)" opacity="0.6"/>
<ellipse cx="91.6" cy="86.0" rx="14.7" ry="32.1" fill="url(#rgb4005a)" opacity="0.9"/>
<ellipse cx="99.2" cy="131.9" rx="26.8" ry="18.7" fill="url(#rgbc0054)" opacity="0.9"/>
<ellipse cx="135.9" cy="98.3" rx="12.0" ry="16.1" fill="url(#rgb80058)" opacity="0.85"/>
<ellipse cx="174.1" cy="109.0" rx="13.4" ry="6.7" fill="url(#rgc4004c)" opacity="0.9"/>
<ellipse cx="134.4" cy="55.5" rx="18.7" ry="13.4" fill="url(#rga00068)" opacity="0.7"/>
<ellipse cx="158.8" cy="104.4" rx="10.7" ry="16.1" fill="url(#rga00068)" opacity="0.6"/>
<ellipse cx="116.0" cy="93.7" rx="16.1" ry="10.7" fill="url(#rg980070)" opacity="0.5"/>
</g>
</svg>
<rect x="890.3" y="1412.7" width="260.7" height="155.1" fill="none" stroke="#000" stroke-width="1.5"/>
<svg x="1171.2" y="1157.2" width="260.7" height="169.0" viewBox="0 0 260.7 169.0" overflow="hidden">
<rect width="260.7" height="169.0" fill="#f3f3f3"/>
<g filter="url(#rough3)"><path d="M3.0,131.4 C3.7,124.8 4.5,113.6 7.6,106.9 C10.6,100.3 16.0,95.2 21.3,91.7 C26.7,88.1 35.6,86.8 39.7,85.5 C43.7,84.3 43.2,88.1 45.8,84.0 C48.3,79.9 50.4,68.5 55.0,61.1 C59.5,53.7 66.2,46.3 73.3,39.7 C80.4,33.0 92.7,27.4 97.8,21.3 C102.9,15.2 93.2,6.3 103.9,3.0 C114.6,-0.3 145.2,1.4 162.0,1.4 C178.8,1.4 195.1,-0.3 204.8,3.0 C214.5,6.3 216.0,15.7 220.1,21.3 C224.2,26.9 228.7,32.8 229.3,36.6 C229.8,40.4 230.5,43.7 223.1,44.3 C215.8,44.8 197.7,39.7 184.9,39.7 C172.2,39.7 158.2,42.2 146.7,44.3 C135.2,46.3 126.3,47.6 116.1,51.9 C105.9,56.2 95.7,62.1 85.5,70.2 C75.3,78.4 63.1,90.6 55.0,100.8 C46.8,111.0 40.7,120.2 36.6,131.4 C32.5,142.6 34.6,163.0 30.5,168.1 C26.4,173.2 16.7,165.6 12.1,162.0 C7.6,158.4 4.5,151.8 3.0,146.7 C1.4,141.6 2.2,138.0 3.0,131.4Z" fill="#f6eef2" opacity="0.95" filter="url(#b1)"/>
<path d="M119.2,3.0 C119.7,5.3 120.2,12.7 122.2,16.7 C124.3,20.8 127.3,25.1 131.4,27.4 C135.5,29.7 144.1,30.0 146.7,30.5" fill="none" stroke="#e3a8c4" stroke-width="1.5" stroke-linecap="round" opacity="0.6" filter="url(#b1)"/>
<path d="M158.9,3.0 C158.7,5.5 158.9,13.4 157.4,18.3 C155.9,23.1 151.0,29.7 149.8,32.0" fill="none" stroke="#e3a8c4" stroke-width="1.5" stroke-linecap="round" opacity="0.6" filter="url(#b1)"/>
<path d="M174.2,18.3 C176.8,18.0 184.9,17.5 189.5,16.7 C194.1,16.0 199.7,14.2 201.7,13.7" fill="none" stroke="#e3a8c4" stroke-width="1.5" stroke-linecap="round" opacity="0.6" filter="url(#b1)"/>
<path d="M131.4,13.7 L140.6,24.4" fill="none" stroke="#e3a8c4" stroke-width="1.5" stroke-linecap="round" opacity="0.6" filter="url(#b1)"/>
<path d="M201.7,4.5 C201.5,7.3 198.7,18.0 200.2,21.3 C201.7,24.6 209.1,23.9 210.9,24.4" fill="none" stroke="#e3a8c4" stroke-width="1.5" stroke-linecap="round" opacity="0.6" filter="url(#b1)"/>
<path d="M158.9,18.3 C162.0,19.5 171.7,23.9 177.3,25.9 C182.9,27.9 190.0,29.7 192.6,30.5" fill="none" stroke="#e3a8c4" stroke-width="1.5" stroke-linecap="round" opacity="0.6" filter="url(#b1)"/>
<ellipse cx="100.8" cy="24.4" rx="1.5" ry="1.1" fill="#e06a6a" opacity="0.6" filter="url(#b1)"/>
<ellipse cx="105.4" cy="30.5" rx="1.5" ry="1.1" fill="#e06a6a" opacity="0.6" filter="url(#b1)"/>
<ellipse cx="79.4" cy="33.6" rx="1.5" ry="1.1" fill="#e06a6a" opacity="0.6" filter="url(#b1)"/>
<ellipse cx="21.3" cy="94.7" rx="1.5" ry="1.1" fill="#e06a6a" opacity="0.6" filter="url(#b1)"/>
<ellipse cx="32.0" cy="103.9" rx="1.5" ry="1.1" fill="#e06a6a" opacity="0.6" filter="url(#b1)"/>
<ellipse cx="7.6" cy="110.0" rx="1.5" ry="1.1" fill="#e06a6a" opacity="0.6" filter="url(#b1)"/>
<ellipse cx="9.1" cy="136.0" rx="1.5" ry="1.1" fill="#e06a6a" opacity="0.6" filter="url(#b1)"/>
<ellipse cx="13.7" cy="158.9" rx="1.5" ry="1.1" fill="#e06a6a" opacity="0.6" filter="url(#b1)"/>
<path d="M16.7,143.6 C18.8,136.5 25.9,121.7 30.5,113.1 C35.1,104.4 40.2,97.3 44.3,91.7 C48.3,86.0 51.4,83.8 55.0,79.4 C58.5,75.1 62.1,70.2 65.7,65.7 C69.2,61.1 72.0,54.7 76.4,51.9 C80.7,49.1 85.0,50.1 91.7,48.8 C98.3,47.6 106.9,45.8 116.1,44.3 C125.3,42.7 139.1,41.6 146.7,39.7 C154.3,37.8 155.6,33.4 162.0,32.8 C168.4,32.2 177.3,34.6 184.9,35.8 C192.6,37.1 202.0,40.9 207.9,40.4 C213.7,39.9 216.5,33.4 220.1,32.8 C223.7,32.2 226.2,32.4 229.3,36.6 C232.3,40.8 235.1,48.6 238.4,58.0 C241.7,67.4 249.6,88.3 249.1,93.2 C248.6,98.1 238.2,86.1 235.4,87.4 C232.6,88.6 232.1,96.0 232.3,100.8 C232.6,105.6 236.4,111.5 236.9,116.1 C237.4,120.7 233.6,125.8 235.4,128.3 C237.2,130.9 245.1,128.9 247.6,131.4 C250.2,134.0 251.7,139.6 250.7,143.6 C249.6,147.7 248.6,152.8 241.5,155.9 C234.4,158.9 217.3,161.5 207.9,162.0 C198.4,162.5 191.3,161.7 184.9,158.9 C178.5,156.1 176.0,148.7 169.6,145.2 C163.3,141.6 153.1,141.0 146.7,137.5 C140.3,134.1 135.6,128.9 131.4,124.5 C127.2,120.2 123.1,110.4 121.5,111.5 C119.8,112.7 120.6,125.0 121.5,131.4 C122.4,137.8 125.4,143.6 126.8,149.8 C128.2,155.9 145.9,165.3 129.9,168.4 C113.8,171.5 49.1,170.5 30.5,168.4 C11.9,166.3 20.6,160.0 18.3,155.9 C16.0,151.7 14.7,150.8 16.7,143.6Z" fill="#d58db2"/>
<path d="M96.2,58.0 C99.3,55.3 109.2,51.9 116.1,49.6 C123.0,47.3 132.4,43.6 137.5,44.3 C142.6,44.9 146.2,49.9 146.7,53.4 C147.2,57.0 144.1,62.3 140.6,65.7 C137.0,69.0 130.9,72.5 125.3,73.3 C119.7,74.1 111.5,71.5 106.9,70.2 C102.4,69.0 99.6,67.7 97.8,65.7 C96.0,63.6 93.2,60.7 96.2,58.0Z" fill="#b0588f" opacity="0.95" filter="url(#b3)"/>
<path d="M146.7,41.2 C149.2,38.3 156.9,35.3 162.0,34.3 C167.1,33.3 174.0,33.2 177.3,35.1 C180.6,37.0 182.4,42.5 181.9,45.8 C181.4,49.1 178.5,52.9 174.2,55.0 C169.9,57.0 160.5,58.5 155.9,58.0 C151.3,57.5 148.2,54.7 146.7,51.9 C145.2,49.1 144.1,44.1 146.7,41.2Z" fill="#b25e94" opacity="0.95" filter="url(#b3)"/>
<path d="M181.9,44.3 C184.4,40.2 188.2,38.9 192.6,38.1 C196.9,37.4 203.3,40.6 207.9,39.7 C212.4,38.8 216.5,33.0 220.1,32.8 C223.7,32.5 226.2,33.7 229.3,38.1 C232.3,42.6 235.9,51.6 238.4,59.5 C241.0,67.4 245.6,81.5 244.5,85.5 C243.5,89.6 236.4,86.0 232.3,84.0 C228.2,82.0 224.2,75.6 220.1,73.3 C216.0,71.0 212.4,70.2 207.9,70.2 C203.3,70.2 197.7,74.6 192.6,73.3 C187.5,72.0 179.1,67.4 177.3,62.6 C175.5,57.8 179.3,48.3 181.9,44.3Z" fill="#ae568e" opacity="0.95" filter="url(#b3)"/>
<path d="M91.7,76.4 C94.7,73.1 104.4,71.3 110.0,71.8 C115.6,72.3 122.2,75.9 125.3,79.4 C128.3,83.0 129.4,88.6 128.3,93.2 C127.3,97.8 123.3,105.7 119.2,106.9 C115.1,108.2 108.5,103.4 103.9,100.8 C99.3,98.3 93.7,95.7 91.7,91.7 C89.6,87.6 88.6,79.7 91.7,76.4Z" fill="#a8538a" opacity="0.9" filter="url(#b3)"/>
<path d="M125.3,88.6 C128.9,85.3 140.6,83.5 146.7,84.0 C152.8,84.5 158.9,87.8 162.0,91.7 C165.0,95.5 166.6,102.9 165.0,106.9 C163.5,111.0 157.9,115.1 152.8,116.1 C147.7,117.1 139.1,115.1 134.5,113.1 C129.9,111.0 126.8,108.0 125.3,103.9 C123.8,99.8 121.7,91.9 125.3,88.6Z" fill="#ae568e" opacity="0.9" filter="url(#b3)"/>
<path d="M165.0,73.3 C169.6,71.8 182.4,76.4 189.5,76.4 C196.6,76.4 201.7,70.8 207.9,73.3 C214.0,75.9 222.1,85.5 226.2,91.7 C230.3,97.8 231.3,103.9 232.3,110.0 C233.3,116.1 229.8,124.5 232.3,128.3 C234.9,132.2 244.7,130.4 247.6,132.9 C250.5,135.5 250.9,139.9 249.9,143.6 C248.9,147.3 248.5,152.2 241.5,155.1 C234.5,158.0 217.3,160.7 207.9,161.2 C198.4,161.7 191.0,160.8 184.9,158.2 C178.8,155.5 172.4,149.6 171.2,145.2 C169.9,140.7 174.7,136.8 177.3,131.4 C179.8,126.1 186.4,118.7 186.4,113.1 C186.4,107.5 181.4,102.4 177.3,97.8 C173.2,93.2 164.0,89.6 162.0,85.5 C159.9,81.5 160.5,74.8 165.0,73.3Z" fill="#b05a92" opacity="0.95" filter="url(#b3)"/>
<path d="M33.6,113.1 C36.1,108.5 41.2,102.9 45.8,100.8 C50.4,98.8 57.8,98.5 61.1,100.8 C64.4,103.1 66.7,110.0 65.7,114.6 C64.6,119.2 59.3,125.5 55.0,128.3 C50.6,131.2 43.7,131.4 39.7,131.4 C35.6,131.4 31.5,131.4 30.5,128.3 C29.5,125.3 31.0,117.6 33.6,113.1Z" fill="#a8548c" opacity="0.95" filter="url(#b3)"/>
<path d="M16.7,140.6 C17.0,137.3 20.8,136.5 22.9,137.5 C24.9,138.5 27.9,142.9 29.0,146.7 C30.0,150.5 30.2,158.7 29.0,160.5 C27.7,162.2 23.4,160.7 21.3,157.4 C19.3,154.1 16.5,143.9 16.7,140.6Z" fill="#9c4a84" opacity="0.95" filter="url(#b1)"/>
<path d="M30.5,131.4 C32.8,129.4 39.7,132.9 44.3,134.5 C48.8,136.0 54.2,137.3 58.0,140.6 C61.8,143.9 66.7,149.8 67.2,154.3 C67.7,158.9 66.9,165.8 61.1,168.1 C55.2,170.4 37.1,171.7 32.0,168.1 C26.9,164.5 30.7,152.8 30.5,146.7 C30.2,140.6 28.2,133.4 30.5,131.4Z" fill="#ae568e" opacity="0.9" filter="url(#b3)"/>
<path d="M85.5,128.3 C90.1,124.3 98.8,121.7 103.9,122.2 C109.0,122.7 113.6,127.3 116.1,131.4 C118.7,135.5 117.6,142.6 119.2,146.7 C120.7,150.8 123.8,152.3 125.3,155.9 C126.8,159.4 137.5,166.1 128.3,168.1 C119.2,170.1 78.9,171.7 70.2,168.1 C61.6,164.5 73.8,153.3 76.4,146.7 C78.9,140.1 81.0,132.4 85.5,128.3Z" fill="#aa568e" opacity="0.95" filter="url(#b3)"/>
<path d="M131.4,123.8 C133.4,122.7 141.6,124.0 146.7,125.3 C151.8,126.6 158.2,128.2 162.0,131.4 C165.8,134.6 171.9,143.3 169.6,144.4 C167.3,145.5 154.1,140.5 148.2,138.3 C142.4,136.1 137.3,133.8 134.5,131.4 C131.7,129.0 129.4,124.8 131.4,123.8Z" fill="#d67aa6" opacity="0.9" filter="url(#b1)"/>
<path d="M146.7,58.0 C149.8,54.4 156.9,53.9 162.0,55.0 C167.1,56.0 175.2,60.1 177.3,64.1 C179.3,68.2 177.3,75.9 174.2,79.4 C171.2,83.0 164.0,86.0 158.9,85.5 C153.8,85.0 145.7,81.0 143.6,76.4 C141.6,71.8 143.6,61.6 146.7,58.0Z" fill="#b25c92" opacity="0.85" filter="url(#b3)"/>
<path d="M154.3,116.1 C156.6,112.5 164.5,110.0 169.6,110.0 C174.7,110.0 182.6,112.5 184.9,116.1 C187.2,119.7 185.9,127.3 183.4,131.4 C180.8,135.5 174.2,140.6 169.6,140.6 C165.0,140.6 158.4,135.5 155.9,131.4 C153.3,127.3 152.0,119.7 154.3,116.1Z" fill="#b05a90" opacity="0.85" filter="url(#b3)"/>
<path d="M100.8,100.8 C103.4,97.3 112.8,101.3 116.1,103.9 C119.4,106.4 121.2,112.0 120.7,116.1 C120.2,120.2 116.4,126.8 113.1,128.3 C109.7,129.9 102.9,129.9 100.8,125.3 C98.8,120.7 98.3,104.4 100.8,100.8Z" fill="#ae588e" opacity="0.85" filter="url(#b3)"/>
<path d="M58.0,79.4 C61.1,76.4 68.7,73.3 73.3,73.3 C77.9,73.3 84.0,76.4 85.5,79.4 C87.1,82.5 85.5,88.6 82.5,91.7 C79.4,94.7 71.8,97.8 67.2,97.8 C62.6,97.8 56.5,94.7 55.0,91.7 C53.4,88.6 55.0,82.5 58.0,79.4Z" fill="#b86a9c" opacity="0.7" filter="url(#b3)"/>
<path d="M73.3,48.8 C74.7,47.1 79.7,45.3 82.5,45.8 C85.3,46.3 89.1,49.6 90.1,51.9 C91.1,54.2 90.4,57.8 88.6,59.5 C86.8,61.3 81.8,63.1 79.4,62.6 C77.0,62.1 75.1,58.8 74.1,56.5 C73.1,54.2 71.9,50.6 73.3,48.8Z" fill="#7d5590" opacity="0.95" filter="url(#b1)"/>
<path d="M67.2,91.7 C69.7,87.1 80.4,84.0 85.5,85.5 C90.6,87.1 96.7,95.7 97.8,100.8 C98.8,105.9 94.7,111.0 91.7,116.1 C88.6,121.2 83.8,128.9 79.4,131.4 C75.1,134.0 67.2,134.5 65.7,131.4 C64.1,128.3 70.0,119.7 70.2,113.1 C70.5,106.4 64.6,96.2 67.2,91.7Z" fill="#e6a8c4" opacity="0.6" filter="url(#b3)"/>
<path d="M207.9,79.4 C209.4,75.3 219.1,66.2 223.1,67.2 C227.2,68.2 231.8,79.4 232.3,85.5 C232.8,91.7 229.3,102.9 226.2,103.9 C223.1,104.9 217.0,95.7 214.0,91.7 C210.9,87.6 206.3,83.5 207.9,79.4Z" fill="#e6a8c4" opacity="0.6" filter="url(#b3)"/>
<path d="M177.3,110.0 C179.1,107.7 190.0,104.9 192.6,106.9 C195.1,109.0 194.3,119.9 192.6,122.2 C190.8,124.5 184.4,122.7 181.9,120.7 C179.3,118.7 175.5,112.3 177.3,110.0Z" fill="#ecc4d8" opacity="0.6" filter="url(#b2)"/>
<path d="M162.0,67.2 C164.5,68.7 172.2,74.3 177.3,76.4 C182.4,78.4 190.0,78.9 192.6,79.4" fill="none" stroke="#e8709a" stroke-width="2.0" stroke-linecap="round" opacity="0.5" filter="url(#b1)"/>
<ellipse cx="62.6" cy="64.1" rx="6.1" ry="6.9" fill="#f0dfe8" opacity="0.8" filter="url(#b2)"/>
<ellipse cx="58.0" cy="110.0" rx="3.4" ry="2.8" fill="#f0dce8" opacity="0.7" filter="url(#b1)"/>
<ellipse cx="93.2" cy="85.5" rx="3.1" ry="2.8" fill="#eed6e4" opacity="0.7" filter="url(#b1)"/>
<ellipse cx="184.9" cy="165.8" rx="3.1" ry="2.1" fill="#c8ccd0" opacity="0.9" filter="url(#b2)"/>
<path d="M29.0,27.4 L31.3,22.9" fill="none" stroke="#777" stroke-width="0.8" stroke-linecap="round" opacity="0.8"/></g>
</svg>
<rect x="1171.2" y="1157.2" width="260.7" height="169.0" fill="none" stroke="#000" stroke-width="1.5"/>
<circle cx="1413.8" cy="1174.6" r="12.9" fill="#f2000f"/>
<svg x="1171.2" y="1402.2" width="260.7" height="169.0" viewBox="0 0 260.7 169.0" overflow="hidden">
<rect width="260.7" height="169.0" fill="#f8f8f8"/>
<g filter="url(#gray)" opacity="0.62"><g filter="url(#rough3)"><path d="M3.0,131.4 C3.7,124.8 4.5,113.6 7.6,106.9 C10.6,100.3 16.0,95.2 21.3,91.7 C26.7,88.1 35.6,86.8 39.7,85.5 C43.7,84.3 43.2,88.1 45.8,84.0 C48.3,79.9 50.4,68.5 55.0,61.1 C59.5,53.7 66.2,46.3 73.3,39.7 C80.4,33.0 92.7,27.4 97.8,21.3 C102.9,15.2 93.2,6.3 103.9,3.0 C114.6,-0.3 145.2,1.4 162.0,1.4 C178.8,1.4 195.1,-0.3 204.8,3.0 C214.5,6.3 216.0,15.7 220.1,21.3 C224.2,26.9 228.7,32.8 229.3,36.6 C229.8,40.4 230.5,43.7 223.1,44.3 C215.8,44.8 197.7,39.7 184.9,39.7 C172.2,39.7 158.2,42.2 146.7,44.3 C135.2,46.3 126.3,47.6 116.1,51.9 C105.9,56.2 95.7,62.1 85.5,70.2 C75.3,78.4 63.1,90.6 55.0,100.8 C46.8,111.0 40.7,120.2 36.6,131.4 C32.5,142.6 34.6,163.0 30.5,168.1 C26.4,173.2 16.7,165.6 12.1,162.0 C7.6,158.4 4.5,151.8 3.0,146.7 C1.4,141.6 2.2,138.0 3.0,131.4Z" fill="#f6eef2" opacity="0.95" filter="url(#b1)"/>
<path d="M119.2,3.0 C119.7,5.3 120.2,12.7 122.2,16.7 C124.3,20.8 127.3,25.1 131.4,27.4 C135.5,29.7 144.1,30.0 146.7,30.5" fill="none" stroke="#e3a8c4" stroke-width="1.5" stroke-linecap="round" opacity="0.6" filter="url(#b1)"/>
<path d="M158.9,3.0 C158.7,5.5 158.9,13.4 157.4,18.3 C155.9,23.1 151.0,29.7 149.8,32.0" fill="none" stroke="#e3a8c4" stroke-width="1.5" stroke-linecap="round" opacity="0.6" filter="url(#b1)"/>
<path d="M174.2,18.3 C176.8,18.0 184.9,17.5 189.5,16.7 C194.1,16.0 199.7,14.2 201.7,13.7" fill="none" stroke="#e3a8c4" stroke-width="1.5" stroke-linecap="round" opacity="0.6" filter="url(#b1)"/>
<path d="M131.4,13.7 L140.6,24.4" fill="none" stroke="#e3a8c4" stroke-width="1.5" stroke-linecap="round" opacity="0.6" filter="url(#b1)"/>
<path d="M201.7,4.5 C201.5,7.3 198.7,18.0 200.2,21.3 C201.7,24.6 209.1,23.9 210.9,24.4" fill="none" stroke="#e3a8c4" stroke-width="1.5" stroke-linecap="round" opacity="0.6" filter="url(#b1)"/>
<path d="M158.9,18.3 C162.0,19.5 171.7,23.9 177.3,25.9 C182.9,27.9 190.0,29.7 192.6,30.5" fill="none" stroke="#e3a8c4" stroke-width="1.5" stroke-linecap="round" opacity="0.6" filter="url(#b1)"/>
<ellipse cx="100.8" cy="24.4" rx="1.5" ry="1.1" fill="#e06a6a" opacity="0.6" filter="url(#b1)"/>
<ellipse cx="105.4" cy="30.5" rx="1.5" ry="1.1" fill="#e06a6a" opacity="0.6" filter="url(#b1)"/>
<ellipse cx="79.4" cy="33.6" rx="1.5" ry="1.1" fill="#e06a6a" opacity="0.6" filter="url(#b1)"/>
<ellipse cx="21.3" cy="94.7" rx="1.5" ry="1.1" fill="#e06a6a" opacity="0.6" filter="url(#b1)"/>
<ellipse cx="32.0" cy="103.9" rx="1.5" ry="1.1" fill="#e06a6a" opacity="0.6" filter="url(#b1)"/>
<ellipse cx="7.6" cy="110.0" rx="1.5" ry="1.1" fill="#e06a6a" opacity="0.6" filter="url(#b1)"/>
<ellipse cx="9.1" cy="136.0" rx="1.5" ry="1.1" fill="#e06a6a" opacity="0.6" filter="url(#b1)"/>
<ellipse cx="13.7" cy="158.9" rx="1.5" ry="1.1" fill="#e06a6a" opacity="0.6" filter="url(#b1)"/>
<path d="M16.7,143.6 C18.8,136.5 25.9,121.7 30.5,113.1 C35.1,104.4 40.2,97.3 44.3,91.7 C48.3,86.0 51.4,83.8 55.0,79.4 C58.5,75.1 62.1,70.2 65.7,65.7 C69.2,61.1 72.0,54.7 76.4,51.9 C80.7,49.1 85.0,50.1 91.7,48.8 C98.3,47.6 106.9,45.8 116.1,44.3 C125.3,42.7 139.1,41.6 146.7,39.7 C154.3,37.8 155.6,33.4 162.0,32.8 C168.4,32.2 177.3,34.6 184.9,35.8 C192.6,37.1 202.0,40.9 207.9,40.4 C213.7,39.9 216.5,33.4 220.1,32.8 C223.7,32.2 226.2,32.4 229.3,36.6 C232.3,40.8 235.1,48.6 238.4,58.0 C241.7,67.4 249.6,88.3 249.1,93.2 C248.6,98.1 238.2,86.1 235.4,87.4 C232.6,88.6 232.1,96.0 232.3,100.8 C232.6,105.6 236.4,111.5 236.9,116.1 C237.4,120.7 233.6,125.8 235.4,128.3 C237.2,130.9 245.1,128.9 247.6,131.4 C250.2,134.0 251.7,139.6 250.7,143.6 C249.6,147.7 248.6,152.8 241.5,155.9 C234.4,158.9 217.3,161.5 207.9,162.0 C198.4,162.5 191.3,161.7 184.9,158.9 C178.5,156.1 176.0,148.7 169.6,145.2 C163.3,141.6 153.1,141.0 146.7,137.5 C140.3,134.1 135.6,128.9 131.4,124.5 C127.2,120.2 123.1,110.4 121.5,111.5 C119.8,112.7 120.6,125.0 121.5,131.4 C122.4,137.8 125.4,143.6 126.8,149.8 C128.2,155.9 145.9,165.3 129.9,168.4 C113.8,171.5 49.1,170.5 30.5,168.4 C11.9,166.3 20.6,160.0 18.3,155.9 C16.0,151.7 14.7,150.8 16.7,143.6Z" fill="#d58db2"/>
<path d="M96.2,58.0 C99.3,55.3 109.2,51.9 116.1,49.6 C123.0,47.3 132.4,43.6 137.5,44.3 C142.6,44.9 146.2,49.9 146.7,53.4 C147.2,57.0 144.1,62.3 140.6,65.7 C137.0,69.0 130.9,72.5 125.3,73.3 C119.7,74.1 111.5,71.5 106.9,70.2 C102.4,69.0 99.6,67.7 97.8,65.7 C96.0,63.6 93.2,60.7 96.2,58.0Z" fill="#b0588f" opacity="0.95" filter="url(#b3)"/>
<path d="M146.7,41.2 C149.2,38.3 156.9,35.3 162.0,34.3 C167.1,33.3 174.0,33.2 177.3,35.1 C180.6,37.0 182.4,42.5 181.9,45.8 C181.4,49.1 178.5,52.9 174.2,55.0 C169.9,57.0 160.5,58.5 155.9,58.0 C151.3,57.5 148.2,54.7 146.7,51.9 C145.2,49.1 144.1,44.1 146.7,41.2Z" fill="#b25e94" opacity="0.95" filter="url(#b3)"/>
<path d="M181.9,44.3 C184.4,40.2 188.2,38.9 192.6,38.1 C196.9,37.4 203.3,40.6 207.9,39.7 C212.4,38.8 216.5,33.0 220.1,32.8 C223.7,32.5 226.2,33.7 229.3,38.1 C232.3,42.6 235.9,51.6 238.4,59.5 C241.0,67.4 245.6,81.5 244.5,85.5 C243.5,89.6 236.4,86.0 232.3,84.0 C228.2,82.0 224.2,75.6 220.1,73.3 C216.0,71.0 212.4,70.2 207.9,70.2 C203.3,70.2 197.7,74.6 192.6,73.3 C187.5,72.0 179.1,67.4 177.3,62.6 C175.5,57.8 179.3,48.3 181.9,44.3Z" fill="#ae568e" opacity="0.95" filter="url(#b3)"/>
<path d="M91.7,76.4 C94.7,73.1 104.4,71.3 110.0,71.8 C115.6,72.3 122.2,75.9 125.3,79.4 C128.3,83.0 129.4,88.6 128.3,93.2 C127.3,97.8 123.3,105.7 119.2,106.9 C115.1,108.2 108.5,103.4 103.9,100.8 C99.3,98.3 93.7,95.7 91.7,91.7 C89.6,87.6 88.6,79.7 91.7,76.4Z" fill="#a8538a" opacity="0.9" filter="url(#b3)"/>
<path d="M125.3,88.6 C128.9,85.3 140.6,83.5 146.7,84.0 C152.8,84.5 158.9,87.8 162.0,91.7 C165.0,95.5 166.6,102.9 165.0,106.9 C163.5,111.0 157.9,115.1 152.8,116.1 C147.7,117.1 139.1,115.1 134.5,113.1 C129.9,111.0 126.8,108.0 125.3,103.9 C123.8,99.8 121.7,91.9 125.3,88.6Z" fill="#ae568e" opacity="0.9" filter="url(#b3)"/>
<path d="M165.0,73.3 C169.6,71.8 182.4,76.4 189.5,76.4 C196.6,76.4 201.7,70.8 207.9,73.3 C214.0,75.9 222.1,85.5 226.2,91.7 C230.3,97.8 231.3,103.9 232.3,110.0 C233.3,116.1 229.8,124.5 232.3,128.3 C234.9,132.2 244.7,130.4 247.6,132.9 C250.5,135.5 250.9,139.9 249.9,143.6 C248.9,147.3 248.5,152.2 241.5,155.1 C234.5,158.0 217.3,160.7 207.9,161.2 C198.4,161.7 191.0,160.8 184.9,158.2 C178.8,155.5 172.4,149.6 171.2,145.2 C169.9,140.7 174.7,136.8 177.3,131.4 C179.8,126.1 186.4,118.7 186.4,113.1 C186.4,107.5 181.4,102.4 177.3,97.8 C173.2,93.2 164.0,89.6 162.0,85.5 C159.9,81.5 160.5,74.8 165.0,73.3Z" fill="#b05a92" opacity="0.95" filter="url(#b3)"/>
<path d="M33.6,113.1 C36.1,108.5 41.2,102.9 45.8,100.8 C50.4,98.8 57.8,98.5 61.1,100.8 C64.4,103.1 66.7,110.0 65.7,114.6 C64.6,119.2 59.3,125.5 55.0,128.3 C50.6,131.2 43.7,131.4 39.7,131.4 C35.6,131.4 31.5,131.4 30.5,128.3 C29.5,125.3 31.0,117.6 33.6,113.1Z" fill="#a8548c" opacity="0.95" filter="url(#b3)"/>
<path d="M16.7,140.6 C17.0,137.3 20.8,136.5 22.9,137.5 C24.9,138.5 27.9,142.9 29.0,146.7 C30.0,150.5 30.2,158.7 29.0,160.5 C27.7,162.2 23.4,160.7 21.3,157.4 C19.3,154.1 16.5,143.9 16.7,140.6Z" fill="#9c4a84" opacity="0.95" filter="url(#b1)"/>
<path d="M30.5,131.4 C32.8,129.4 39.7,132.9 44.3,134.5 C48.8,136.0 54.2,137.3 58.0,140.6 C61.8,143.9 66.7,149.8 67.2,154.3 C67.7,158.9 66.9,165.8 61.1,168.1 C55.2,170.4 37.1,171.7 32.0,168.1 C26.9,164.5 30.7,152.8 30.5,146.7 C30.2,140.6 28.2,133.4 30.5,131.4Z" fill="#ae568e" opacity="0.9" filter="url(#b3)"/>
<path d="M85.5,128.3 C90.1,124.3 98.8,121.7 103.9,122.2 C109.0,122.7 113.6,127.3 116.1,131.4 C118.7,135.5 117.6,142.6 119.2,146.7 C120.7,150.8 123.8,152.3 125.3,155.9 C126.8,159.4 137.5,166.1 128.3,168.1 C119.2,170.1 78.9,171.7 70.2,168.1 C61.6,164.5 73.8,153.3 76.4,146.7 C78.9,140.1 81.0,132.4 85.5,128.3Z" fill="#aa568e" opacity="0.95" filter="url(#b3)"/>
<path d="M131.4,123.8 C133.4,122.7 141.6,124.0 146.7,125.3 C151.8,126.6 158.2,128.2 162.0,131.4 C165.8,134.6 171.9,143.3 169.6,144.4 C167.3,145.5 154.1,140.5 148.2,138.3 C142.4,136.1 137.3,133.8 134.5,131.4 C131.7,129.0 129.4,124.8 131.4,123.8Z" fill="#d67aa6" opacity="0.9" filter="url(#b1)"/>
<path d="M146.7,58.0 C149.8,54.4 156.9,53.9 162.0,55.0 C167.1,56.0 175.2,60.1 177.3,64.1 C179.3,68.2 177.3,75.9 174.2,79.4 C171.2,83.0 164.0,86.0 158.9,85.5 C153.8,85.0 145.7,81.0 143.6,76.4 C141.6,71.8 143.6,61.6 146.7,58.0Z" fill="#b25c92" opacity="0.85" filter="url(#b3)"/>
<path d="M154.3,116.1 C156.6,112.5 164.5,110.0 169.6,110.0 C174.7,110.0 182.6,112.5 184.9,116.1 C187.2,119.7 185.9,127.3 183.4,131.4 C180.8,135.5 174.2,140.6 169.6,140.6 C165.0,140.6 158.4,135.5 155.9,131.4 C153.3,127.3 152.0,119.7 154.3,116.1Z" fill="#b05a90" opacity="0.85" filter="url(#b3)"/>
<path d="M100.8,100.8 C103.4,97.3 112.8,101.3 116.1,103.9 C119.4,106.4 121.2,112.0 120.7,116.1 C120.2,120.2 116.4,126.8 113.1,128.3 C109.7,129.9 102.9,129.9 100.8,125.3 C98.8,120.7 98.3,104.4 100.8,100.8Z" fill="#ae588e" opacity="0.85" filter="url(#b3)"/>
<path d="M58.0,79.4 C61.1,76.4 68.7,73.3 73.3,73.3 C77.9,73.3 84.0,76.4 85.5,79.4 C87.1,82.5 85.5,88.6 82.5,91.7 C79.4,94.7 71.8,97.8 67.2,97.8 C62.6,97.8 56.5,94.7 55.0,91.7 C53.4,88.6 55.0,82.5 58.0,79.4Z" fill="#b86a9c" opacity="0.7" filter="url(#b3)"/>
<path d="M73.3,48.8 C74.7,47.1 79.7,45.3 82.5,45.8 C85.3,46.3 89.1,49.6 90.1,51.9 C91.1,54.2 90.4,57.8 88.6,59.5 C86.8,61.3 81.8,63.1 79.4,62.6 C77.0,62.1 75.1,58.8 74.1,56.5 C73.1,54.2 71.9,50.6 73.3,48.8Z" fill="#7d5590" opacity="0.95" filter="url(#b1)"/>
<path d="M67.2,91.7 C69.7,87.1 80.4,84.0 85.5,85.5 C90.6,87.1 96.7,95.7 97.8,100.8 C98.8,105.9 94.7,111.0 91.7,116.1 C88.6,121.2 83.8,128.9 79.4,131.4 C75.1,134.0 67.2,134.5 65.7,131.4 C64.1,128.3 70.0,119.7 70.2,113.1 C70.5,106.4 64.6,96.2 67.2,91.7Z" fill="#e6a8c4" opacity="0.6" filter="url(#b3)"/>
<path d="M207.9,79.4 C209.4,75.3 219.1,66.2 223.1,67.2 C227.2,68.2 231.8,79.4 232.3,85.5 C232.8,91.7 229.3,102.9 226.2,103.9 C223.1,104.9 217.0,95.7 214.0,91.7 C210.9,87.6 206.3,83.5 207.9,79.4Z" fill="#e6a8c4" opacity="0.6" filter="url(#b3)"/>
<path d="M177.3,110.0 C179.1,107.7 190.0,104.9 192.6,106.9 C195.1,109.0 194.3,119.9 192.6,122.2 C190.8,124.5 184.4,122.7 181.9,120.7 C179.3,118.7 175.5,112.3 177.3,110.0Z" fill="#ecc4d8" opacity="0.6" filter="url(#b2)"/>
<path d="M162.0,67.2 C164.5,68.7 172.2,74.3 177.3,76.4 C182.4,78.4 190.0,78.9 192.6,79.4" fill="none" stroke="#e8709a" stroke-width="2.0" stroke-linecap="round" opacity="0.5" filter="url(#b1)"/>
<ellipse cx="62.6" cy="64.1" rx="6.1" ry="6.9" fill="#f0dfe8" opacity="0.8" filter="url(#b2)"/>
<ellipse cx="58.0" cy="110.0" rx="3.4" ry="2.8" fill="#f0dce8" opacity="0.7" filter="url(#b1)"/>
<ellipse cx="93.2" cy="85.5" rx="3.1" ry="2.8" fill="#eed6e4" opacity="0.7" filter="url(#b1)"/>
<ellipse cx="184.9" cy="165.8" rx="3.1" ry="2.1" fill="#c8ccd0" opacity="0.9" filter="url(#b2)"/>
<path d="M29.0,27.4 L31.3,22.9" fill="none" stroke="#777" stroke-width="0.8" stroke-linecap="round" opacity="0.8"/></g></g>
<g clip-path="url(#pm4)">
<rect width="260.7" height="169.0" fill="#a0005e"/>
<ellipse cx="136.0" cy="29.0" rx="29.4" ry="6.7" fill="url(#rg6000a8)" opacity="0.9"/>
<ellipse cx="110.0" cy="67.2" rx="6.7" ry="21.4" fill="url(#rg6a00a4)" opacity="0.9"/>
<ellipse cx="79.4" cy="93.2" rx="21.4" ry="10.7" fill="url(#rg6a00a4)" opacity="0.85"/>
<ellipse cx="183.4" cy="73.3" rx="16.1" ry="8.0" fill="url(#rg6a00a4)" opacity="0.85"/>
<ellipse cx="191.0" cy="131.4" rx="18.7" ry="32.1" fill="url(#rg7a009a)" opacity="0.8"/>
<ellipse cx="233.8" cy="81.0" rx="6.7" ry="16.1" fill="url(#rg6000a8)" opacity="0.85"/>
<ellipse cx="76.4" cy="158.9" rx="16.1" ry="13.4" fill="url(#rg6a00a4)" opacity="0.85"/>
<ellipse cx="139.1" cy="70.2" rx="34.8" ry="13.4" fill="url(#rg7a0098)" opacity="0.8"/>
<ellipse cx="105.4" cy="113.1" rx="18.7" ry="16.1" fill="url(#rg7a0098)" opacity="0.75"/>
<ellipse cx="189.5" cy="155.9" rx="10.7" ry="10.7" fill="url(#rg6a00a4)" opacity="0.8"/>
<ellipse cx="93.2" cy="70.2" rx="21.4" ry="29.4" fill="url(#rgf00018)" opacity="0.85"/>
<ellipse cx="47.3" cy="139.1" rx="29.4" ry="34.8" fill="url(#rgee001a)" opacity="0.85"/>
<ellipse cx="143.6" cy="87.1" rx="24.1" ry="13.4" fill="url(#rgee001a)" opacity="0.85"/>
<ellipse cx="169.6" cy="58.0" rx="29.4" ry="26.8" fill="url(#rge80020)" opacity="0.81"/>
<ellipse cx="204.8" cy="145.2" rx="29.4" ry="18.7" fill="url(#rgf0001a)" opacity="0.85"/>
<ellipse cx="220.1" cy="58.0" rx="21.4" ry="37.5" fill="url(#rge80020)" opacity="0.81"/>
<ellipse cx="223.1" cy="93.2" rx="16.1" ry="24.1" fill="url(#rge4002a)" opacity="0.77"/>
<ellipse cx="128.3" cy="51.9" rx="24.1" ry="16.1" fill="url(#rge00028)" opacity="0.77"/>
<ellipse cx="70.2" cy="103.9" rx="8.0" ry="16.1" fill="url(#rge80020)" opacity="0.72"/>
<ellipse cx="139.1" cy="113.1" rx="13.4" ry="13.4" fill="url(#rgd80030)" opacity="0.63"/>
<ellipse cx="238.4" cy="131.4" rx="18.7" ry="13.4" fill="url(#rgdc002c)" opacity="0.72"/>
<ellipse cx="113.1" cy="146.7" rx="16.1" ry="26.8" fill="url(#rgc80040)" opacity="0.54"/>
</g>
</svg>
<rect x="1171.2" y="1402.2" width="260.7" height="169.0" fill="none" stroke="#000" stroke-width="1.5"/>
<svg x="1444.8" y="1138.3" width="260.4" height="213.4" viewBox="0 0 260.4 213.4" overflow="hidden">
<rect width="260.4" height="213.4" fill="#f3f3f3"/>
<g filter="url(#rough4)"><path d="M177.7,13.6 C179.7,10.0 185.3,4.8 193.0,2.9 C200.6,1.0 212.6,-2.7 223.5,2.1 C234.5,7.0 252.8,24.9 258.7,31.9 C264.6,38.9 260.5,40.1 258.7,44.2 C256.9,48.2 252.8,56.4 248.0,56.4 C243.2,56.4 236.3,47.2 229.7,44.2 C223.0,41.1 214.9,39.6 208.3,38.0 C201.6,36.5 194.5,37.3 189.9,35.0 C185.3,32.7 182.8,27.8 180.7,24.3 C178.7,20.7 175.6,17.1 177.7,13.6Z" fill="#f5ecef" opacity="0.9" filter="url(#b2)"/>
<path d="M176.9,13.6 C177.7,12.4 180.3,11.8 181.5,12.8 C182.6,13.8 184.0,17.8 183.8,19.7 C183.5,21.6 181.1,24.3 180.0,24.3 C178.8,24.3 177.4,21.5 176.9,19.7 C176.4,17.9 176.1,14.7 176.9,13.6Z" fill="#c0a8cc" opacity="0.8" filter="url(#b1)"/>
<ellipse cx="191.4" cy="7.2" rx="1.5" ry="1.8" fill="#b8a0c8" opacity="0.7" filter="url(#b1)"/>
<path d="M193.0,31.9 C195.5,31.7 202.6,30.4 208.3,30.4 C213.9,30.4 223.0,31.2 226.6,31.9 C230.2,32.7 229.1,34.5 229.7,35.0" fill="none" stroke="#e5a0b8" stroke-width="1.4" stroke-linecap="round" opacity="0.6" filter="url(#b1)"/>
<path d="M23.3,131.3 C24.0,126.2 26.6,118.8 29.4,113.0 C32.2,107.1 35.7,98.7 40.1,96.1 C44.4,93.6 50.3,98.9 55.4,97.7 C60.5,96.4 68.6,88.0 70.6,88.5 C72.7,89.0 69.1,96.1 67.6,100.7 C66.1,105.3 62.5,110.9 61.5,116.0 C60.5,121.1 62.5,126.2 61.5,131.3 C60.5,136.4 55.9,141.5 55.4,146.6 C54.8,151.7 61.0,159.8 58.4,161.9 C55.9,163.9 44.4,159.3 40.1,158.8 C35.7,158.3 35.0,161.4 32.4,158.8 C29.9,156.3 26.3,148.1 24.8,143.5 C23.3,139.0 22.5,136.4 23.3,131.3Z" fill="#e6d0e2" opacity="0.95" filter="url(#b1)"/>
<path d="M58.4,131.3 C60.2,126.7 62.5,123.2 66.1,119.1 C69.6,115.0 76.0,107.6 79.8,106.8 C83.6,106.1 84.9,116.0 89.0,114.5 C93.1,113.0 99.7,99.4 104.3,97.7 C108.9,95.9 112.9,102.6 116.5,104.1 C120.1,105.6 121.1,108.4 125.7,106.8 C130.3,105.3 138.4,97.7 144.0,94.6 C149.6,91.6 155.0,90.3 159.3,88.5 C163.7,86.7 164.9,85.4 170.0,83.9 C175.1,82.4 186.1,81.6 189.9,79.3 C193.7,77.0 194.5,73.2 193.0,70.1 C191.4,67.1 183.8,64.8 180.7,61.0 C177.7,57.2 177.7,50.0 174.6,47.2 C171.6,44.4 167.0,44.5 162.4,44.2 C157.8,43.8 148.4,46.4 147.1,44.9 C145.8,43.4 150.9,37.1 154.7,35.0 C158.6,32.8 164.2,31.6 170.0,31.9 C175.9,32.2 183.5,36.0 189.9,36.8 C196.3,37.6 202.6,36.1 208.3,36.8 C213.9,37.5 220.4,38.6 223.5,41.1 C226.7,43.6 226.4,47.0 226.9,51.8 C227.4,56.6 227.7,64.5 226.6,70.1 C225.5,75.8 222.5,78.8 220.5,85.4 C218.4,92.1 217.7,104.3 214.4,109.9 C211.1,115.5 204.7,116.5 200.6,119.1 C196.5,121.6 193.7,121.6 189.9,125.2 C186.1,128.8 182.8,135.4 177.7,140.5 C172.6,145.6 165.4,151.4 159.3,155.8 C153.2,160.1 144.5,161.6 141.0,166.5 C137.4,171.3 140.7,180.0 137.9,184.8 C135.1,189.7 130.3,194.8 124.2,195.5 C118.0,196.3 110.1,192.7 101.2,189.4 C92.3,186.1 78.3,179.2 70.6,175.6 C63.0,172.1 57.9,172.8 55.4,168.0 C52.8,163.2 54.8,152.7 55.4,146.6 C55.9,140.5 56.6,135.9 58.4,131.3Z" fill="#cb8fb6"/>
<path d="M125.7,109.9 C129.3,105.3 142.0,97.2 147.1,96.1 C152.2,95.1 155.8,100.0 156.3,103.8 C156.8,107.6 153.2,115.0 150.2,119.1 C147.1,123.2 142.0,127.5 137.9,128.2 C133.8,129.0 127.7,126.7 125.7,123.7 C123.7,120.6 122.1,114.5 125.7,109.9Z" fill="#b06a9f" opacity="0.9" filter="url(#b2)"/>
<path d="M76.8,169.5 C76.8,164.1 92.1,159.6 101.2,155.8 C110.4,151.9 122.9,149.1 131.8,146.6 C140.7,144.0 150.7,139.0 154.7,140.5 C158.8,142.0 158.6,151.4 156.3,155.8 C154.0,160.1 144.0,161.6 141.0,166.5 C137.9,171.3 140.7,180.1 137.9,184.8 C135.1,189.5 130.3,194.1 124.2,194.8 C118.0,195.4 109.1,192.8 101.2,188.6 C93.3,184.4 76.8,175.0 76.8,169.5Z" fill="#b873a6" opacity="0.9" filter="url(#b2)"/>
<path d="M174.6,91.6 C179.2,88.0 186.3,84.4 193.0,82.4 C199.6,80.3 210.0,77.8 214.4,79.3 C218.7,80.9 219.2,86.5 219.0,91.6 C218.7,96.6 217.2,105.8 212.8,109.9 C208.5,114.0 198.8,115.5 193.0,116.0 C187.1,116.5 182.3,115.0 177.7,113.0 C173.1,110.9 166.0,107.4 165.4,103.8 C164.9,100.2 170.0,95.1 174.6,91.6Z" fill="#bb78a8" opacity="0.85" filter="url(#b2)"/>
<path d="M183.8,61.0 C184.6,57.4 191.4,55.4 197.6,54.9 C203.7,54.3 216.4,54.3 220.5,57.9 C224.6,61.5 224.1,72.7 222.0,76.3 C220.0,79.8 213.1,79.3 208.3,79.3 C203.4,79.3 197.0,79.3 193.0,76.3 C188.9,73.2 183.0,64.5 183.8,61.0Z" fill="#bd7eac" opacity="0.8" filter="url(#b2)"/>
<path d="M79.8,131.3 C82.4,128.2 93.6,125.2 101.2,125.2 C108.9,125.2 120.6,128.8 125.7,131.3 C130.8,133.9 134.4,138.2 131.8,140.5 C129.3,142.8 118.0,144.6 110.4,145.1 C102.8,145.6 91.0,145.8 85.9,143.5 C80.8,141.2 77.3,134.4 79.8,131.3Z" fill="#b979a8" opacity="0.8" filter="url(#b2)"/>
<path d="M61.5,154.2 C63.0,150.2 67.1,147.9 73.7,146.6 C80.3,145.3 92.6,147.6 101.2,146.6 C109.9,145.6 118.0,143.5 125.7,140.5 C133.3,137.4 141.0,132.8 147.1,128.2 C153.2,123.7 159.3,115.0 162.4,113.0 C165.4,110.9 167.5,112.4 165.4,116.0 C163.4,119.6 156.3,129.3 150.2,134.4 C144.0,139.5 136.4,143.3 128.7,146.6 C121.1,149.9 112.4,151.7 104.3,154.2 C96.1,156.8 86.4,159.1 79.8,161.9 C73.2,164.7 67.6,172.3 64.5,171.1 C61.5,169.8 59.9,158.3 61.5,154.2Z" fill="#ee7a9c" opacity="0.9" filter="url(#b1)"/>
<path d="M174.6,45.7 C175.4,42.9 183.8,42.1 186.8,44.2 C189.9,46.2 190.9,53.6 193.0,57.9 C195.0,62.2 199.1,67.6 199.1,70.1 C199.1,72.7 195.8,74.7 193.0,73.2 C190.2,71.7 185.3,65.6 182.3,61.0 C179.2,56.4 173.9,48.5 174.6,45.7Z" fill="#f090a8" opacity="0.85" filter="url(#b1)"/>
<path d="M199.1,44.2 C202.1,41.9 219.0,39.8 223.5,41.1 C228.1,42.4 226.6,49.0 226.6,51.8 C226.6,54.6 227.1,57.4 223.5,57.9 C220.0,58.4 209.3,57.2 205.2,54.9 C201.1,52.6 196.0,46.4 199.1,44.2Z" fill="#f0a8c0" opacity="0.85" filter="url(#b2)"/>
<path d="M159.3,88.5 C160.9,86.5 169.0,84.9 171.6,85.4 C174.1,85.9 176.1,89.5 174.6,91.6 C173.1,93.6 164.9,98.2 162.4,97.7 C159.8,97.2 157.8,90.5 159.3,88.5Z" fill="#ee88a4" opacity="0.8" filter="url(#b1)"/>
<path d="M70.6,172.6 C71.7,170.8 80.3,168.8 82.9,169.5 C85.4,170.3 87.0,175.4 85.9,177.2 C84.9,179.0 79.3,181.0 76.8,180.2 C74.2,179.5 69.6,174.4 70.6,172.6Z" fill="#d06090" opacity="0.8" filter="url(#b1)"/>
<path d="M147.1,44.2 C145.8,42.6 150.9,37.0 154.7,35.0 C158.6,32.9 164.9,31.4 170.0,31.9 C175.1,32.4 184.6,35.7 185.3,38.0 C186.1,40.3 178.4,44.7 174.6,45.7 C170.8,46.7 167.0,44.4 162.4,44.2 C157.8,43.9 148.4,45.7 147.1,44.2Z" fill="#dcc0dc" opacity="0.9" filter="url(#b1)"/>
<path d="M104.3,97.7 C105.8,96.7 113.2,101.0 116.5,104.1 C119.8,107.1 124.2,113.3 124.2,116.0 C124.2,118.8 119.3,121.6 116.5,120.6 C113.7,119.6 109.4,113.7 107.3,109.9 C105.3,106.1 102.8,98.6 104.3,97.7Z" fill="#ecd0e0" opacity="0.9" filter="url(#b1)"/>
<path d="M89.0,114.5 C91.0,111.9 95.6,109.1 98.2,109.9 C100.7,110.7 104.8,116.0 104.3,119.1 C103.8,122.1 98.2,127.2 95.1,128.2 C92.1,129.3 87.0,127.5 85.9,125.2 C84.9,122.9 87.0,117.0 89.0,114.5Z" fill="#ead0e0" opacity="0.9" filter="url(#b1)"/>
<ellipse cx="43.1" cy="128.2" rx="14.5" ry="21.4" fill="#efe0ea" opacity="0.9" filter="url(#b1)"/>
<path d="M40.1,106.8 C37.3,109.0 31.1,114.0 29.4,119.1 C27.6,124.2 27.6,132.3 29.4,137.4 C31.1,142.5 36.2,148.1 40.1,149.7 C43.9,151.2 49.4,149.7 52.3,146.6 C55.2,143.5 57.1,136.9 57.7,131.3 C58.2,125.7 57.3,117.2 55.4,113.0 C53.4,108.8 48.7,107.1 46.2,106.1 C43.6,105.1 42.9,104.7 40.1,106.8Z" fill="none" stroke="#b088c0" stroke-width="1.6" stroke-linecap="round" opacity="0.8" filter="url(#b1)"/>
<path d="M32.4,122.1 C34.2,118.1 40.8,111.2 44.7,109.9 C48.5,108.6 53.8,110.9 55.4,114.5 C56.9,118.1 56.4,126.0 53.8,131.3 C51.3,136.7 43.4,146.1 40.1,146.6 C36.8,147.1 35.2,138.4 34.0,134.4 C32.7,130.3 30.6,126.2 32.4,122.1Z" fill="#e8708c" opacity="0.9" filter="url(#b1)"/>
<path d="M35.5,134.4 C36.0,136.1 44.9,137.9 47.7,137.4 C50.5,136.9 52.8,133.1 52.3,131.3 C51.8,129.5 47.5,126.2 44.7,126.7 C41.9,127.2 35.0,132.6 35.5,134.4Z" fill="#f0dce6" opacity="0.7" filter="url(#b1)"/>
<path d="M63.0,105.3 C64.8,103.3 70.6,100.2 73.7,100.7 C76.8,101.2 80.8,105.8 81.4,108.4 C81.9,110.9 79.3,114.2 76.8,116.0 C74.2,117.8 68.4,119.6 66.1,119.1 C63.8,118.6 63.5,115.3 63.0,113.0 C62.5,110.7 61.2,107.4 63.0,105.3Z" fill="#f0d0dc" opacity="0.9" filter="url(#b1)"/>
<ellipse cx="66.1" cy="106.8" rx="1.8" ry="1.2" fill="#e0506e" opacity="0.8" filter="url(#b1)"/>
<ellipse cx="73.7" cy="103.8" rx="1.8" ry="1.2" fill="#e0506e" opacity="0.8" filter="url(#b1)"/>
<ellipse cx="78.3" cy="109.9" rx="1.8" ry="1.2" fill="#e0506e" opacity="0.8" filter="url(#b1)"/>
<ellipse cx="67.6" cy="116.0" rx="1.8" ry="1.2" fill="#e0506e" opacity="0.8" filter="url(#b1)"/>
<ellipse cx="53.8" cy="80.5" rx="1.8" ry="1.2" fill="#e0506e" opacity="0.8" filter="url(#b1)"/>
<path d="M101.2,120.6 C103.3,120.2 111.9,120.6 116.5,121.4 C121.1,122.1 128.0,124.3 128.7,125.2 C129.5,126.1 125.2,127.0 121.1,126.7 C117.0,126.5 107.6,124.7 104.3,123.7 C101.0,122.6 99.2,121.0 101.2,120.6Z" fill="#f4f4f4" opacity="0.95" filter="url(#b1)"/>
<path d="M136.4,128.2 C137.2,128.8 139.2,131.6 141.0,131.3 C142.8,131.1 146.1,127.5 147.1,126.7" fill="none" stroke="#f4f4f4" stroke-width="1.4" stroke-linecap="round" opacity="0.9"/>
<path d="M4.9,160.4 C5.4,159.8 7.2,158.1 8.0,157.3 C8.7,156.5 9.2,156.0 9.5,155.8" fill="none" stroke="#8a9a8a" stroke-width="1.0" stroke-linecap="round" opacity="0.8" filter="url(#b1)"/>
<path d="M8.7,171.1 C9.0,170.4 9.7,168.1 10.3,167.2 C10.8,166.3 11.5,166.0 11.8,165.7" fill="none" stroke="#8a9a8a" stroke-width="1.0" stroke-linecap="round" opacity="0.8" filter="url(#b1)"/>
<path d="M220.5,186.7 C221.2,186.6 223.5,186.3 225.1,186.0 C226.6,185.7 228.9,185.0 229.7,184.8" fill="none" stroke="#8a9a8a" stroke-width="1.0" stroke-linecap="round" opacity="0.8" filter="url(#b1)"/>
<path d="M108.1,207.8 C108.5,208.1 109.4,209.9 110.4,210.0 C111.4,210.2 113.6,208.8 114.2,208.5" fill="none" stroke="#8a9a8a" stroke-width="1.0" stroke-linecap="round" opacity="0.8" filter="url(#b1)"/>
<ellipse cx="79.8" cy="45.7" rx="6.1" ry="3.8" fill="#e4e4e4" opacity="0.8" filter="url(#b3)"/></g>
</svg>
<rect x="1444.8" y="1138.3" width="260.4" height="213.4" fill="none" stroke="#000" stroke-width="1.5"/>
<circle cx="1687.1" cy="1156.1" r="12.9" fill="#2a00d5"/>
<svg x="1444.8" y="1383.3" width="260.4" height="213.4" viewBox="0 0 260.4 213.4" overflow="hidden">
<rect width="260.4" height="213.4" fill="#f8f8f8"/>
<g filter="url(#gray)" opacity="0.62"><g filter="url(#rough4)"><path d="M177.7,13.6 C179.7,10.0 185.3,4.8 193.0,2.9 C200.6,1.0 212.6,-2.7 223.5,2.1 C234.5,7.0 252.8,24.9 258.7,31.9 C264.6,38.9 260.5,40.1 258.7,44.2 C256.9,48.2 252.8,56.4 248.0,56.4 C243.2,56.4 236.3,47.2 229.7,44.2 C223.0,41.1 214.9,39.6 208.3,38.0 C201.6,36.5 194.5,37.3 189.9,35.0 C185.3,32.7 182.8,27.8 180.7,24.3 C178.7,20.7 175.6,17.1 177.7,13.6Z" fill="#f5ecef" opacity="0.9" filter="url(#b2)"/>
<path d="M176.9,13.6 C177.7,12.4 180.3,11.8 181.5,12.8 C182.6,13.8 184.0,17.8 183.8,19.7 C183.5,21.6 181.1,24.3 180.0,24.3 C178.8,24.3 177.4,21.5 176.9,19.7 C176.4,17.9 176.1,14.7 176.9,13.6Z" fill="#c0a8cc" opacity="0.8" filter="url(#b1)"/>
<ellipse cx="191.4" cy="7.2" rx="1.5" ry="1.8" fill="#b8a0c8" opacity="0.7" filter="url(#b1)"/>
<path d="M193.0,31.9 C195.5,31.7 202.6,30.4 208.3,30.4 C213.9,30.4 223.0,31.2 226.6,31.9 C230.2,32.7 229.1,34.5 229.7,35.0" fill="none" stroke="#e5a0b8" stroke-width="1.4" stroke-linecap="round" opacity="0.6" filter="url(#b1)"/>
<path d="M23.3,131.3 C24.0,126.2 26.6,118.8 29.4,113.0 C32.2,107.1 35.7,98.7 40.1,96.1 C44.4,93.6 50.3,98.9 55.4,97.7 C60.5,96.4 68.6,88.0 70.6,88.5 C72.7,89.0 69.1,96.1 67.6,100.7 C66.1,105.3 62.5,110.9 61.5,116.0 C60.5,121.1 62.5,126.2 61.5,131.3 C60.5,136.4 55.9,141.5 55.4,146.6 C54.8,151.7 61.0,159.8 58.4,161.9 C55.9,163.9 44.4,159.3 40.1,158.8 C35.7,158.3 35.0,161.4 32.4,158.8 C29.9,156.3 26.3,148.1 24.8,143.5 C23.3,139.0 22.5,136.4 23.3,131.3Z" fill="#e6d0e2" opacity="0.95" filter="url(#b1)"/>
<path d="M58.4,131.3 C60.2,126.7 62.5,123.2 66.1,119.1 C69.6,115.0 76.0,107.6 79.8,106.8 C83.6,106.1 84.9,116.0 89.0,114.5 C93.1,113.0 99.7,99.4 104.3,97.7 C108.9,95.9 112.9,102.6 116.5,104.1 C120.1,105.6 121.1,108.4 125.7,106.8 C130.3,105.3 138.4,97.7 144.0,94.6 C149.6,91.6 155.0,90.3 159.3,88.5 C163.7,86.7 164.9,85.4 170.0,83.9 C175.1,82.4 186.1,81.6 189.9,79.3 C193.7,77.0 194.5,73.2 193.0,70.1 C191.4,67.1 183.8,64.8 180.7,61.0 C177.7,57.2 177.7,50.0 174.6,47.2 C171.6,44.4 167.0,44.5 162.4,44.2 C157.8,43.8 148.4,46.4 147.1,44.9 C145.8,43.4 150.9,37.1 154.7,35.0 C158.6,32.8 164.2,31.6 170.0,31.9 C175.9,32.2 183.5,36.0 189.9,36.8 C196.3,37.6 202.6,36.1 208.3,36.8 C213.9,37.5 220.4,38.6 223.5,41.1 C226.7,43.6 226.4,47.0 226.9,51.8 C227.4,56.6 227.7,64.5 226.6,70.1 C225.5,75.8 222.5,78.8 220.5,85.4 C218.4,92.1 217.7,104.3 214.4,109.9 C211.1,115.5 204.7,116.5 200.6,119.1 C196.5,121.6 193.7,121.6 189.9,125.2 C186.1,128.8 182.8,135.4 177.7,140.5 C172.6,145.6 165.4,151.4 159.3,155.8 C153.2,160.1 144.5,161.6 141.0,166.5 C137.4,171.3 140.7,180.0 137.9,184.8 C135.1,189.7 130.3,194.8 124.2,195.5 C118.0,196.3 110.1,192.7 101.2,189.4 C92.3,186.1 78.3,179.2 70.6,175.6 C63.0,172.1 57.9,172.8 55.4,168.0 C52.8,163.2 54.8,152.7 55.4,146.6 C55.9,140.5 56.6,135.9 58.4,131.3Z" fill="#cb8fb6"/>
<path d="M125.7,109.9 C129.3,105.3 142.0,97.2 147.1,96.1 C152.2,95.1 155.8,100.0 156.3,103.8 C156.8,107.6 153.2,115.0 150.2,119.1 C147.1,123.2 142.0,127.5 137.9,128.2 C133.8,129.0 127.7,126.7 125.7,123.7 C123.7,120.6 122.1,114.5 125.7,109.9Z" fill="#b06a9f" opacity="0.9" filter="url(#b2)"/>
<path d="M76.8,169.5 C76.8,164.1 92.1,159.6 101.2,155.8 C110.4,151.9 122.9,149.1 131.8,146.6 C140.7,144.0 150.7,139.0 154.7,140.5 C158.8,142.0 158.6,151.4 156.3,155.8 C154.0,160.1 144.0,161.6 141.0,166.5 C137.9,171.3 140.7,180.1 137.9,184.8 C135.1,189.5 130.3,194.1 124.2,194.8 C118.0,195.4 109.1,192.8 101.2,188.6 C93.3,184.4 76.8,175.0 76.8,169.5Z" fill="#b873a6" opacity="0.9" filter="url(#b2)"/>
<path d="M174.6,91.6 C179.2,88.0 186.3,84.4 193.0,82.4 C199.6,80.3 210.0,77.8 214.4,79.3 C218.7,80.9 219.2,86.5 219.0,91.6 C218.7,96.6 217.2,105.8 212.8,109.9 C208.5,114.0 198.8,115.5 193.0,116.0 C187.1,116.5 182.3,115.0 177.7,113.0 C173.1,110.9 166.0,107.4 165.4,103.8 C164.9,100.2 170.0,95.1 174.6,91.6Z" fill="#bb78a8" opacity="0.85" filter="url(#b2)"/>
<path d="M183.8,61.0 C184.6,57.4 191.4,55.4 197.6,54.9 C203.7,54.3 216.4,54.3 220.5,57.9 C224.6,61.5 224.1,72.7 222.0,76.3 C220.0,79.8 213.1,79.3 208.3,79.3 C203.4,79.3 197.0,79.3 193.0,76.3 C188.9,73.2 183.0,64.5 183.8,61.0Z" fill="#bd7eac" opacity="0.8" filter="url(#b2)"/>
<path d="M79.8,131.3 C82.4,128.2 93.6,125.2 101.2,125.2 C108.9,125.2 120.6,128.8 125.7,131.3 C130.8,133.9 134.4,138.2 131.8,140.5 C129.3,142.8 118.0,144.6 110.4,145.1 C102.8,145.6 91.0,145.8 85.9,143.5 C80.8,141.2 77.3,134.4 79.8,131.3Z" fill="#b979a8" opacity="0.8" filter="url(#b2)"/>
<path d="M61.5,154.2 C63.0,150.2 67.1,147.9 73.7,146.6 C80.3,145.3 92.6,147.6 101.2,146.6 C109.9,145.6 118.0,143.5 125.7,140.5 C133.3,137.4 141.0,132.8 147.1,128.2 C153.2,123.7 159.3,115.0 162.4,113.0 C165.4,110.9 167.5,112.4 165.4,116.0 C163.4,119.6 156.3,129.3 150.2,134.4 C144.0,139.5 136.4,143.3 128.7,146.6 C121.1,149.9 112.4,151.7 104.3,154.2 C96.1,156.8 86.4,159.1 79.8,161.9 C73.2,164.7 67.6,172.3 64.5,171.1 C61.5,169.8 59.9,158.3 61.5,154.2Z" fill="#ee7a9c" opacity="0.9" filter="url(#b1)"/>
<path d="M174.6,45.7 C175.4,42.9 183.8,42.1 186.8,44.2 C189.9,46.2 190.9,53.6 193.0,57.9 C195.0,62.2 199.1,67.6 199.1,70.1 C199.1,72.7 195.8,74.7 193.0,73.2 C190.2,71.7 185.3,65.6 182.3,61.0 C179.2,56.4 173.9,48.5 174.6,45.7Z" fill="#f090a8" opacity="0.85" filter="url(#b1)"/>
<path d="M199.1,44.2 C202.1,41.9 219.0,39.8 223.5,41.1 C228.1,42.4 226.6,49.0 226.6,51.8 C226.6,54.6 227.1,57.4 223.5,57.9 C220.0,58.4 209.3,57.2 205.2,54.9 C201.1,52.6 196.0,46.4 199.1,44.2Z" fill="#f0a8c0" opacity="0.85" filter="url(#b2)"/>
<path d="M159.3,88.5 C160.9,86.5 169.0,84.9 171.6,85.4 C174.1,85.9 176.1,89.5 174.6,91.6 C173.1,93.6 164.9,98.2 162.4,97.7 C159.8,97.2 157.8,90.5 159.3,88.5Z" fill="#ee88a4" opacity="0.8" filter="url(#b1)"/>
<path d="M70.6,172.6 C71.7,170.8 80.3,168.8 82.9,169.5 C85.4,170.3 87.0,175.4 85.9,177.2 C84.9,179.0 79.3,181.0 76.8,180.2 C74.2,179.5 69.6,174.4 70.6,172.6Z" fill="#d06090" opacity="0.8" filter="url(#b1)"/>
<path d="M147.1,44.2 C145.8,42.6 150.9,37.0 154.7,35.0 C158.6,32.9 164.9,31.4 170.0,31.9 C175.1,32.4 184.6,35.7 185.3,38.0 C186.1,40.3 178.4,44.7 174.6,45.7 C170.8,46.7 167.0,44.4 162.4,44.2 C157.8,43.9 148.4,45.7 147.1,44.2Z" fill="#dcc0dc" opacity="0.9" filter="url(#b1)"/>
<path d="M104.3,97.7 C105.8,96.7 113.2,101.0 116.5,104.1 C119.8,107.1 124.2,113.3 124.2,116.0 C124.2,118.8 119.3,121.6 116.5,120.6 C113.7,119.6 109.4,113.7 107.3,109.9 C105.3,106.1 102.8,98.6 104.3,97.7Z" fill="#ecd0e0" opacity="0.9" filter="url(#b1)"/>
<path d="M89.0,114.5 C91.0,111.9 95.6,109.1 98.2,109.9 C100.7,110.7 104.8,116.0 104.3,119.1 C103.8,122.1 98.2,127.2 95.1,128.2 C92.1,129.3 87.0,127.5 85.9,125.2 C84.9,122.9 87.0,117.0 89.0,114.5Z" fill="#ead0e0" opacity="0.9" filter="url(#b1)"/>
<ellipse cx="43.1" cy="128.2" rx="14.5" ry="21.4" fill="#efe0ea" opacity="0.9" filter="url(#b1)"/>
<path d="M40.1,106.8 C37.3,109.0 31.1,114.0 29.4,119.1 C27.6,124.2 27.6,132.3 29.4,137.4 C31.1,142.5 36.2,148.1 40.1,149.7 C43.9,151.2 49.4,149.7 52.3,146.6 C55.2,143.5 57.1,136.9 57.7,131.3 C58.2,125.7 57.3,117.2 55.4,113.0 C53.4,108.8 48.7,107.1 46.2,106.1 C43.6,105.1 42.9,104.7 40.1,106.8Z" fill="none" stroke="#b088c0" stroke-width="1.6" stroke-linecap="round" opacity="0.8" filter="url(#b1)"/>
<path d="M32.4,122.1 C34.2,118.1 40.8,111.2 44.7,109.9 C48.5,108.6 53.8,110.9 55.4,114.5 C56.9,118.1 56.4,126.0 53.8,131.3 C51.3,136.7 43.4,146.1 40.1,146.6 C36.8,147.1 35.2,138.4 34.0,134.4 C32.7,130.3 30.6,126.2 32.4,122.1Z" fill="#e8708c" opacity="0.9" filter="url(#b1)"/>
<path d="M35.5,134.4 C36.0,136.1 44.9,137.9 47.7,137.4 C50.5,136.9 52.8,133.1 52.3,131.3 C51.8,129.5 47.5,126.2 44.7,126.7 C41.9,127.2 35.0,132.6 35.5,134.4Z" fill="#f0dce6" opacity="0.7" filter="url(#b1)"/>
<path d="M63.0,105.3 C64.8,103.3 70.6,100.2 73.7,100.7 C76.8,101.2 80.8,105.8 81.4,108.4 C81.9,110.9 79.3,114.2 76.8,116.0 C74.2,117.8 68.4,119.6 66.1,119.1 C63.8,118.6 63.5,115.3 63.0,113.0 C62.5,110.7 61.2,107.4 63.0,105.3Z" fill="#f0d0dc" opacity="0.9" filter="url(#b1)"/>
<ellipse cx="66.1" cy="106.8" rx="1.8" ry="1.2" fill="#e0506e" opacity="0.8" filter="url(#b1)"/>
<ellipse cx="73.7" cy="103.8" rx="1.8" ry="1.2" fill="#e0506e" opacity="0.8" filter="url(#b1)"/>
<ellipse cx="78.3" cy="109.9" rx="1.8" ry="1.2" fill="#e0506e" opacity="0.8" filter="url(#b1)"/>
<ellipse cx="67.6" cy="116.0" rx="1.8" ry="1.2" fill="#e0506e" opacity="0.8" filter="url(#b1)"/>
<ellipse cx="53.8" cy="80.5" rx="1.8" ry="1.2" fill="#e0506e" opacity="0.8" filter="url(#b1)"/>
<path d="M101.2,120.6 C103.3,120.2 111.9,120.6 116.5,121.4 C121.1,122.1 128.0,124.3 128.7,125.2 C129.5,126.1 125.2,127.0 121.1,126.7 C117.0,126.5 107.6,124.7 104.3,123.7 C101.0,122.6 99.2,121.0 101.2,120.6Z" fill="#f4f4f4" opacity="0.95" filter="url(#b1)"/>
<path d="M136.4,128.2 C137.2,128.8 139.2,131.6 141.0,131.3 C142.8,131.1 146.1,127.5 147.1,126.7" fill="none" stroke="#f4f4f4" stroke-width="1.4" stroke-linecap="round" opacity="0.9"/>
<path d="M4.9,160.4 C5.4,159.8 7.2,158.1 8.0,157.3 C8.7,156.5 9.2,156.0 9.5,155.8" fill="none" stroke="#8a9a8a" stroke-width="1.0" stroke-linecap="round" opacity="0.8" filter="url(#b1)"/>
<path d="M8.7,171.1 C9.0,170.4 9.7,168.1 10.3,167.2 C10.8,166.3 11.5,166.0 11.8,165.7" fill="none" stroke="#8a9a8a" stroke-width="1.0" stroke-linecap="round" opacity="0.8" filter="url(#b1)"/>
<path d="M220.5,186.7 C221.2,186.6 223.5,186.3 225.1,186.0 C226.6,185.7 228.9,185.0 229.7,184.8" fill="none" stroke="#8a9a8a" stroke-width="1.0" stroke-linecap="round" opacity="0.8" filter="url(#b1)"/>
<path d="M108.1,207.8 C108.5,208.1 109.4,209.9 110.4,210.0 C111.4,210.2 113.6,208.8 114.2,208.5" fill="none" stroke="#8a9a8a" stroke-width="1.0" stroke-linecap="round" opacity="0.8" filter="url(#b1)"/>
<ellipse cx="79.8" cy="45.7" rx="6.1" ry="3.8" fill="#e4e4e4" opacity="0.8" filter="url(#b3)"/></g></g>
<g clip-path="url(#pm5)">
<rect width="260.4" height="213.4" fill="#6200ac"/>
<ellipse cx="89.0" cy="169.5" rx="16.1" ry="18.7" fill="url(#rg3000d4)" opacity="0.9"/>
<ellipse cx="139.5" cy="134.4" rx="26.8" ry="16.1" fill="url(#rg3a00cc)" opacity="0.85"/>
<ellipse cx="147.1" cy="155.8" rx="10.7" ry="6.7" fill="url(#rg2c00d8)" opacity="0.9"/>
<ellipse cx="46.2" cy="117.5" rx="10.7" ry="8.0" fill="url(#rg3400d0)" opacity="0.9"/>
<ellipse cx="98.2" cy="195.5" rx="10.7" ry="6.7" fill="url(#rg3000d4)" opacity="0.9"/>
<ellipse cx="208.3" cy="100.7" rx="8.0" ry="10.7" fill="url(#rg4400c4)" opacity="0.8"/>
<ellipse cx="116.5" cy="146.6" rx="21.4" ry="13.4" fill="url(#rg4400c4)" opacity="0.7"/>
<ellipse cx="40.1" cy="139.0" rx="10.7" ry="13.4" fill="url(#rg4a00c0)" opacity="0.7"/>
<ellipse cx="59.9" cy="164.9" rx="18.7" ry="16.1" fill="url(#rgb80058)" opacity="0.9"/>
<ellipse cx="189.9" cy="134.4" rx="18.7" ry="16.1" fill="url(#rgb00060)" opacity="0.85"/>
<ellipse cx="188.4" cy="57.9" rx="34.8" ry="24.1" fill="url(#rg98007a)" opacity="0.8"/>
<ellipse cx="170.0" cy="146.6" rx="34.8" ry="13.4" fill="url(#rg98007a)" opacity="0.5"/>
<ellipse cx="95.1" cy="123.7" rx="13.4" ry="8.0" fill="url(#rga8006a)" opacity="0.8"/>
<ellipse cx="122.6" cy="190.9" rx="13.4" ry="8.0" fill="url(#rgb80058)" opacity="0.8"/>
<ellipse cx="196.0" cy="106.8" rx="24.1" ry="10.7" fill="url(#rga00070)" opacity="0.7"/>
<ellipse cx="125.7" cy="158.8" rx="21.4" ry="10.7" fill="url(#rga0006c)" opacity="0.7"/>
<ellipse cx="147.1" cy="116.0" rx="21.4" ry="8.0" fill="url(#rg980074)" opacity="0.6"/>
<ellipse cx="98.2" cy="184.8" rx="10.7" ry="5.4" fill="url(#rga80064)" opacity="0.7"/>
</g>
</svg>
<rect x="1444.8" y="1383.3" width="260.4" height="213.4" fill="none" stroke="#000" stroke-width="1.5"/>
</svg>
</body></html>
